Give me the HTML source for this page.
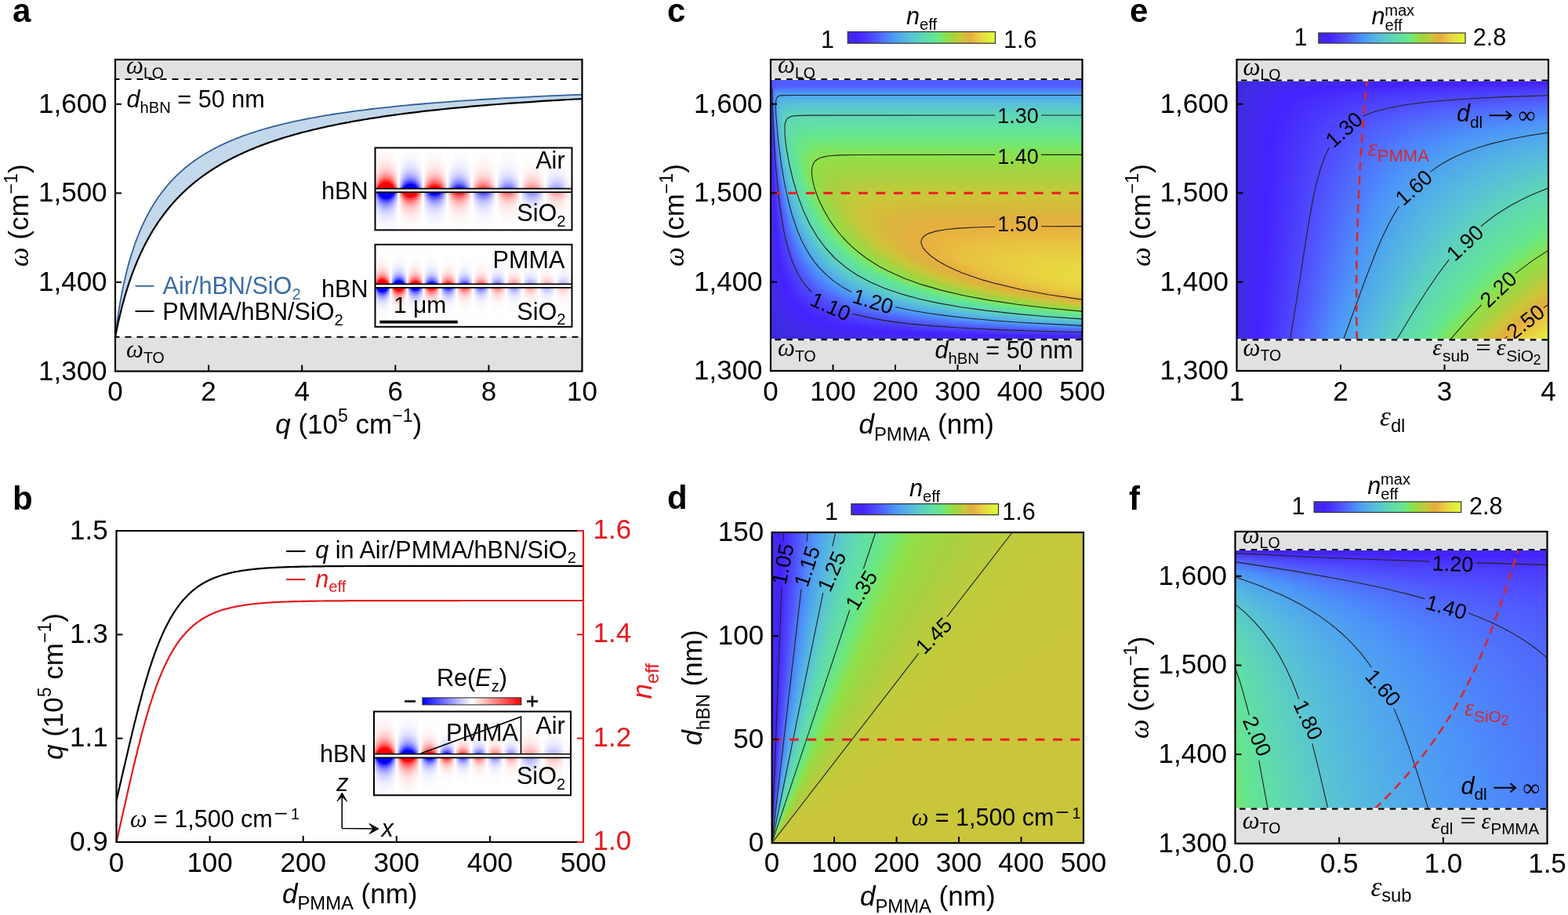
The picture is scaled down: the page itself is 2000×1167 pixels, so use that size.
<!DOCTYPE html>
<html><head><meta charset="utf-8"><title>Figure</title>
<style>
html,body{margin:0;padding:0;background:#fff}
body{width:2000px;height:1167px;position:relative;overflow:hidden}
canvas{position:absolute}
svg{position:absolute;left:0;top:0}
text{font-family:"Liberation Sans", Arial, sans-serif;}
</style></head><body>
<svg class="fb" width="2000" height="1167"><defs><linearGradient id="fbc0"><stop offset="0.000" stop-color="#3c28dc"/><stop offset="0.059" stop-color="#505cfe"/><stop offset="0.118" stop-color="#505cfe"/><stop offset="0.176" stop-color="#505cfe"/><stop offset="0.235" stop-color="#505cfe"/><stop offset="0.294" stop-color="#505cfe"/><stop offset="0.353" stop-color="#505cfe"/><stop offset="0.412" stop-color="#505cfe"/><stop offset="0.471" stop-color="#505cfe"/><stop offset="0.529" stop-color="#505cfe"/><stop offset="0.588" stop-color="#505cfe"/><stop offset="0.647" stop-color="#505cfe"/><stop offset="0.706" stop-color="#505cfe"/><stop offset="0.765" stop-color="#505cfe"/><stop offset="0.824" stop-color="#505cfe"/><stop offset="0.882" stop-color="#505cfe"/><stop offset="0.941" stop-color="#505cfe"/><stop offset="1.000" stop-color="#505cfe"/></linearGradient><linearGradient id="fbc1"><stop offset="0.000" stop-color="#3c28dc"/><stop offset="0.059" stop-color="#4d97f6"/><stop offset="0.118" stop-color="#4d97f6"/><stop offset="0.176" stop-color="#4d97f6"/><stop offset="0.235" stop-color="#4d97f6"/><stop offset="0.294" stop-color="#4d97f6"/><stop offset="0.353" stop-color="#4d97f6"/><stop offset="0.412" stop-color="#4d97f6"/><stop offset="0.471" stop-color="#4d97f6"/><stop offset="0.529" stop-color="#4d97f6"/><stop offset="0.588" stop-color="#4d97f6"/><stop offset="0.647" stop-color="#4d97f6"/><stop offset="0.706" stop-color="#4d97f6"/><stop offset="0.765" stop-color="#4d97f6"/><stop offset="0.824" stop-color="#4d97f6"/><stop offset="0.882" stop-color="#4d97f6"/><stop offset="0.941" stop-color="#4d97f6"/><stop offset="1.000" stop-color="#4d97f6"/></linearGradient><linearGradient id="fbc2"><stop offset="0.000" stop-color="#3c28dc"/><stop offset="0.059" stop-color="#56badd"/><stop offset="0.118" stop-color="#56badd"/><stop offset="0.176" stop-color="#56badd"/><stop offset="0.235" stop-color="#56badd"/><stop offset="0.294" stop-color="#56badd"/><stop offset="0.353" stop-color="#56badd"/><stop offset="0.412" stop-color="#56badd"/><stop offset="0.471" stop-color="#56badd"/><stop offset="0.529" stop-color="#56badd"/><stop offset="0.588" stop-color="#56badd"/><stop offset="0.647" stop-color="#56badd"/><stop offset="0.706" stop-color="#56badd"/><stop offset="0.765" stop-color="#56badd"/><stop offset="0.824" stop-color="#56badd"/><stop offset="0.882" stop-color="#56badd"/><stop offset="0.941" stop-color="#56badd"/><stop offset="1.000" stop-color="#56badd"/></linearGradient><linearGradient id="fbc3"><stop offset="0.000" stop-color="#3c28dc"/><stop offset="0.059" stop-color="#5bcec3"/><stop offset="0.118" stop-color="#5cd0c1"/><stop offset="0.176" stop-color="#5cd0c1"/><stop offset="0.235" stop-color="#5cd0c1"/><stop offset="0.294" stop-color="#5cd0c1"/><stop offset="0.353" stop-color="#5cd0c1"/><stop offset="0.412" stop-color="#5cd0c1"/><stop offset="0.471" stop-color="#5cd0c1"/><stop offset="0.529" stop-color="#5cd0c1"/><stop offset="0.588" stop-color="#5cd0c1"/><stop offset="0.647" stop-color="#5cd0c1"/><stop offset="0.706" stop-color="#5cd0c1"/><stop offset="0.765" stop-color="#5cd0c1"/><stop offset="0.824" stop-color="#5cd0c1"/><stop offset="0.882" stop-color="#5cd0c1"/><stop offset="0.941" stop-color="#5cd0c1"/><stop offset="1.000" stop-color="#5cd0c1"/></linearGradient><linearGradient id="fbc4"><stop offset="0.000" stop-color="#3c28dc"/><stop offset="0.059" stop-color="#5fd8b2"/><stop offset="0.118" stop-color="#60dbab"/><stop offset="0.176" stop-color="#60dcab"/><stop offset="0.235" stop-color="#60dcab"/><stop offset="0.294" stop-color="#60dcab"/><stop offset="0.353" stop-color="#60dcab"/><stop offset="0.412" stop-color="#60dcab"/><stop offset="0.471" stop-color="#60dcab"/><stop offset="0.529" stop-color="#60dcab"/><stop offset="0.588" stop-color="#60dcab"/><stop offset="0.647" stop-color="#60dcab"/><stop offset="0.706" stop-color="#60dcab"/><stop offset="0.765" stop-color="#60dcab"/><stop offset="0.824" stop-color="#60dcab"/><stop offset="0.882" stop-color="#60dcab"/><stop offset="0.941" stop-color="#60dcab"/><stop offset="1.000" stop-color="#60dcab"/></linearGradient><linearGradient id="fbc5"><stop offset="0.000" stop-color="#3c28dc"/><stop offset="0.059" stop-color="#60dca9"/><stop offset="0.118" stop-color="#63e29a"/><stop offset="0.176" stop-color="#63e299"/><stop offset="0.235" stop-color="#63e299"/><stop offset="0.294" stop-color="#63e299"/><stop offset="0.353" stop-color="#63e299"/><stop offset="0.412" stop-color="#63e299"/><stop offset="0.471" stop-color="#63e299"/><stop offset="0.529" stop-color="#63e299"/><stop offset="0.588" stop-color="#63e299"/><stop offset="0.647" stop-color="#63e299"/><stop offset="0.706" stop-color="#63e299"/><stop offset="0.765" stop-color="#63e299"/><stop offset="0.824" stop-color="#63e299"/><stop offset="0.882" stop-color="#63e299"/><stop offset="0.941" stop-color="#63e299"/><stop offset="1.000" stop-color="#63e299"/></linearGradient><linearGradient id="fbc6"><stop offset="0.000" stop-color="#3c28dc"/><stop offset="0.059" stop-color="#61dda6"/><stop offset="0.118" stop-color="#6ae687"/><stop offset="0.176" stop-color="#6ce782"/><stop offset="0.235" stop-color="#6ce781"/><stop offset="0.294" stop-color="#6ce781"/><stop offset="0.353" stop-color="#6ce781"/><stop offset="0.412" stop-color="#6ce781"/><stop offset="0.471" stop-color="#6ce781"/><stop offset="0.529" stop-color="#6ce781"/><stop offset="0.588" stop-color="#6ce781"/><stop offset="0.647" stop-color="#6ce781"/><stop offset="0.706" stop-color="#6ce781"/><stop offset="0.765" stop-color="#6ce781"/><stop offset="0.824" stop-color="#6ce781"/><stop offset="0.882" stop-color="#6ce781"/><stop offset="0.941" stop-color="#6ce781"/><stop offset="1.000" stop-color="#6ce781"/></linearGradient><linearGradient id="fbc7"><stop offset="0.000" stop-color="#3c28dc"/><stop offset="0.059" stop-color="#60dcaa"/><stop offset="0.118" stop-color="#73e773"/><stop offset="0.176" stop-color="#7de565"/><stop offset="0.235" stop-color="#7ee563"/><stop offset="0.294" stop-color="#7ee463"/><stop offset="0.353" stop-color="#7ee463"/><stop offset="0.412" stop-color="#7ee463"/><stop offset="0.471" stop-color="#7ee463"/><stop offset="0.529" stop-color="#7ee463"/><stop offset="0.588" stop-color="#7ee463"/><stop offset="0.647" stop-color="#7ee463"/><stop offset="0.706" stop-color="#7ee463"/><stop offset="0.765" stop-color="#7ee463"/><stop offset="0.824" stop-color="#7ee463"/><stop offset="0.882" stop-color="#7ee463"/><stop offset="0.941" stop-color="#7ee463"/><stop offset="1.000" stop-color="#7ee463"/></linearGradient><linearGradient id="fbc8"><stop offset="0.000" stop-color="#3c28dc"/><stop offset="0.059" stop-color="#5fd8b2"/><stop offset="0.118" stop-color="#7de565"/><stop offset="0.176" stop-color="#8ee14b"/><stop offset="0.235" stop-color="#91df48"/><stop offset="0.294" stop-color="#91df48"/><stop offset="0.353" stop-color="#91df48"/><stop offset="0.412" stop-color="#91df48"/><stop offset="0.471" stop-color="#91df48"/><stop offset="0.529" stop-color="#91df48"/><stop offset="0.588" stop-color="#91df48"/><stop offset="0.647" stop-color="#91df48"/><stop offset="0.706" stop-color="#91df48"/><stop offset="0.765" stop-color="#91df48"/><stop offset="0.824" stop-color="#91df48"/><stop offset="0.882" stop-color="#91df48"/><stop offset="0.941" stop-color="#91df48"/><stop offset="1.000" stop-color="#91df48"/></linearGradient><linearGradient id="fbc9"><stop offset="0.000" stop-color="#3c28dc"/><stop offset="0.059" stop-color="#5cd1be"/><stop offset="0.118" stop-color="#80e461"/><stop offset="0.176" stop-color="#98db45"/><stop offset="0.235" stop-color="#9cd844"/><stop offset="0.294" stop-color="#9dd744"/><stop offset="0.353" stop-color="#9ed743"/><stop offset="0.412" stop-color="#9ed743"/><stop offset="0.471" stop-color="#9ed743"/><stop offset="0.529" stop-color="#9ed743"/><stop offset="0.588" stop-color="#9ed743"/><stop offset="0.647" stop-color="#9ed743"/><stop offset="0.706" stop-color="#9ed743"/><stop offset="0.765" stop-color="#9ed743"/><stop offset="0.824" stop-color="#9ed743"/><stop offset="0.882" stop-color="#9ed743"/><stop offset="0.941" stop-color="#9ed743"/><stop offset="1.000" stop-color="#9ed743"/></linearGradient><linearGradient id="fbc10"><stop offset="0.000" stop-color="#3c28dc"/><stop offset="0.059" stop-color="#5ac7cd"/><stop offset="0.118" stop-color="#7be567"/><stop offset="0.176" stop-color="#9ed743"/><stop offset="0.235" stop-color="#a6d241"/><stop offset="0.294" stop-color="#a8d040"/><stop offset="0.353" stop-color="#a9d040"/><stop offset="0.412" stop-color="#aad040"/><stop offset="0.471" stop-color="#aad040"/><stop offset="0.529" stop-color="#aad040"/><stop offset="0.588" stop-color="#aad040"/><stop offset="0.647" stop-color="#aad040"/><stop offset="0.706" stop-color="#aad040"/><stop offset="0.765" stop-color="#aad040"/><stop offset="0.824" stop-color="#aad040"/><stop offset="0.882" stop-color="#aad040"/><stop offset="0.941" stop-color="#aad040"/><stop offset="1.000" stop-color="#aad040"/></linearGradient><linearGradient id="fbc11"><stop offset="0.000" stop-color="#3c28dc"/><stop offset="0.059" stop-color="#56bbdc"/><stop offset="0.118" stop-color="#70e878"/><stop offset="0.176" stop-color="#a0d643"/><stop offset="0.235" stop-color="#b0ce3f"/><stop offset="0.294" stop-color="#b7cd3e"/><stop offset="0.353" stop-color="#b9cc3d"/><stop offset="0.412" stop-color="#bacc3d"/><stop offset="0.471" stop-color="#bacc3d"/><stop offset="0.529" stop-color="#bbcc3d"/><stop offset="0.588" stop-color="#bbcc3d"/><stop offset="0.647" stop-color="#bbcc3d"/><stop offset="0.706" stop-color="#bbcc3d"/><stop offset="0.765" stop-color="#bbcc3d"/><stop offset="0.824" stop-color="#bbcc3d"/><stop offset="0.882" stop-color="#bbcc3d"/><stop offset="0.941" stop-color="#bbcc3d"/><stop offset="1.000" stop-color="#bbcc3d"/></linearGradient><linearGradient id="fbc12"><stop offset="0.000" stop-color="#3c28dc"/><stop offset="0.059" stop-color="#52afe6"/><stop offset="0.118" stop-color="#67e58c"/><stop offset="0.176" stop-color="#9ed743"/><stop offset="0.235" stop-color="#b6cd3e"/><stop offset="0.294" stop-color="#c2ca3c"/><stop offset="0.353" stop-color="#c7c83b"/><stop offset="0.412" stop-color="#c9c73b"/><stop offset="0.471" stop-color="#cac63b"/><stop offset="0.529" stop-color="#cac63b"/><stop offset="0.588" stop-color="#cac63b"/><stop offset="0.647" stop-color="#cac63b"/><stop offset="0.706" stop-color="#cac63b"/><stop offset="0.765" stop-color="#cac63b"/><stop offset="0.824" stop-color="#cac63b"/><stop offset="0.882" stop-color="#cac63b"/><stop offset="0.941" stop-color="#cac63b"/><stop offset="1.000" stop-color="#cac63b"/></linearGradient><linearGradient id="fbc13"><stop offset="0.000" stop-color="#3c28dc"/><stop offset="0.059" stop-color="#4fa1f0"/><stop offset="0.118" stop-color="#62e19d"/><stop offset="0.176" stop-color="#97db46"/><stop offset="0.235" stop-color="#b8cd3d"/><stop offset="0.294" stop-color="#cac63b"/><stop offset="0.353" stop-color="#d1c23a"/><stop offset="0.412" stop-color="#d2bf3b"/><stop offset="0.471" stop-color="#d3be3b"/><stop offset="0.529" stop-color="#d4be3b"/><stop offset="0.588" stop-color="#d4be3b"/><stop offset="0.647" stop-color="#d4be3b"/><stop offset="0.706" stop-color="#d4bd3b"/><stop offset="0.765" stop-color="#d4bd3b"/><stop offset="0.824" stop-color="#d4bd3b"/><stop offset="0.882" stop-color="#d4bd3b"/><stop offset="0.941" stop-color="#d4bd3b"/><stop offset="1.000" stop-color="#d4bd3b"/></linearGradient><linearGradient id="fbc14"><stop offset="0.000" stop-color="#3c28dc"/><stop offset="0.059" stop-color="#4c91f9"/><stop offset="0.118" stop-color="#5fdaae"/><stop offset="0.176" stop-color="#8ae251"/><stop offset="0.235" stop-color="#b2ce3e"/><stop offset="0.294" stop-color="#cdc53a"/><stop offset="0.353" stop-color="#d5bd3b"/><stop offset="0.412" stop-color="#d8b83c"/><stop offset="0.471" stop-color="#dab63d"/><stop offset="0.529" stop-color="#dbb53d"/><stop offset="0.588" stop-color="#dbb53e"/><stop offset="0.647" stop-color="#dcb43e"/><stop offset="0.706" stop-color="#dcb43e"/><stop offset="0.765" stop-color="#dcb43e"/><stop offset="0.824" stop-color="#dcb43e"/><stop offset="0.882" stop-color="#dcb43e"/><stop offset="0.941" stop-color="#dcb43e"/><stop offset="1.000" stop-color="#dcb43e"/></linearGradient><linearGradient id="fbc15"><stop offset="0.000" stop-color="#3c28dc"/><stop offset="0.059" stop-color="#4e7dfb"/><stop offset="0.118" stop-color="#5cd0c0"/><stop offset="0.176" stop-color="#72e775"/><stop offset="0.235" stop-color="#a6d141"/><stop offset="0.294" stop-color="#cac63b"/><stop offset="0.353" stop-color="#d6ba3c"/><stop offset="0.412" stop-color="#ddb33e"/><stop offset="0.471" stop-color="#e0b040"/><stop offset="0.529" stop-color="#e2b040"/><stop offset="0.588" stop-color="#e3b040"/><stop offset="0.647" stop-color="#e4b040"/><stop offset="0.706" stop-color="#e4b040"/><stop offset="0.765" stop-color="#e4b040"/><stop offset="0.824" stop-color="#e4b040"/><stop offset="0.882" stop-color="#e5b040"/><stop offset="0.941" stop-color="#e5b040"/><stop offset="1.000" stop-color="#e5b040"/></linearGradient><linearGradient id="fbc16"><stop offset="0.000" stop-color="#3c28dc"/><stop offset="0.059" stop-color="#506afd"/><stop offset="0.118" stop-color="#59c2d5"/><stop offset="0.176" stop-color="#64e495"/><stop offset="0.235" stop-color="#98da45"/><stop offset="0.294" stop-color="#c0cb3c"/><stop offset="0.353" stop-color="#d5bc3b"/><stop offset="0.412" stop-color="#dfb13f"/><stop offset="0.471" stop-color="#e5b040"/><stop offset="0.529" stop-color="#e8b040"/><stop offset="0.588" stop-color="#e8b340"/><stop offset="0.647" stop-color="#e8b440"/><stop offset="0.706" stop-color="#e8b540"/><stop offset="0.765" stop-color="#e8b640"/><stop offset="0.824" stop-color="#e8b640"/><stop offset="0.882" stop-color="#e8b640"/><stop offset="0.941" stop-color="#e8b640"/><stop offset="1.000" stop-color="#e8b740"/></linearGradient><linearGradient id="fbc17"><stop offset="0.000" stop-color="#3c28dc"/><stop offset="0.059" stop-color="#5059fe"/><stop offset="0.118" stop-color="#54b3e3"/><stop offset="0.176" stop-color="#60dca9"/><stop offset="0.235" stop-color="#80e460"/><stop offset="0.294" stop-color="#abcf3f"/><stop offset="0.353" stop-color="#d0c33a"/><stop offset="0.412" stop-color="#ddb33e"/><stop offset="0.471" stop-color="#e6b040"/><stop offset="0.529" stop-color="#e8b540"/><stop offset="0.588" stop-color="#e8b940"/><stop offset="0.647" stop-color="#e8bc40"/><stop offset="0.706" stop-color="#e8be40"/><stop offset="0.765" stop-color="#e8c040"/><stop offset="0.824" stop-color="#e8c040"/><stop offset="0.882" stop-color="#e8c140"/><stop offset="0.941" stop-color="#e8c140"/><stop offset="1.000" stop-color="#e8c140"/></linearGradient><linearGradient id="fbc18"><stop offset="0.000" stop-color="#3c28dc"/><stop offset="0.059" stop-color="#4f4bfe"/><stop offset="0.118" stop-color="#4fa2ef"/><stop offset="0.176" stop-color="#5cd1bf"/><stop offset="0.235" stop-color="#67e58d"/><stop offset="0.294" stop-color="#97db46"/><stop offset="0.353" stop-color="#bdcc3d"/><stop offset="0.412" stop-color="#d6bb3b"/><stop offset="0.471" stop-color="#e3b040"/><stop offset="0.529" stop-color="#e8b540"/><stop offset="0.588" stop-color="#e8bc40"/><stop offset="0.647" stop-color="#e8c240"/><stop offset="0.706" stop-color="#e8c540"/><stop offset="0.765" stop-color="#e8c840"/><stop offset="0.824" stop-color="#e8ca40"/><stop offset="0.882" stop-color="#e8cb40"/><stop offset="0.941" stop-color="#e8cc40"/><stop offset="1.000" stop-color="#e8cc40"/></linearGradient><linearGradient id="fbc19"><stop offset="0.000" stop-color="#3c28dc"/><stop offset="0.059" stop-color="#4c41fd"/><stop offset="0.118" stop-color="#4c8efa"/><stop offset="0.176" stop-color="#58bfd8"/><stop offset="0.235" stop-color="#60dda8"/><stop offset="0.294" stop-color="#74e771"/><stop offset="0.353" stop-color="#a0d543"/><stop offset="0.412" stop-color="#c5c83b"/><stop offset="0.471" stop-color="#d9b73d"/><stop offset="0.529" stop-color="#e6b040"/><stop offset="0.588" stop-color="#e8ba40"/><stop offset="0.647" stop-color="#e8c340"/><stop offset="0.706" stop-color="#e8c940"/><stop offset="0.765" stop-color="#e8cd40"/><stop offset="0.824" stop-color="#e8d040"/><stop offset="0.882" stop-color="#e8d240"/><stop offset="0.941" stop-color="#e8d440"/><stop offset="1.000" stop-color="#e8d540"/></linearGradient><linearGradient id="fbc20"><stop offset="0.000" stop-color="#3c28dc"/><stop offset="0.059" stop-color="#4a37fc"/><stop offset="0.118" stop-color="#4f75fc"/><stop offset="0.176" stop-color="#52ade8"/><stop offset="0.235" stop-color="#5bcec3"/><stop offset="0.294" stop-color="#62e19d"/><stop offset="0.353" stop-color="#7ee564"/><stop offset="0.412" stop-color="#a2d442"/><stop offset="0.471" stop-color="#c6c83b"/><stop offset="0.529" stop-color="#d9b73c"/><stop offset="0.588" stop-color="#e7b040"/><stop offset="0.647" stop-color="#e8bb40"/><stop offset="0.706" stop-color="#e8c540"/><stop offset="0.765" stop-color="#e8cd40"/><stop offset="0.824" stop-color="#e8d240"/><stop offset="0.882" stop-color="#e8d640"/><stop offset="0.941" stop-color="#e8d840"/><stop offset="1.000" stop-color="#e8da40"/></linearGradient><linearGradient id="fbc21"><stop offset="0.000" stop-color="#3c28dc"/><stop offset="0.059" stop-color="#472ffd"/><stop offset="0.118" stop-color="#505dfe"/><stop offset="0.176" stop-color="#4d96f7"/><stop offset="0.235" stop-color="#56b9de"/><stop offset="0.294" stop-color="#5dd3bb"/><stop offset="0.353" stop-color="#63e19c"/><stop offset="0.412" stop-color="#7ae66a"/><stop offset="0.471" stop-color="#9dd744"/><stop offset="0.529" stop-color="#bccc3d"/><stop offset="0.588" stop-color="#d4bd3b"/><stop offset="0.647" stop-color="#e2b040"/><stop offset="0.706" stop-color="#e8b740"/><stop offset="0.765" stop-color="#e8c340"/><stop offset="0.824" stop-color="#e8cd40"/><stop offset="0.882" stop-color="#e8d340"/><stop offset="0.941" stop-color="#e8d840"/><stop offset="1.000" stop-color="#e8dc40"/></linearGradient><linearGradient id="fbc22"><stop offset="0.000" stop-color="#3c28dc"/><stop offset="0.059" stop-color="#4527fe"/><stop offset="0.118" stop-color="#4e49fe"/><stop offset="0.176" stop-color="#4f77fc"/><stop offset="0.235" stop-color="#4fa0f0"/><stop offset="0.294" stop-color="#56bbdc"/><stop offset="0.353" stop-color="#5cd1be"/><stop offset="0.412" stop-color="#61dfa3"/><stop offset="0.471" stop-color="#6ce782"/><stop offset="0.529" stop-color="#8de14c"/><stop offset="0.588" stop-color="#a5d241"/><stop offset="0.647" stop-color="#c3ca3c"/><stop offset="0.706" stop-color="#d6bb3c"/><stop offset="0.765" stop-color="#e3b040"/><stop offset="0.824" stop-color="#e8b840"/><stop offset="0.882" stop-color="#e8c440"/><stop offset="0.941" stop-color="#e8ce40"/><stop offset="1.000" stop-color="#e8d540"/></linearGradient><linearGradient id="fbc23"><stop offset="0.000" stop-color="#3c28dc"/><stop offset="0.059" stop-color="#4423fd"/><stop offset="0.118" stop-color="#4b3afc"/><stop offset="0.176" stop-color="#5058fe"/><stop offset="0.235" stop-color="#4e7efb"/><stop offset="0.294" stop-color="#4e9ff1"/><stop offset="0.353" stop-color="#54b5e1"/><stop offset="0.412" stop-color="#5ac8cc"/><stop offset="0.471" stop-color="#5ed6b4"/><stop offset="0.529" stop-color="#62e09f"/><stop offset="0.588" stop-color="#6ce782"/><stop offset="0.647" stop-color="#87e256"/><stop offset="0.706" stop-color="#9dd744"/><stop offset="0.765" stop-color="#b4ce3e"/><stop offset="0.824" stop-color="#cdc53a"/><stop offset="0.882" stop-color="#d9b73c"/><stop offset="0.941" stop-color="#e5b040"/><stop offset="1.000" stop-color="#e8b940"/></linearGradient><linearGradient id="fbc24"><stop offset="0.000" stop-color="#3c28dc"/><stop offset="0.059" stop-color="#4326f5"/><stop offset="0.118" stop-color="#472dfe"/><stop offset="0.176" stop-color="#4c41fd"/><stop offset="0.235" stop-color="#5058fe"/><stop offset="0.294" stop-color="#4f75fc"/><stop offset="0.353" stop-color="#4c91f9"/><stop offset="0.412" stop-color="#50a6ed"/><stop offset="0.471" stop-color="#55b6e1"/><stop offset="0.529" stop-color="#59c4d2"/><stop offset="0.588" stop-color="#5cd1be"/><stop offset="0.647" stop-color="#5fdaad"/><stop offset="0.706" stop-color="#62e19d"/><stop offset="0.765" stop-color="#6ae687"/><stop offset="0.824" stop-color="#7ce566"/><stop offset="0.882" stop-color="#93de47"/><stop offset="0.941" stop-color="#a2d442"/><stop offset="1.000" stop-color="#b6cd3e"/></linearGradient><linearGradient id="fbc25"><stop offset="0.000" stop-color="#3c28dc"/><stop offset="0.059" stop-color="#4128ee"/><stop offset="0.118" stop-color="#4423fe"/><stop offset="0.176" stop-color="#472efd"/><stop offset="0.235" stop-color="#4b3cfc"/><stop offset="0.294" stop-color="#4f4afe"/><stop offset="0.353" stop-color="#505cfe"/><stop offset="0.412" stop-color="#5070fc"/><stop offset="0.471" stop-color="#4d84fb"/><stop offset="0.529" stop-color="#4d96f7"/><stop offset="0.588" stop-color="#4fa4ee"/><stop offset="0.647" stop-color="#53b0e5"/><stop offset="0.706" stop-color="#56badd"/><stop offset="0.765" stop-color="#59c4d2"/><stop offset="0.824" stop-color="#5bcec3"/><stop offset="0.882" stop-color="#5ed5b7"/><stop offset="0.941" stop-color="#60dcab"/><stop offset="1.000" stop-color="#62e09f"/></linearGradient><linearGradient id="fbc26"><stop offset="0.000" stop-color="#3c28dc"/><stop offset="0.059" stop-color="#402be7"/><stop offset="0.118" stop-color="#4227f0"/><stop offset="0.176" stop-color="#4324f9"/><stop offset="0.235" stop-color="#4525ff"/><stop offset="0.294" stop-color="#472dfe"/><stop offset="0.353" stop-color="#4935fc"/><stop offset="0.412" stop-color="#4b3dfd"/><stop offset="0.471" stop-color="#4d45fe"/><stop offset="0.529" stop-color="#4f4eff"/><stop offset="0.588" stop-color="#5058fe"/><stop offset="0.647" stop-color="#5064fd"/><stop offset="0.706" stop-color="#506ffc"/><stop offset="0.765" stop-color="#4f7bfb"/><stop offset="0.824" stop-color="#4d87fb"/><stop offset="0.882" stop-color="#4c92f9"/><stop offset="0.941" stop-color="#4e9af4"/><stop offset="1.000" stop-color="#4fa3ef"/></linearGradient><linearGradient id="fbc27"><stop offset="0.000" stop-color="#3c28dc"/><stop offset="0.059" stop-color="#3e2ae0"/><stop offset="0.118" stop-color="#402ce4"/><stop offset="0.176" stop-color="#402be7"/><stop offset="0.235" stop-color="#412aea"/><stop offset="0.294" stop-color="#4129ed"/><stop offset="0.353" stop-color="#4228f0"/><stop offset="0.412" stop-color="#4227f3"/><stop offset="0.471" stop-color="#4326f6"/><stop offset="0.529" stop-color="#4324f9"/><stop offset="0.588" stop-color="#4323fb"/><stop offset="0.647" stop-color="#4422fe"/><stop offset="0.706" stop-color="#4524ff"/><stop offset="0.765" stop-color="#4527fe"/><stop offset="0.824" stop-color="#4629fe"/><stop offset="0.882" stop-color="#472cfe"/><stop offset="0.941" stop-color="#472efd"/><stop offset="1.000" stop-color="#4831fd"/></linearGradient><linearGradient id="fbd0"><stop offset="0.000" stop-color="#3c28dc"/><stop offset="0.059" stop-color="#4b3cfc"/><stop offset="0.118" stop-color="#4e7ffb"/><stop offset="0.176" stop-color="#53b1e5"/><stop offset="0.235" stop-color="#5ccec3"/><stop offset="0.294" stop-color="#61dea5"/><stop offset="0.353" stop-color="#69e688"/><stop offset="0.412" stop-color="#80e460"/><stop offset="0.471" stop-color="#94dd47"/><stop offset="0.529" stop-color="#9fd643"/><stop offset="0.588" stop-color="#a7d040"/><stop offset="0.647" stop-color="#b1ce3f"/><stop offset="0.706" stop-color="#b8cd3d"/><stop offset="0.765" stop-color="#bdcc3d"/><stop offset="0.824" stop-color="#c0cb3c"/><stop offset="0.882" stop-color="#c3ca3c"/><stop offset="0.941" stop-color="#c5c93b"/><stop offset="1.000" stop-color="#c6c83b"/></linearGradient><linearGradient id="fbd1"><stop offset="0.000" stop-color="#3c28dc"/><stop offset="0.059" stop-color="#4b3efd"/><stop offset="0.118" stop-color="#4e84fb"/><stop offset="0.176" stop-color="#54b5e2"/><stop offset="0.235" stop-color="#5cd1be"/><stop offset="0.294" stop-color="#62e0a0"/><stop offset="0.353" stop-color="#6de77f"/><stop offset="0.412" stop-color="#86e256"/><stop offset="0.471" stop-color="#98db45"/><stop offset="0.529" stop-color="#a2d442"/><stop offset="0.588" stop-color="#abcf3f"/><stop offset="0.647" stop-color="#b4ce3e"/><stop offset="0.706" stop-color="#bacc3d"/><stop offset="0.765" stop-color="#bfcb3c"/><stop offset="0.824" stop-color="#c2ca3c"/><stop offset="0.882" stop-color="#c4c93b"/><stop offset="0.941" stop-color="#c6c83b"/><stop offset="1.000" stop-color="#c7c83b"/></linearGradient><linearGradient id="fbd2"><stop offset="0.000" stop-color="#3c28dc"/><stop offset="0.059" stop-color="#4c40fd"/><stop offset="0.118" stop-color="#4d8afa"/><stop offset="0.176" stop-color="#55b8de"/><stop offset="0.235" stop-color="#5dd4b8"/><stop offset="0.294" stop-color="#63e29b"/><stop offset="0.353" stop-color="#71e876"/><stop offset="0.412" stop-color="#8de14d"/><stop offset="0.471" stop-color="#9cd844"/><stop offset="0.529" stop-color="#a5d241"/><stop offset="0.588" stop-color="#afcf3f"/><stop offset="0.647" stop-color="#b7cd3e"/><stop offset="0.706" stop-color="#bccc3d"/><stop offset="0.765" stop-color="#c0cb3c"/><stop offset="0.824" stop-color="#c3ca3c"/><stop offset="0.882" stop-color="#c5c93b"/><stop offset="0.941" stop-color="#c7c83b"/><stop offset="1.000" stop-color="#c8c73b"/></linearGradient><linearGradient id="fbd3"><stop offset="0.000" stop-color="#3c28dc"/><stop offset="0.059" stop-color="#4d43fd"/><stop offset="0.118" stop-color="#4c90fa"/><stop offset="0.176" stop-color="#57bddb"/><stop offset="0.235" stop-color="#5ed7b3"/><stop offset="0.294" stop-color="#64e396"/><stop offset="0.353" stop-color="#79e66b"/><stop offset="0.412" stop-color="#92de47"/><stop offset="0.471" stop-color="#9fd643"/><stop offset="0.529" stop-color="#a8d040"/><stop offset="0.588" stop-color="#b2ce3e"/><stop offset="0.647" stop-color="#bacc3d"/><stop offset="0.706" stop-color="#bfcb3c"/><stop offset="0.765" stop-color="#c2ca3c"/><stop offset="0.824" stop-color="#c4c93b"/><stop offset="0.882" stop-color="#c6c83b"/><stop offset="0.941" stop-color="#c7c83b"/><stop offset="1.000" stop-color="#c8c73b"/></linearGradient><linearGradient id="fbd4"><stop offset="0.000" stop-color="#3c28dc"/><stop offset="0.059" stop-color="#4d45fe"/><stop offset="0.118" stop-color="#4d95f7"/><stop offset="0.176" stop-color="#58c1d7"/><stop offset="0.235" stop-color="#5fdaad"/><stop offset="0.294" stop-color="#67e58d"/><stop offset="0.353" stop-color="#80e45f"/><stop offset="0.412" stop-color="#97dc46"/><stop offset="0.471" stop-color="#a3d442"/><stop offset="0.529" stop-color="#adcf3f"/><stop offset="0.588" stop-color="#b6cd3e"/><stop offset="0.647" stop-color="#bccc3d"/><stop offset="0.706" stop-color="#c0cb3c"/><stop offset="0.765" stop-color="#c3c93c"/><stop offset="0.824" stop-color="#c5c83b"/><stop offset="0.882" stop-color="#c7c83b"/><stop offset="0.941" stop-color="#c8c73b"/><stop offset="1.000" stop-color="#c9c73b"/></linearGradient><linearGradient id="fbd5"><stop offset="0.000" stop-color="#3c28dc"/><stop offset="0.059" stop-color="#4e48fe"/><stop offset="0.118" stop-color="#4e9af4"/><stop offset="0.176" stop-color="#59c5d0"/><stop offset="0.235" stop-color="#60dda8"/><stop offset="0.294" stop-color="#6be683"/><stop offset="0.353" stop-color="#88e254"/><stop offset="0.412" stop-color="#9bd944"/><stop offset="0.471" stop-color="#a6d141"/><stop offset="0.529" stop-color="#b1ce3f"/><stop offset="0.588" stop-color="#b9cc3d"/><stop offset="0.647" stop-color="#becb3c"/><stop offset="0.706" stop-color="#c2ca3c"/><stop offset="0.765" stop-color="#c5c93b"/><stop offset="0.824" stop-color="#c6c83b"/><stop offset="0.882" stop-color="#c8c73b"/><stop offset="0.941" stop-color="#c8c73b"/><stop offset="1.000" stop-color="#c9c73b"/></linearGradient><linearGradient id="fbd6"><stop offset="0.000" stop-color="#3c28dc"/><stop offset="0.059" stop-color="#4f4bfe"/><stop offset="0.118" stop-color="#4f9ff1"/><stop offset="0.176" stop-color="#5acac9"/><stop offset="0.235" stop-color="#62dfa2"/><stop offset="0.294" stop-color="#6fe879"/><stop offset="0.353" stop-color="#90e049"/><stop offset="0.412" stop-color="#9fd643"/><stop offset="0.471" stop-color="#aad040"/><stop offset="0.529" stop-color="#b4cd3e"/><stop offset="0.588" stop-color="#bccc3d"/><stop offset="0.647" stop-color="#c1cb3c"/><stop offset="0.706" stop-color="#c4c93c"/><stop offset="0.765" stop-color="#c6c83b"/><stop offset="0.824" stop-color="#c7c83b"/><stop offset="0.882" stop-color="#c8c73b"/><stop offset="0.941" stop-color="#c9c73b"/><stop offset="1.000" stop-color="#c9c73b"/></linearGradient><linearGradient id="fbd7"><stop offset="0.000" stop-color="#3c28dc"/><stop offset="0.059" stop-color="#504fff"/><stop offset="0.118" stop-color="#50a5ee"/><stop offset="0.176" stop-color="#5ccfc2"/><stop offset="0.235" stop-color="#63e19b"/><stop offset="0.294" stop-color="#78e66c"/><stop offset="0.353" stop-color="#95dd46"/><stop offset="0.412" stop-color="#a3d342"/><stop offset="0.471" stop-color="#aecf3f"/><stop offset="0.529" stop-color="#b8cd3d"/><stop offset="0.588" stop-color="#becb3c"/><stop offset="0.647" stop-color="#c2ca3c"/><stop offset="0.706" stop-color="#c5c93b"/><stop offset="0.765" stop-color="#c7c83b"/><stop offset="0.824" stop-color="#c8c73b"/><stop offset="0.882" stop-color="#c9c73b"/><stop offset="0.941" stop-color="#c9c73b"/><stop offset="1.000" stop-color="#cac73b"/></linearGradient><linearGradient id="fbd8"><stop offset="0.000" stop-color="#3c28dc"/><stop offset="0.059" stop-color="#5054ff"/><stop offset="0.118" stop-color="#51abea"/><stop offset="0.176" stop-color="#5dd3bb"/><stop offset="0.235" stop-color="#64e495"/><stop offset="0.294" stop-color="#81e45e"/><stop offset="0.353" stop-color="#9ad945"/><stop offset="0.412" stop-color="#a7d140"/><stop offset="0.471" stop-color="#b3ce3e"/><stop offset="0.529" stop-color="#bbcc3d"/><stop offset="0.588" stop-color="#c1cb3c"/><stop offset="0.647" stop-color="#c4c93b"/><stop offset="0.706" stop-color="#c6c83b"/><stop offset="0.765" stop-color="#c8c73b"/><stop offset="0.824" stop-color="#c8c73b"/><stop offset="0.882" stop-color="#c9c73b"/><stop offset="0.941" stop-color="#c9c73b"/><stop offset="1.000" stop-color="#cac63b"/></linearGradient><linearGradient id="fbd9"><stop offset="0.000" stop-color="#3c28dc"/><stop offset="0.059" stop-color="#5059fe"/><stop offset="0.118" stop-color="#53b0e5"/><stop offset="0.176" stop-color="#5ed7b4"/><stop offset="0.235" stop-color="#68e58a"/><stop offset="0.294" stop-color="#8ae150"/><stop offset="0.353" stop-color="#9fd643"/><stop offset="0.412" stop-color="#abcf3f"/><stop offset="0.471" stop-color="#b7cd3e"/><stop offset="0.529" stop-color="#becb3c"/><stop offset="0.588" stop-color="#c3ca3c"/><stop offset="0.647" stop-color="#c5c83b"/><stop offset="0.706" stop-color="#c7c83b"/><stop offset="0.765" stop-color="#c8c73b"/><stop offset="0.824" stop-color="#c9c73b"/><stop offset="0.882" stop-color="#c9c73b"/><stop offset="0.941" stop-color="#cac63b"/><stop offset="1.000" stop-color="#cac63b"/></linearGradient><linearGradient id="fbd10"><stop offset="0.000" stop-color="#3c28dc"/><stop offset="0.059" stop-color="#5060fe"/><stop offset="0.118" stop-color="#55b6e1"/><stop offset="0.176" stop-color="#60dbac"/><stop offset="0.235" stop-color="#6ee77d"/><stop offset="0.294" stop-color="#92de47"/><stop offset="0.353" stop-color="#a3d342"/><stop offset="0.412" stop-color="#b1ce3f"/><stop offset="0.471" stop-color="#bbcc3d"/><stop offset="0.529" stop-color="#c1cb3c"/><stop offset="0.588" stop-color="#c4c93b"/><stop offset="0.647" stop-color="#c7c83b"/><stop offset="0.706" stop-color="#c8c73b"/><stop offset="0.765" stop-color="#c9c73b"/><stop offset="0.824" stop-color="#c9c73b"/><stop offset="0.882" stop-color="#cac63b"/><stop offset="0.941" stop-color="#cac63b"/><stop offset="1.000" stop-color="#cac63b"/></linearGradient><linearGradient id="fbd11"><stop offset="0.000" stop-color="#3c28dc"/><stop offset="0.059" stop-color="#5066fd"/><stop offset="0.118" stop-color="#57bcdc"/><stop offset="0.176" stop-color="#61dea5"/><stop offset="0.235" stop-color="#77e66e"/><stop offset="0.294" stop-color="#98da45"/><stop offset="0.353" stop-color="#a7d040"/><stop offset="0.412" stop-color="#b6cd3e"/><stop offset="0.471" stop-color="#becb3c"/><stop offset="0.529" stop-color="#c3ca3c"/><stop offset="0.588" stop-color="#c6c83b"/><stop offset="0.647" stop-color="#c8c73b"/><stop offset="0.706" stop-color="#c9c73b"/><stop offset="0.765" stop-color="#c9c73b"/><stop offset="0.824" stop-color="#cac73b"/><stop offset="0.882" stop-color="#cac63b"/><stop offset="0.941" stop-color="#cac63b"/><stop offset="1.000" stop-color="#cac63b"/></linearGradient><linearGradient id="fbd12"><stop offset="0.000" stop-color="#3c28dc"/><stop offset="0.059" stop-color="#506efc"/><stop offset="0.118" stop-color="#59c2d5"/><stop offset="0.176" stop-color="#62e19c"/><stop offset="0.235" stop-color="#82e35c"/><stop offset="0.294" stop-color="#9ed743"/><stop offset="0.353" stop-color="#aecf3f"/><stop offset="0.412" stop-color="#bacc3d"/><stop offset="0.471" stop-color="#c1cb3c"/><stop offset="0.529" stop-color="#c5c93b"/><stop offset="0.588" stop-color="#c7c83b"/><stop offset="0.647" stop-color="#c8c73b"/><stop offset="0.706" stop-color="#c9c73b"/><stop offset="0.765" stop-color="#cac73b"/><stop offset="0.824" stop-color="#cac63b"/><stop offset="0.882" stop-color="#cac63b"/><stop offset="0.941" stop-color="#cac63b"/><stop offset="1.000" stop-color="#cac63b"/></linearGradient><linearGradient id="fbd13"><stop offset="0.000" stop-color="#3c28dc"/><stop offset="0.059" stop-color="#4f77fc"/><stop offset="0.118" stop-color="#5ac9cb"/><stop offset="0.176" stop-color="#64e494"/><stop offset="0.235" stop-color="#8ee14b"/><stop offset="0.294" stop-color="#a4d341"/><stop offset="0.353" stop-color="#b4ce3e"/><stop offset="0.412" stop-color="#becb3c"/><stop offset="0.471" stop-color="#c3c93c"/><stop offset="0.529" stop-color="#c6c83b"/><stop offset="0.588" stop-color="#c8c73b"/><stop offset="0.647" stop-color="#c9c73b"/><stop offset="0.706" stop-color="#c9c73b"/><stop offset="0.765" stop-color="#cac63b"/><stop offset="0.824" stop-color="#cac63b"/><stop offset="0.882" stop-color="#cac63b"/><stop offset="0.941" stop-color="#cac63b"/><stop offset="1.000" stop-color="#cac63b"/></linearGradient><linearGradient id="fbd14"><stop offset="0.000" stop-color="#3c28dc"/><stop offset="0.059" stop-color="#4e81fb"/><stop offset="0.118" stop-color="#5cd0c0"/><stop offset="0.176" stop-color="#6be683"/><stop offset="0.235" stop-color="#96dc46"/><stop offset="0.294" stop-color="#a9d040"/><stop offset="0.353" stop-color="#b9cc3d"/><stop offset="0.412" stop-color="#c1ca3c"/><stop offset="0.471" stop-color="#c5c93b"/><stop offset="0.529" stop-color="#c8c73b"/><stop offset="0.588" stop-color="#c9c73b"/><stop offset="0.647" stop-color="#c9c73b"/><stop offset="0.706" stop-color="#cac63b"/><stop offset="0.765" stop-color="#cac63b"/><stop offset="0.824" stop-color="#cac63b"/><stop offset="0.882" stop-color="#cac63b"/><stop offset="0.941" stop-color="#cac63b"/><stop offset="1.000" stop-color="#cac63b"/></linearGradient><linearGradient id="fbd15"><stop offset="0.000" stop-color="#3c28dc"/><stop offset="0.059" stop-color="#4c8dfa"/><stop offset="0.118" stop-color="#5ed6b6"/><stop offset="0.176" stop-color="#75e771"/><stop offset="0.235" stop-color="#9dd744"/><stop offset="0.294" stop-color="#b1ce3f"/><stop offset="0.353" stop-color="#bdcc3c"/><stop offset="0.412" stop-color="#c4c93b"/><stop offset="0.471" stop-color="#c7c83b"/><stop offset="0.529" stop-color="#c9c73b"/><stop offset="0.588" stop-color="#c9c73b"/><stop offset="0.647" stop-color="#cac63b"/><stop offset="0.706" stop-color="#cac63b"/><stop offset="0.765" stop-color="#cac63b"/><stop offset="0.824" stop-color="#cac63b"/><stop offset="0.882" stop-color="#cac63b"/><stop offset="0.941" stop-color="#cac63b"/><stop offset="1.000" stop-color="#cac63b"/></linearGradient><linearGradient id="fbd16"><stop offset="0.000" stop-color="#3c28dc"/><stop offset="0.059" stop-color="#4d97f6"/><stop offset="0.118" stop-color="#60dcaa"/><stop offset="0.176" stop-color="#84e35a"/><stop offset="0.235" stop-color="#a4d341"/><stop offset="0.294" stop-color="#b7cd3d"/><stop offset="0.353" stop-color="#c1ca3c"/><stop offset="0.412" stop-color="#c6c83b"/><stop offset="0.471" stop-color="#c8c73b"/><stop offset="0.529" stop-color="#c9c73b"/><stop offset="0.588" stop-color="#cac63b"/><stop offset="0.647" stop-color="#cac63b"/><stop offset="0.706" stop-color="#cac63b"/><stop offset="0.765" stop-color="#cac63b"/><stop offset="0.824" stop-color="#cac63b"/><stop offset="0.882" stop-color="#cac63b"/><stop offset="0.941" stop-color="#cac63b"/><stop offset="1.000" stop-color="#cac63b"/></linearGradient><linearGradient id="fbd17"><stop offset="0.000" stop-color="#3c28dc"/><stop offset="0.059" stop-color="#4fa2ef"/><stop offset="0.118" stop-color="#62e09e"/><stop offset="0.176" stop-color="#92de47"/><stop offset="0.235" stop-color="#accf3f"/><stop offset="0.294" stop-color="#bdcc3c"/><stop offset="0.353" stop-color="#c4c93b"/><stop offset="0.412" stop-color="#c8c73b"/><stop offset="0.471" stop-color="#c9c73b"/><stop offset="0.529" stop-color="#cac63b"/><stop offset="0.588" stop-color="#cac63b"/><stop offset="0.647" stop-color="#cac63b"/><stop offset="0.706" stop-color="#cac63b"/><stop offset="0.765" stop-color="#cac63b"/><stop offset="0.824" stop-color="#cac63b"/><stop offset="0.882" stop-color="#cac63b"/><stop offset="0.941" stop-color="#cac63b"/><stop offset="1.000" stop-color="#cac63b"/></linearGradient><linearGradient id="fbd18"><stop offset="0.000" stop-color="#3c28dc"/><stop offset="0.059" stop-color="#52ade8"/><stop offset="0.118" stop-color="#66e590"/><stop offset="0.176" stop-color="#9cd844"/><stop offset="0.235" stop-color="#b5cd3e"/><stop offset="0.294" stop-color="#c2ca3c"/><stop offset="0.353" stop-color="#c7c83b"/><stop offset="0.412" stop-color="#c9c73b"/><stop offset="0.471" stop-color="#cac73b"/><stop offset="0.529" stop-color="#cac63b"/><stop offset="0.588" stop-color="#cac63b"/><stop offset="0.647" stop-color="#cac63b"/><stop offset="0.706" stop-color="#cac63b"/><stop offset="0.765" stop-color="#cac63b"/><stop offset="0.824" stop-color="#cac63b"/><stop offset="0.882" stop-color="#cac63b"/><stop offset="0.941" stop-color="#cac63b"/><stop offset="1.000" stop-color="#cac63b"/></linearGradient><linearGradient id="fbd19"><stop offset="0.000" stop-color="#3c28dc"/><stop offset="0.059" stop-color="#55b8de"/><stop offset="0.118" stop-color="#71e876"/><stop offset="0.176" stop-color="#a5d241"/><stop offset="0.235" stop-color="#bccc3d"/><stop offset="0.294" stop-color="#c5c93b"/><stop offset="0.353" stop-color="#c8c73b"/><stop offset="0.412" stop-color="#c9c73b"/><stop offset="0.471" stop-color="#cac63b"/><stop offset="0.529" stop-color="#cac63b"/><stop offset="0.588" stop-color="#cac63b"/><stop offset="0.647" stop-color="#cac63b"/><stop offset="0.706" stop-color="#cac63b"/><stop offset="0.765" stop-color="#cac63b"/><stop offset="0.824" stop-color="#cac63b"/><stop offset="0.882" stop-color="#cac63b"/><stop offset="0.941" stop-color="#cac63b"/><stop offset="1.000" stop-color="#cac63b"/></linearGradient><linearGradient id="fbd20"><stop offset="0.000" stop-color="#3c28dc"/><stop offset="0.059" stop-color="#59c5d0"/><stop offset="0.118" stop-color="#88e254"/><stop offset="0.176" stop-color="#b1ce3f"/><stop offset="0.235" stop-color="#c2ca3c"/><stop offset="0.294" stop-color="#c8c73b"/><stop offset="0.353" stop-color="#c9c73b"/><stop offset="0.412" stop-color="#cac63b"/><stop offset="0.471" stop-color="#cac63b"/><stop offset="0.529" stop-color="#cac63b"/><stop offset="0.588" stop-color="#cac63b"/><stop offset="0.647" stop-color="#cac63b"/><stop offset="0.706" stop-color="#cac63b"/><stop offset="0.765" stop-color="#cac63b"/><stop offset="0.824" stop-color="#cac63b"/><stop offset="0.882" stop-color="#cac63b"/><stop offset="0.941" stop-color="#cac63b"/><stop offset="1.000" stop-color="#cac63b"/></linearGradient><linearGradient id="fbd21"><stop offset="0.000" stop-color="#3c28dc"/><stop offset="0.059" stop-color="#5dd3bb"/><stop offset="0.118" stop-color="#9ad945"/><stop offset="0.176" stop-color="#bbcc3d"/><stop offset="0.235" stop-color="#c6c83b"/><stop offset="0.294" stop-color="#c9c73b"/><stop offset="0.353" stop-color="#cac63b"/><stop offset="0.412" stop-color="#cac63b"/><stop offset="0.471" stop-color="#cac63b"/><stop offset="0.529" stop-color="#cac63b"/><stop offset="0.588" stop-color="#cac63b"/><stop offset="0.647" stop-color="#cac63b"/><stop offset="0.706" stop-color="#cac63b"/><stop offset="0.765" stop-color="#cac63b"/><stop offset="0.824" stop-color="#cac63b"/><stop offset="0.882" stop-color="#cac63b"/><stop offset="0.941" stop-color="#cac63b"/><stop offset="1.000" stop-color="#cac63b"/></linearGradient><linearGradient id="fbd22"><stop offset="0.000" stop-color="#3c28dc"/><stop offset="0.059" stop-color="#61dea5"/><stop offset="0.118" stop-color="#a7d040"/><stop offset="0.176" stop-color="#c3ca3c"/><stop offset="0.235" stop-color="#c9c73b"/><stop offset="0.294" stop-color="#cac63b"/><stop offset="0.353" stop-color="#cac63b"/><stop offset="0.412" stop-color="#cac63b"/><stop offset="0.471" stop-color="#cac63b"/><stop offset="0.529" stop-color="#cac63b"/><stop offset="0.588" stop-color="#cac63b"/><stop offset="0.647" stop-color="#cac63b"/><stop offset="0.706" stop-color="#cac63b"/><stop offset="0.765" stop-color="#cac63b"/><stop offset="0.824" stop-color="#cac63b"/><stop offset="0.882" stop-color="#cac63b"/><stop offset="0.941" stop-color="#cac63b"/><stop offset="1.000" stop-color="#cac63b"/></linearGradient><linearGradient id="fbd23"><stop offset="0.000" stop-color="#3c28dc"/><stop offset="0.059" stop-color="#6be683"/><stop offset="0.118" stop-color="#b9cc3d"/><stop offset="0.176" stop-color="#c8c73b"/><stop offset="0.235" stop-color="#cac63b"/><stop offset="0.294" stop-color="#cac63b"/><stop offset="0.353" stop-color="#cac63b"/><stop offset="0.412" stop-color="#cac63b"/><stop offset="0.471" stop-color="#cac63b"/><stop offset="0.529" stop-color="#cac63b"/><stop offset="0.588" stop-color="#cac63b"/><stop offset="0.647" stop-color="#cac63b"/><stop offset="0.706" stop-color="#cac63b"/><stop offset="0.765" stop-color="#cac63b"/><stop offset="0.824" stop-color="#cac63b"/><stop offset="0.882" stop-color="#cac63b"/><stop offset="0.941" stop-color="#cac63b"/><stop offset="1.000" stop-color="#cac63b"/></linearGradient><linearGradient id="fbd24"><stop offset="0.000" stop-color="#3c28dc"/><stop offset="0.059" stop-color="#92de47"/><stop offset="0.118" stop-color="#c4c93b"/><stop offset="0.176" stop-color="#cac63b"/><stop offset="0.235" stop-color="#cac63b"/><stop offset="0.294" stop-color="#cac63b"/><stop offset="0.353" stop-color="#cac63b"/><stop offset="0.412" stop-color="#cac63b"/><stop offset="0.471" stop-color="#cac63b"/><stop offset="0.529" stop-color="#cac63b"/><stop offset="0.588" stop-color="#cac63b"/><stop offset="0.647" stop-color="#cac63b"/><stop offset="0.706" stop-color="#cac63b"/><stop offset="0.765" stop-color="#cac63b"/><stop offset="0.824" stop-color="#cac63b"/><stop offset="0.882" stop-color="#cac63b"/><stop offset="0.941" stop-color="#cac63b"/><stop offset="1.000" stop-color="#cac63b"/></linearGradient><linearGradient id="fbd25"><stop offset="0.000" stop-color="#3c28dc"/><stop offset="0.059" stop-color="#b1ce3f"/><stop offset="0.118" stop-color="#c9c73b"/><stop offset="0.176" stop-color="#cac63b"/><stop offset="0.235" stop-color="#cac63b"/><stop offset="0.294" stop-color="#cac63b"/><stop offset="0.353" stop-color="#cac63b"/><stop offset="0.412" stop-color="#cac63b"/><stop offset="0.471" stop-color="#cac63b"/><stop offset="0.529" stop-color="#cac63b"/><stop offset="0.588" stop-color="#cac63b"/><stop offset="0.647" stop-color="#cac63b"/><stop offset="0.706" stop-color="#cac63b"/><stop offset="0.765" stop-color="#cac63b"/><stop offset="0.824" stop-color="#cac63b"/><stop offset="0.882" stop-color="#cac63b"/><stop offset="0.941" stop-color="#cac63b"/><stop offset="1.000" stop-color="#cac63b"/></linearGradient><linearGradient id="fbd26"><stop offset="0.000" stop-color="#3c28dc"/><stop offset="0.059" stop-color="#c8c73b"/><stop offset="0.118" stop-color="#cac63b"/><stop offset="0.176" stop-color="#cac63b"/><stop offset="0.235" stop-color="#cac63b"/><stop offset="0.294" stop-color="#cac63b"/><stop offset="0.353" stop-color="#cac63b"/><stop offset="0.412" stop-color="#cac63b"/><stop offset="0.471" stop-color="#cac63b"/><stop offset="0.529" stop-color="#cac63b"/><stop offset="0.588" stop-color="#cac63b"/><stop offset="0.647" stop-color="#cac63b"/><stop offset="0.706" stop-color="#cac63b"/><stop offset="0.765" stop-color="#cac63b"/><stop offset="0.824" stop-color="#cac63b"/><stop offset="0.882" stop-color="#cac63b"/><stop offset="0.941" stop-color="#cac63b"/><stop offset="1.000" stop-color="#cac63b"/></linearGradient><linearGradient id="fbd27"><stop offset="0.000" stop-color="#3c28dc"/><stop offset="0.059" stop-color="#cac63b"/><stop offset="0.118" stop-color="#cac63b"/><stop offset="0.176" stop-color="#cac63b"/><stop offset="0.235" stop-color="#cac63b"/><stop offset="0.294" stop-color="#cac63b"/><stop offset="0.353" stop-color="#cac63b"/><stop offset="0.412" stop-color="#cac63b"/><stop offset="0.471" stop-color="#cac63b"/><stop offset="0.529" stop-color="#cac63b"/><stop offset="0.588" stop-color="#cac63b"/><stop offset="0.647" stop-color="#cac63b"/><stop offset="0.706" stop-color="#cac63b"/><stop offset="0.765" stop-color="#cac63b"/><stop offset="0.824" stop-color="#cac63b"/><stop offset="0.882" stop-color="#cac63b"/><stop offset="0.941" stop-color="#cac63b"/><stop offset="1.000" stop-color="#cac63b"/></linearGradient><linearGradient id="fbe0"><stop offset="0.000" stop-color="#3c28dc"/><stop offset="0.059" stop-color="#402be6"/><stop offset="0.118" stop-color="#4129eb"/><stop offset="0.176" stop-color="#4228f0"/><stop offset="0.235" stop-color="#4226f4"/><stop offset="0.294" stop-color="#4325f7"/><stop offset="0.353" stop-color="#4324f9"/><stop offset="0.412" stop-color="#4323fb"/><stop offset="0.471" stop-color="#4423fd"/><stop offset="0.529" stop-color="#4422ff"/><stop offset="0.588" stop-color="#4423ff"/><stop offset="0.647" stop-color="#4524ff"/><stop offset="0.706" stop-color="#4525ff"/><stop offset="0.765" stop-color="#4526fe"/><stop offset="0.824" stop-color="#4527fe"/><stop offset="0.882" stop-color="#4527fe"/><stop offset="0.941" stop-color="#4628fe"/><stop offset="1.000" stop-color="#4629fe"/></linearGradient><linearGradient id="fbe1"><stop offset="0.000" stop-color="#3c28dc"/><stop offset="0.059" stop-color="#412aea"/><stop offset="0.118" stop-color="#4226f4"/><stop offset="0.176" stop-color="#4423fc"/><stop offset="0.235" stop-color="#4525ff"/><stop offset="0.294" stop-color="#462afe"/><stop offset="0.353" stop-color="#472ffd"/><stop offset="0.412" stop-color="#4832fd"/><stop offset="0.471" stop-color="#4935fc"/><stop offset="0.529" stop-color="#4a38fc"/><stop offset="0.588" stop-color="#4b3bfc"/><stop offset="0.647" stop-color="#4b3dfd"/><stop offset="0.706" stop-color="#4c3ffd"/><stop offset="0.765" stop-color="#4c41fd"/><stop offset="0.824" stop-color="#4d43fd"/><stop offset="0.882" stop-color="#4d45fe"/><stop offset="0.941" stop-color="#4e46fe"/><stop offset="1.000" stop-color="#4e47fe"/></linearGradient><linearGradient id="fbe2"><stop offset="0.000" stop-color="#3c28dc"/><stop offset="0.059" stop-color="#4129ec"/><stop offset="0.118" stop-color="#4324f8"/><stop offset="0.176" stop-color="#4525ff"/><stop offset="0.235" stop-color="#472dfe"/><stop offset="0.294" stop-color="#4934fd"/><stop offset="0.353" stop-color="#4a39fc"/><stop offset="0.412" stop-color="#4c3ffd"/><stop offset="0.471" stop-color="#4d44fd"/><stop offset="0.529" stop-color="#4e48fe"/><stop offset="0.588" stop-color="#4f4cfe"/><stop offset="0.647" stop-color="#504fff"/><stop offset="0.706" stop-color="#5053ff"/><stop offset="0.765" stop-color="#5057fe"/><stop offset="0.824" stop-color="#505afe"/><stop offset="0.882" stop-color="#505efe"/><stop offset="0.941" stop-color="#5060fd"/><stop offset="1.000" stop-color="#5063fd"/></linearGradient><linearGradient id="fbe3"><stop offset="0.000" stop-color="#3c28dc"/><stop offset="0.059" stop-color="#4128ee"/><stop offset="0.118" stop-color="#4323fb"/><stop offset="0.176" stop-color="#4629fe"/><stop offset="0.235" stop-color="#4832fd"/><stop offset="0.294" stop-color="#4b3afc"/><stop offset="0.353" stop-color="#4c42fd"/><stop offset="0.412" stop-color="#4e49fe"/><stop offset="0.471" stop-color="#504fff"/><stop offset="0.529" stop-color="#5055fe"/><stop offset="0.588" stop-color="#505cfe"/><stop offset="0.647" stop-color="#5062fd"/><stop offset="0.706" stop-color="#5067fd"/><stop offset="0.765" stop-color="#506cfc"/><stop offset="0.824" stop-color="#5071fc"/><stop offset="0.882" stop-color="#4f75fc"/><stop offset="0.941" stop-color="#4f79fb"/><stop offset="1.000" stop-color="#4e7cfb"/></linearGradient><linearGradient id="fbe4"><stop offset="0.000" stop-color="#3c28dc"/><stop offset="0.059" stop-color="#4228ef"/><stop offset="0.118" stop-color="#4423fe"/><stop offset="0.176" stop-color="#472cfe"/><stop offset="0.235" stop-color="#4936fc"/><stop offset="0.294" stop-color="#4c40fd"/><stop offset="0.353" stop-color="#4e48fe"/><stop offset="0.412" stop-color="#5051ff"/><stop offset="0.471" stop-color="#505afe"/><stop offset="0.529" stop-color="#5063fd"/><stop offset="0.588" stop-color="#506bfd"/><stop offset="0.647" stop-color="#5072fc"/><stop offset="0.706" stop-color="#4f79fb"/><stop offset="0.765" stop-color="#4e7ffb"/><stop offset="0.824" stop-color="#4d84fb"/><stop offset="0.882" stop-color="#4d89fa"/><stop offset="0.941" stop-color="#4c8efa"/><stop offset="1.000" stop-color="#4c92f9"/></linearGradient><linearGradient id="fbe5"><stop offset="0.000" stop-color="#3c28dc"/><stop offset="0.059" stop-color="#4228ef"/><stop offset="0.118" stop-color="#4422ff"/><stop offset="0.176" stop-color="#472efd"/><stop offset="0.235" stop-color="#4a39fc"/><stop offset="0.294" stop-color="#4d44fe"/><stop offset="0.353" stop-color="#4f4eff"/><stop offset="0.412" stop-color="#5059fe"/><stop offset="0.471" stop-color="#5064fd"/><stop offset="0.529" stop-color="#506efc"/><stop offset="0.588" stop-color="#4f77fc"/><stop offset="0.647" stop-color="#4e80fb"/><stop offset="0.706" stop-color="#4d88fb"/><stop offset="0.765" stop-color="#4c8ffa"/><stop offset="0.824" stop-color="#4d94f8"/><stop offset="0.882" stop-color="#4d98f5"/><stop offset="0.941" stop-color="#4e9df3"/><stop offset="1.000" stop-color="#4fa0f0"/></linearGradient><linearGradient id="fbe6"><stop offset="0.000" stop-color="#3c28dc"/><stop offset="0.059" stop-color="#4228f0"/><stop offset="0.118" stop-color="#4423ff"/><stop offset="0.176" stop-color="#4830fd"/><stop offset="0.235" stop-color="#4b3cfd"/><stop offset="0.294" stop-color="#4e48fe"/><stop offset="0.353" stop-color="#5053ff"/><stop offset="0.412" stop-color="#5061fd"/><stop offset="0.471" stop-color="#506dfc"/><stop offset="0.529" stop-color="#4f78fb"/><stop offset="0.588" stop-color="#4e83fb"/><stop offset="0.647" stop-color="#4c8cfa"/><stop offset="0.706" stop-color="#4d94f8"/><stop offset="0.765" stop-color="#4e9af4"/><stop offset="0.824" stop-color="#4f9ff1"/><stop offset="0.882" stop-color="#4fa5ee"/><stop offset="0.941" stop-color="#50a9eb"/><stop offset="1.000" stop-color="#51ace8"/></linearGradient><linearGradient id="fbe7"><stop offset="0.000" stop-color="#3c28dc"/><stop offset="0.059" stop-color="#4227f1"/><stop offset="0.118" stop-color="#4524ff"/><stop offset="0.176" stop-color="#4832fd"/><stop offset="0.235" stop-color="#4c3ffd"/><stop offset="0.294" stop-color="#4f4bfe"/><stop offset="0.353" stop-color="#5059fe"/><stop offset="0.412" stop-color="#5067fd"/><stop offset="0.471" stop-color="#4f75fc"/><stop offset="0.529" stop-color="#4e81fb"/><stop offset="0.588" stop-color="#4c8dfa"/><stop offset="0.647" stop-color="#4d95f7"/><stop offset="0.706" stop-color="#4e9df3"/><stop offset="0.765" stop-color="#4fa4ef"/><stop offset="0.824" stop-color="#50a9eb"/><stop offset="0.882" stop-color="#52aee7"/><stop offset="0.941" stop-color="#53b2e4"/><stop offset="1.000" stop-color="#55b6e1"/></linearGradient><linearGradient id="fbe8"><stop offset="0.000" stop-color="#3c28dc"/><stop offset="0.059" stop-color="#4227f1"/><stop offset="0.118" stop-color="#4525ff"/><stop offset="0.176" stop-color="#4933fd"/><stop offset="0.235" stop-color="#4c41fd"/><stop offset="0.294" stop-color="#4f4eff"/><stop offset="0.353" stop-color="#505efe"/><stop offset="0.412" stop-color="#506dfc"/><stop offset="0.471" stop-color="#4f7cfb"/><stop offset="0.529" stop-color="#4d89fa"/><stop offset="0.588" stop-color="#4d94f7"/><stop offset="0.647" stop-color="#4e9df2"/><stop offset="0.706" stop-color="#50a5ee"/><stop offset="0.765" stop-color="#51abe9"/><stop offset="0.824" stop-color="#53b1e5"/><stop offset="0.882" stop-color="#54b5e1"/><stop offset="0.941" stop-color="#56badd"/><stop offset="1.000" stop-color="#57bed9"/></linearGradient><linearGradient id="fbe9"><stop offset="0.000" stop-color="#3c28dc"/><stop offset="0.059" stop-color="#4227f1"/><stop offset="0.118" stop-color="#4526fe"/><stop offset="0.176" stop-color="#4934fd"/><stop offset="0.235" stop-color="#4d43fd"/><stop offset="0.294" stop-color="#5051ff"/><stop offset="0.353" stop-color="#5062fd"/><stop offset="0.412" stop-color="#5073fc"/><stop offset="0.471" stop-color="#4e82fb"/><stop offset="0.529" stop-color="#4c91fa"/><stop offset="0.588" stop-color="#4e9bf4"/><stop offset="0.647" stop-color="#4fa4ee"/><stop offset="0.706" stop-color="#51ace9"/><stop offset="0.765" stop-color="#53b2e4"/><stop offset="0.824" stop-color="#55b7df"/><stop offset="0.882" stop-color="#57bddb"/><stop offset="0.941" stop-color="#58c2d5"/><stop offset="1.000" stop-color="#5ac6cf"/></linearGradient><linearGradient id="fbe10"><stop offset="0.000" stop-color="#3c28dc"/><stop offset="0.059" stop-color="#4227f2"/><stop offset="0.118" stop-color="#4527fe"/><stop offset="0.176" stop-color="#4935fc"/><stop offset="0.235" stop-color="#4d44fe"/><stop offset="0.294" stop-color="#5054ff"/><stop offset="0.353" stop-color="#5066fd"/><stop offset="0.412" stop-color="#4f78fc"/><stop offset="0.471" stop-color="#4d88fa"/><stop offset="0.529" stop-color="#4d96f7"/><stop offset="0.588" stop-color="#4fa1f0"/><stop offset="0.647" stop-color="#51aaea"/><stop offset="0.706" stop-color="#53b1e4"/><stop offset="0.765" stop-color="#55b8df"/><stop offset="0.824" stop-color="#57beda"/><stop offset="0.882" stop-color="#59c4d2"/><stop offset="0.941" stop-color="#5ac9cb"/><stop offset="1.000" stop-color="#5bcec3"/></linearGradient><linearGradient id="fbe11"><stop offset="0.000" stop-color="#3c28dc"/><stop offset="0.059" stop-color="#4227f2"/><stop offset="0.118" stop-color="#4527fe"/><stop offset="0.176" stop-color="#4a37fc"/><stop offset="0.235" stop-color="#4e46fe"/><stop offset="0.294" stop-color="#5057fe"/><stop offset="0.353" stop-color="#506afd"/><stop offset="0.412" stop-color="#4e7cfb"/><stop offset="0.471" stop-color="#4c8efa"/><stop offset="0.529" stop-color="#4e9bf4"/><stop offset="0.588" stop-color="#50a6ed"/><stop offset="0.647" stop-color="#52afe6"/><stop offset="0.706" stop-color="#55b6e0"/><stop offset="0.765" stop-color="#57beda"/><stop offset="0.824" stop-color="#59c4d2"/><stop offset="0.882" stop-color="#5bcac9"/><stop offset="0.941" stop-color="#5cd0c0"/><stop offset="1.000" stop-color="#5dd4b9"/></linearGradient><linearGradient id="fbe12"><stop offset="0.000" stop-color="#3c28dc"/><stop offset="0.059" stop-color="#4227f2"/><stop offset="0.118" stop-color="#4628fe"/><stop offset="0.176" stop-color="#4a38fc"/><stop offset="0.235" stop-color="#4e48fe"/><stop offset="0.294" stop-color="#505afe"/><stop offset="0.353" stop-color="#506efc"/><stop offset="0.412" stop-color="#4e81fb"/><stop offset="0.471" stop-color="#4c93f9"/><stop offset="0.529" stop-color="#4f9ff1"/><stop offset="0.588" stop-color="#51abea"/><stop offset="0.647" stop-color="#54b3e3"/><stop offset="0.706" stop-color="#56bbdc"/><stop offset="0.765" stop-color="#59c3d4"/><stop offset="0.824" stop-color="#5acac9"/><stop offset="0.882" stop-color="#5cd0c0"/><stop offset="0.941" stop-color="#5ed5b7"/><stop offset="1.000" stop-color="#5fd9af"/></linearGradient><linearGradient id="fbe13"><stop offset="0.000" stop-color="#3c28dc"/><stop offset="0.059" stop-color="#4227f3"/><stop offset="0.118" stop-color="#4628fe"/><stop offset="0.176" stop-color="#4a39fc"/><stop offset="0.235" stop-color="#4e49fe"/><stop offset="0.294" stop-color="#505dfe"/><stop offset="0.353" stop-color="#5071fc"/><stop offset="0.412" stop-color="#4d85fb"/><stop offset="0.471" stop-color="#4d96f6"/><stop offset="0.529" stop-color="#4fa4ee"/><stop offset="0.588" stop-color="#52aee7"/><stop offset="0.647" stop-color="#55b8df"/><stop offset="0.706" stop-color="#58c0d8"/><stop offset="0.765" stop-color="#5ac8cc"/><stop offset="0.824" stop-color="#5ccfc1"/><stop offset="0.882" stop-color="#5ed5b7"/><stop offset="0.941" stop-color="#5fdaae"/><stop offset="1.000" stop-color="#61dea5"/></linearGradient><linearGradient id="fbe14"><stop offset="0.000" stop-color="#3c28dc"/><stop offset="0.059" stop-color="#4226f3"/><stop offset="0.118" stop-color="#4629fe"/><stop offset="0.176" stop-color="#4a3afc"/><stop offset="0.235" stop-color="#4f4bfe"/><stop offset="0.294" stop-color="#505ffe"/><stop offset="0.353" stop-color="#4f75fc"/><stop offset="0.412" stop-color="#4d8afa"/><stop offset="0.471" stop-color="#4e9af4"/><stop offset="0.529" stop-color="#50a8ec"/><stop offset="0.588" stop-color="#53b2e3"/><stop offset="0.647" stop-color="#57bcdb"/><stop offset="0.706" stop-color="#59c5d1"/><stop offset="0.765" stop-color="#5bcdc4"/><stop offset="0.824" stop-color="#5dd4b9"/><stop offset="0.882" stop-color="#5fd9af"/><stop offset="0.941" stop-color="#61dea5"/><stop offset="1.000" stop-color="#63e19c"/></linearGradient><linearGradient id="fbe15"><stop offset="0.000" stop-color="#3c28dc"/><stop offset="0.059" stop-color="#4226f3"/><stop offset="0.118" stop-color="#462afe"/><stop offset="0.176" stop-color="#4b3bfc"/><stop offset="0.235" stop-color="#4f4cff"/><stop offset="0.294" stop-color="#5062fd"/><stop offset="0.353" stop-color="#4f78fb"/><stop offset="0.412" stop-color="#4c8efa"/><stop offset="0.471" stop-color="#4e9ef2"/><stop offset="0.529" stop-color="#51abe9"/><stop offset="0.588" stop-color="#55b6e0"/><stop offset="0.647" stop-color="#58c0d8"/><stop offset="0.706" stop-color="#5ac9ca"/><stop offset="0.765" stop-color="#5dd2bd"/><stop offset="0.824" stop-color="#5fd8b2"/><stop offset="0.882" stop-color="#61dda7"/><stop offset="0.941" stop-color="#62e19c"/><stop offset="1.000" stop-color="#65e491"/></linearGradient><linearGradient id="fbe16"><stop offset="0.000" stop-color="#3c28dc"/><stop offset="0.059" stop-color="#4226f4"/><stop offset="0.118" stop-color="#462afe"/><stop offset="0.176" stop-color="#4b3cfc"/><stop offset="0.235" stop-color="#4f4eff"/><stop offset="0.294" stop-color="#5065fd"/><stop offset="0.353" stop-color="#4f7cfb"/><stop offset="0.412" stop-color="#4c92f9"/><stop offset="0.471" stop-color="#4fa2f0"/><stop offset="0.529" stop-color="#52afe6"/><stop offset="0.588" stop-color="#56badd"/><stop offset="0.647" stop-color="#59c4d2"/><stop offset="0.706" stop-color="#5bcec3"/><stop offset="0.765" stop-color="#5ed5b6"/><stop offset="0.824" stop-color="#60dcaa"/><stop offset="0.882" stop-color="#62e09f"/><stop offset="0.941" stop-color="#65e493"/><stop offset="1.000" stop-color="#6ee77e"/></linearGradient><linearGradient id="fbe17"><stop offset="0.000" stop-color="#3c28dc"/><stop offset="0.059" stop-color="#4226f4"/><stop offset="0.118" stop-color="#462bfe"/><stop offset="0.176" stop-color="#4b3dfd"/><stop offset="0.235" stop-color="#504fff"/><stop offset="0.294" stop-color="#5067fd"/><stop offset="0.353" stop-color="#4e7ffb"/><stop offset="0.412" stop-color="#4d95f7"/><stop offset="0.471" stop-color="#50a5ee"/><stop offset="0.529" stop-color="#53b2e4"/><stop offset="0.588" stop-color="#57bdda"/><stop offset="0.647" stop-color="#5ac8cc"/><stop offset="0.706" stop-color="#5dd2bd"/><stop offset="0.765" stop-color="#5fd9b0"/><stop offset="0.824" stop-color="#61dfa3"/><stop offset="0.882" stop-color="#64e396"/><stop offset="0.941" stop-color="#6ce781"/><stop offset="1.000" stop-color="#7ce566"/></linearGradient><linearGradient id="fbe18"><stop offset="0.000" stop-color="#3c28dc"/><stop offset="0.059" stop-color="#4226f5"/><stop offset="0.118" stop-color="#472cfe"/><stop offset="0.176" stop-color="#4c3efd"/><stop offset="0.235" stop-color="#5051ff"/><stop offset="0.294" stop-color="#506afd"/><stop offset="0.353" stop-color="#4e83fb"/><stop offset="0.412" stop-color="#4d98f5"/><stop offset="0.471" stop-color="#50a9eb"/><stop offset="0.529" stop-color="#54b5e1"/><stop offset="0.588" stop-color="#58c1d6"/><stop offset="0.647" stop-color="#5bccc6"/><stop offset="0.706" stop-color="#5ed5b7"/><stop offset="0.765" stop-color="#60dca9"/><stop offset="0.824" stop-color="#63e19b"/><stop offset="0.882" stop-color="#69e688"/><stop offset="0.941" stop-color="#78e66c"/><stop offset="1.000" stop-color="#8ee14b"/></linearGradient><linearGradient id="fbe19"><stop offset="0.000" stop-color="#3c28dc"/><stop offset="0.059" stop-color="#4326f5"/><stop offset="0.118" stop-color="#472cfe"/><stop offset="0.176" stop-color="#4c3ffd"/><stop offset="0.235" stop-color="#5054ff"/><stop offset="0.294" stop-color="#506dfc"/><stop offset="0.353" stop-color="#4d86fb"/><stop offset="0.412" stop-color="#4e9bf3"/><stop offset="0.471" stop-color="#51ace9"/><stop offset="0.529" stop-color="#56b9de"/><stop offset="0.588" stop-color="#59c5d1"/><stop offset="0.647" stop-color="#5cd0c0"/><stop offset="0.706" stop-color="#5fd8b0"/><stop offset="0.765" stop-color="#62dfa2"/><stop offset="0.824" stop-color="#65e493"/><stop offset="0.882" stop-color="#70e877"/><stop offset="0.941" stop-color="#89e253"/><stop offset="1.000" stop-color="#9bd944"/></linearGradient><linearGradient id="fbe20"><stop offset="0.000" stop-color="#3c28dc"/><stop offset="0.059" stop-color="#4326f5"/><stop offset="0.118" stop-color="#472dfd"/><stop offset="0.176" stop-color="#4c40fd"/><stop offset="0.235" stop-color="#5056fe"/><stop offset="0.294" stop-color="#5070fc"/><stop offset="0.353" stop-color="#4d8afa"/><stop offset="0.412" stop-color="#4e9ff1"/><stop offset="0.471" stop-color="#52afe6"/><stop offset="0.529" stop-color="#57bcdb"/><stop offset="0.588" stop-color="#5ac9cb"/><stop offset="0.647" stop-color="#5dd3ba"/><stop offset="0.706" stop-color="#60dcaa"/><stop offset="0.765" stop-color="#63e29a"/><stop offset="0.824" stop-color="#6be683"/><stop offset="0.882" stop-color="#80e460"/><stop offset="0.941" stop-color="#97dc46"/><stop offset="1.000" stop-color="#a8d040"/></linearGradient><linearGradient id="fbe21"><stop offset="0.000" stop-color="#3c28dc"/><stop offset="0.059" stop-color="#4325f6"/><stop offset="0.118" stop-color="#472efd"/><stop offset="0.176" stop-color="#4c42fd"/><stop offset="0.235" stop-color="#5058fe"/><stop offset="0.294" stop-color="#5073fc"/><stop offset="0.353" stop-color="#4c8efa"/><stop offset="0.412" stop-color="#4fa2ef"/><stop offset="0.471" stop-color="#53b2e4"/><stop offset="0.529" stop-color="#58c0d8"/><stop offset="0.588" stop-color="#5bccc5"/><stop offset="0.647" stop-color="#5ed7b4"/><stop offset="0.706" stop-color="#61dea3"/><stop offset="0.765" stop-color="#65e492"/><stop offset="0.824" stop-color="#75e771"/><stop offset="0.882" stop-color="#90e048"/><stop offset="0.941" stop-color="#a3d342"/><stop offset="1.000" stop-color="#becb3c"/></linearGradient><linearGradient id="fbe22"><stop offset="0.000" stop-color="#3c28dc"/><stop offset="0.059" stop-color="#4325f6"/><stop offset="0.118" stop-color="#472ffd"/><stop offset="0.176" stop-color="#4d43fd"/><stop offset="0.235" stop-color="#505bfe"/><stop offset="0.294" stop-color="#4f77fc"/><stop offset="0.353" stop-color="#4c92f9"/><stop offset="0.412" stop-color="#50a6ed"/><stop offset="0.471" stop-color="#54b5e1"/><stop offset="0.529" stop-color="#59c3d3"/><stop offset="0.588" stop-color="#5cd0bf"/><stop offset="0.647" stop-color="#5fdaae"/><stop offset="0.706" stop-color="#62e19c"/><stop offset="0.765" stop-color="#6be683"/><stop offset="0.824" stop-color="#84e35a"/><stop offset="0.882" stop-color="#9cd844"/><stop offset="0.941" stop-color="#b5cd3e"/><stop offset="1.000" stop-color="#d1c13a"/></linearGradient><linearGradient id="fbe23"><stop offset="0.000" stop-color="#3c28dc"/><stop offset="0.059" stop-color="#4325f7"/><stop offset="0.118" stop-color="#4830fd"/><stop offset="0.176" stop-color="#4d45fe"/><stop offset="0.235" stop-color="#505efe"/><stop offset="0.294" stop-color="#4f7afb"/><stop offset="0.353" stop-color="#4d95f7"/><stop offset="0.412" stop-color="#50a9eb"/><stop offset="0.471" stop-color="#55b8de"/><stop offset="0.529" stop-color="#5ac7ce"/><stop offset="0.588" stop-color="#5dd3ba"/><stop offset="0.647" stop-color="#61dda7"/><stop offset="0.706" stop-color="#64e495"/><stop offset="0.765" stop-color="#74e771"/><stop offset="0.824" stop-color="#93de47"/><stop offset="0.882" stop-color="#a8d040"/><stop offset="0.941" stop-color="#cac63b"/><stop offset="1.000" stop-color="#deb23f"/></linearGradient><linearGradient id="fbe24"><stop offset="0.000" stop-color="#3c28dc"/><stop offset="0.059" stop-color="#4325f7"/><stop offset="0.118" stop-color="#4831fd"/><stop offset="0.176" stop-color="#4e46fe"/><stop offset="0.235" stop-color="#5060fd"/><stop offset="0.294" stop-color="#4e7efb"/><stop offset="0.353" stop-color="#4d98f5"/><stop offset="0.412" stop-color="#51ace8"/><stop offset="0.471" stop-color="#57bcdb"/><stop offset="0.529" stop-color="#5bcbc8"/><stop offset="0.588" stop-color="#5ed7b4"/><stop offset="0.647" stop-color="#62dfa0"/><stop offset="0.706" stop-color="#6ae687"/><stop offset="0.765" stop-color="#84e35a"/><stop offset="0.824" stop-color="#9ed643"/><stop offset="0.882" stop-color="#bdcc3c"/><stop offset="0.941" stop-color="#d7b93c"/><stop offset="1.000" stop-color="#e8b540"/></linearGradient><linearGradient id="fbe25"><stop offset="0.000" stop-color="#3c28dc"/><stop offset="0.059" stop-color="#4325f8"/><stop offset="0.118" stop-color="#4832fd"/><stop offset="0.176" stop-color="#4e48fe"/><stop offset="0.235" stop-color="#5064fd"/><stop offset="0.294" stop-color="#4e82fb"/><stop offset="0.353" stop-color="#4e9cf3"/><stop offset="0.412" stop-color="#53b0e6"/><stop offset="0.471" stop-color="#58c0d8"/><stop offset="0.529" stop-color="#5ccfc2"/><stop offset="0.588" stop-color="#5fdaad"/><stop offset="0.647" stop-color="#63e299"/><stop offset="0.706" stop-color="#71e877"/><stop offset="0.765" stop-color="#93de47"/><stop offset="0.824" stop-color="#accf3f"/><stop offset="0.882" stop-color="#d1c23a"/><stop offset="0.941" stop-color="#e5b040"/><stop offset="1.000" stop-color="#e8c940"/></linearGradient><linearGradient id="fbe26"><stop offset="0.000" stop-color="#3c28dc"/><stop offset="0.059" stop-color="#4324f9"/><stop offset="0.118" stop-color="#4933fd"/><stop offset="0.176" stop-color="#4e4afe"/><stop offset="0.235" stop-color="#5067fd"/><stop offset="0.294" stop-color="#4d87fb"/><stop offset="0.353" stop-color="#4fa0f1"/><stop offset="0.412" stop-color="#54b3e3"/><stop offset="0.471" stop-color="#59c4d3"/><stop offset="0.529" stop-color="#5dd2bb"/><stop offset="0.588" stop-color="#61dda6"/><stop offset="0.647" stop-color="#66e58f"/><stop offset="0.706" stop-color="#80e460"/><stop offset="0.765" stop-color="#9fd643"/><stop offset="0.824" stop-color="#c2ca3c"/><stop offset="0.882" stop-color="#ddb33e"/><stop offset="0.941" stop-color="#e8c040"/><stop offset="1.000" stop-color="#e8da40"/></linearGradient><linearGradient id="fbe27"><stop offset="0.000" stop-color="#3c28dc"/><stop offset="0.059" stop-color="#4324f9"/><stop offset="0.118" stop-color="#4934fd"/><stop offset="0.176" stop-color="#4f4cfe"/><stop offset="0.235" stop-color="#506bfc"/><stop offset="0.294" stop-color="#4d8bfa"/><stop offset="0.353" stop-color="#4fa4ee"/><stop offset="0.412" stop-color="#55b7e0"/><stop offset="0.471" stop-color="#5ac8cc"/><stop offset="0.529" stop-color="#5ed6b5"/><stop offset="0.588" stop-color="#62e09f"/><stop offset="0.647" stop-color="#6de77f"/><stop offset="0.706" stop-color="#91e048"/><stop offset="0.765" stop-color="#adcf3f"/><stop offset="0.824" stop-color="#d3be3b"/><stop offset="0.882" stop-color="#e8b440"/><stop offset="0.941" stop-color="#e8d340"/><stop offset="1.000" stop-color="#e2eb3a"/></linearGradient><linearGradient id="fbf0"><stop offset="0.000" stop-color="#4b3bfc"/><stop offset="0.059" stop-color="#4933fd"/><stop offset="0.118" stop-color="#472efd"/><stop offset="0.176" stop-color="#462bfe"/><stop offset="0.235" stop-color="#4628fe"/><stop offset="0.294" stop-color="#4526fe"/><stop offset="0.353" stop-color="#4525ff"/><stop offset="0.412" stop-color="#4423ff"/><stop offset="0.471" stop-color="#4423ff"/><stop offset="0.529" stop-color="#4422ff"/><stop offset="0.588" stop-color="#4422fe"/><stop offset="0.647" stop-color="#4423fd"/><stop offset="0.706" stop-color="#4423fd"/><stop offset="0.765" stop-color="#4423fd"/><stop offset="0.824" stop-color="#4423fc"/><stop offset="0.882" stop-color="#4423fc"/><stop offset="0.941" stop-color="#4323fc"/><stop offset="1.000" stop-color="#4323fb"/></linearGradient><linearGradient id="fbf1"><stop offset="0.000" stop-color="#5072fc"/><stop offset="0.059" stop-color="#5064fd"/><stop offset="0.118" stop-color="#5058fe"/><stop offset="0.176" stop-color="#504fff"/><stop offset="0.235" stop-color="#4e4afe"/><stop offset="0.294" stop-color="#4d45fe"/><stop offset="0.353" stop-color="#4c42fd"/><stop offset="0.412" stop-color="#4c3ffd"/><stop offset="0.471" stop-color="#4b3cfd"/><stop offset="0.529" stop-color="#4b3afc"/><stop offset="0.588" stop-color="#4a38fc"/><stop offset="0.647" stop-color="#4a37fc"/><stop offset="0.706" stop-color="#4936fc"/><stop offset="0.765" stop-color="#4935fc"/><stop offset="0.824" stop-color="#4934fd"/><stop offset="0.882" stop-color="#4933fd"/><stop offset="0.941" stop-color="#4832fd"/><stop offset="1.000" stop-color="#4831fd"/></linearGradient><linearGradient id="fbf2"><stop offset="0.000" stop-color="#4d98f5"/><stop offset="0.059" stop-color="#4d8afa"/><stop offset="0.118" stop-color="#4f7cfb"/><stop offset="0.176" stop-color="#5070fc"/><stop offset="0.235" stop-color="#5067fd"/><stop offset="0.294" stop-color="#505ffe"/><stop offset="0.353" stop-color="#5058fe"/><stop offset="0.412" stop-color="#5053ff"/><stop offset="0.471" stop-color="#504eff"/><stop offset="0.529" stop-color="#4f4bfe"/><stop offset="0.588" stop-color="#4e48fe"/><stop offset="0.647" stop-color="#4e46fe"/><stop offset="0.706" stop-color="#4d44fe"/><stop offset="0.765" stop-color="#4d42fd"/><stop offset="0.824" stop-color="#4c41fd"/><stop offset="0.882" stop-color="#4c3ffd"/><stop offset="0.941" stop-color="#4c3efd"/><stop offset="1.000" stop-color="#4b3dfd"/></linearGradient><linearGradient id="fbf3"><stop offset="0.000" stop-color="#51ace8"/><stop offset="0.059" stop-color="#4fa0f1"/><stop offset="0.118" stop-color="#4d94f7"/><stop offset="0.176" stop-color="#4d89fa"/><stop offset="0.235" stop-color="#4e7efb"/><stop offset="0.294" stop-color="#4f74fc"/><stop offset="0.353" stop-color="#506cfc"/><stop offset="0.412" stop-color="#5065fd"/><stop offset="0.471" stop-color="#5060fe"/><stop offset="0.529" stop-color="#505afe"/><stop offset="0.588" stop-color="#5056fe"/><stop offset="0.647" stop-color="#5052ff"/><stop offset="0.706" stop-color="#504fff"/><stop offset="0.765" stop-color="#4f4dff"/><stop offset="0.824" stop-color="#4f4bfe"/><stop offset="0.882" stop-color="#4e49fe"/><stop offset="0.941" stop-color="#4e47fe"/><stop offset="1.000" stop-color="#4d46fe"/></linearGradient><linearGradient id="fbf4"><stop offset="0.000" stop-color="#56b9de"/><stop offset="0.059" stop-color="#52aee7"/><stop offset="0.118" stop-color="#4fa3ef"/><stop offset="0.176" stop-color="#4d99f5"/><stop offset="0.235" stop-color="#4c90fa"/><stop offset="0.294" stop-color="#4d85fb"/><stop offset="0.353" stop-color="#4e7cfb"/><stop offset="0.412" stop-color="#4f74fc"/><stop offset="0.471" stop-color="#506dfc"/><stop offset="0.529" stop-color="#5068fd"/><stop offset="0.588" stop-color="#5062fd"/><stop offset="0.647" stop-color="#505efe"/><stop offset="0.706" stop-color="#505afe"/><stop offset="0.765" stop-color="#5056fe"/><stop offset="0.824" stop-color="#5053ff"/><stop offset="0.882" stop-color="#5050ff"/><stop offset="0.941" stop-color="#4f4eff"/><stop offset="1.000" stop-color="#4f4cff"/></linearGradient><linearGradient id="fbf5"><stop offset="0.000" stop-color="#59c3d4"/><stop offset="0.059" stop-color="#55b7df"/><stop offset="0.118" stop-color="#52ade8"/><stop offset="0.176" stop-color="#4fa4ee"/><stop offset="0.235" stop-color="#4e9af4"/><stop offset="0.294" stop-color="#4c92f9"/><stop offset="0.353" stop-color="#4d89fa"/><stop offset="0.412" stop-color="#4e80fb"/><stop offset="0.471" stop-color="#4f79fb"/><stop offset="0.529" stop-color="#5072fc"/><stop offset="0.588" stop-color="#506cfc"/><stop offset="0.647" stop-color="#5067fd"/><stop offset="0.706" stop-color="#5063fd"/><stop offset="0.765" stop-color="#505efe"/><stop offset="0.824" stop-color="#505bfe"/><stop offset="0.882" stop-color="#5057fe"/><stop offset="0.941" stop-color="#5054ff"/><stop offset="1.000" stop-color="#5052ff"/></linearGradient><linearGradient id="fbf6"><stop offset="0.000" stop-color="#5bcac8"/><stop offset="0.059" stop-color="#58bfd9"/><stop offset="0.118" stop-color="#54b4e2"/><stop offset="0.176" stop-color="#51ace9"/><stop offset="0.235" stop-color="#4fa3ef"/><stop offset="0.294" stop-color="#4e9af4"/><stop offset="0.353" stop-color="#4c92f9"/><stop offset="0.412" stop-color="#4d8afa"/><stop offset="0.471" stop-color="#4e82fb"/><stop offset="0.529" stop-color="#4f7bfb"/><stop offset="0.588" stop-color="#4f75fc"/><stop offset="0.647" stop-color="#506ffc"/><stop offset="0.706" stop-color="#506afd"/><stop offset="0.765" stop-color="#5065fd"/><stop offset="0.824" stop-color="#5061fd"/><stop offset="0.882" stop-color="#505efe"/><stop offset="0.941" stop-color="#505afe"/><stop offset="1.000" stop-color="#5057fe"/></linearGradient><linearGradient id="fbf7"><stop offset="0.000" stop-color="#5cd1bf"/><stop offset="0.059" stop-color="#59c5d1"/><stop offset="0.118" stop-color="#56badd"/><stop offset="0.176" stop-color="#53b1e4"/><stop offset="0.235" stop-color="#50a9eb"/><stop offset="0.294" stop-color="#4fa1f0"/><stop offset="0.353" stop-color="#4d99f5"/><stop offset="0.412" stop-color="#4c92f9"/><stop offset="0.471" stop-color="#4d8afa"/><stop offset="0.529" stop-color="#4e82fb"/><stop offset="0.588" stop-color="#4f7bfb"/><stop offset="0.647" stop-color="#4f75fc"/><stop offset="0.706" stop-color="#5070fc"/><stop offset="0.765" stop-color="#506bfc"/><stop offset="0.824" stop-color="#5067fd"/><stop offset="0.882" stop-color="#5063fd"/><stop offset="0.941" stop-color="#505ffe"/><stop offset="1.000" stop-color="#505cfe"/></linearGradient><linearGradient id="fbf8"><stop offset="0.000" stop-color="#5ed5b8"/><stop offset="0.059" stop-color="#5acac9"/><stop offset="0.118" stop-color="#58c0d8"/><stop offset="0.176" stop-color="#55b6e0"/><stop offset="0.235" stop-color="#52aee7"/><stop offset="0.294" stop-color="#50a6ed"/><stop offset="0.353" stop-color="#4e9ef2"/><stop offset="0.412" stop-color="#4d97f6"/><stop offset="0.471" stop-color="#4c90fa"/><stop offset="0.529" stop-color="#4d88fa"/><stop offset="0.588" stop-color="#4e81fb"/><stop offset="0.647" stop-color="#4f7bfb"/><stop offset="0.706" stop-color="#4f75fc"/><stop offset="0.765" stop-color="#5070fc"/><stop offset="0.824" stop-color="#506bfc"/><stop offset="0.882" stop-color="#5067fd"/><stop offset="0.941" stop-color="#5063fd"/><stop offset="1.000" stop-color="#5060fe"/></linearGradient><linearGradient id="fbf9"><stop offset="0.000" stop-color="#5fd8b1"/><stop offset="0.059" stop-color="#5ccec3"/><stop offset="0.118" stop-color="#59c4d3"/><stop offset="0.176" stop-color="#56badd"/><stop offset="0.235" stop-color="#53b2e4"/><stop offset="0.294" stop-color="#51aaea"/><stop offset="0.353" stop-color="#4fa3ef"/><stop offset="0.412" stop-color="#4e9bf4"/><stop offset="0.471" stop-color="#4d94f7"/><stop offset="0.529" stop-color="#4c8efa"/><stop offset="0.588" stop-color="#4d86fb"/><stop offset="0.647" stop-color="#4e80fb"/><stop offset="0.706" stop-color="#4f7afb"/><stop offset="0.765" stop-color="#4f74fc"/><stop offset="0.824" stop-color="#506ffc"/><stop offset="0.882" stop-color="#506bfc"/><stop offset="0.941" stop-color="#5067fd"/><stop offset="1.000" stop-color="#5063fd"/></linearGradient><linearGradient id="fbf10"><stop offset="0.000" stop-color="#60dbac"/><stop offset="0.059" stop-color="#5cd1bd"/><stop offset="0.118" stop-color="#5ac7cd"/><stop offset="0.176" stop-color="#57beda"/><stop offset="0.235" stop-color="#54b5e1"/><stop offset="0.294" stop-color="#52aee7"/><stop offset="0.353" stop-color="#50a7ed"/><stop offset="0.412" stop-color="#4e9ff1"/><stop offset="0.471" stop-color="#4d98f5"/><stop offset="0.529" stop-color="#4c92f9"/><stop offset="0.588" stop-color="#4d8bfa"/><stop offset="0.647" stop-color="#4e84fb"/><stop offset="0.706" stop-color="#4e7dfb"/><stop offset="0.765" stop-color="#4f78fc"/><stop offset="0.824" stop-color="#5073fc"/><stop offset="0.882" stop-color="#506efc"/><stop offset="0.941" stop-color="#506afd"/><stop offset="1.000" stop-color="#5066fd"/></linearGradient><linearGradient id="fbf11"><stop offset="0.000" stop-color="#61dda7"/><stop offset="0.059" stop-color="#5dd4b9"/><stop offset="0.118" stop-color="#5bcac9"/><stop offset="0.176" stop-color="#58c1d7"/><stop offset="0.235" stop-color="#55b8df"/><stop offset="0.294" stop-color="#53b0e5"/><stop offset="0.353" stop-color="#51aaeb"/><stop offset="0.412" stop-color="#4fa2ef"/><stop offset="0.471" stop-color="#4e9bf4"/><stop offset="0.529" stop-color="#4d95f7"/><stop offset="0.588" stop-color="#4c8efa"/><stop offset="0.647" stop-color="#4d87fb"/><stop offset="0.706" stop-color="#4e81fb"/><stop offset="0.765" stop-color="#4f7bfb"/><stop offset="0.824" stop-color="#4f76fc"/><stop offset="0.882" stop-color="#5071fc"/><stop offset="0.941" stop-color="#506cfc"/><stop offset="1.000" stop-color="#5068fd"/></linearGradient><linearGradient id="fbf12"><stop offset="0.000" stop-color="#61dfa3"/><stop offset="0.059" stop-color="#5ed6b5"/><stop offset="0.118" stop-color="#5bcdc5"/><stop offset="0.176" stop-color="#59c3d3"/><stop offset="0.235" stop-color="#56badd"/><stop offset="0.294" stop-color="#54b3e3"/><stop offset="0.353" stop-color="#51ace9"/><stop offset="0.412" stop-color="#4fa5ee"/><stop offset="0.471" stop-color="#4e9ef2"/><stop offset="0.529" stop-color="#4d97f6"/><stop offset="0.588" stop-color="#4c91f9"/><stop offset="0.647" stop-color="#4d8afa"/><stop offset="0.706" stop-color="#4e84fb"/><stop offset="0.765" stop-color="#4e7efb"/><stop offset="0.824" stop-color="#4f78fb"/><stop offset="0.882" stop-color="#5073fc"/><stop offset="0.941" stop-color="#506ffc"/><stop offset="1.000" stop-color="#506afd"/></linearGradient><linearGradient id="fbf13"><stop offset="0.000" stop-color="#62e09f"/><stop offset="0.059" stop-color="#5fd8b2"/><stop offset="0.118" stop-color="#5ccfc1"/><stop offset="0.176" stop-color="#59c5d0"/><stop offset="0.235" stop-color="#57bddb"/><stop offset="0.294" stop-color="#54b5e1"/><stop offset="0.353" stop-color="#52aee7"/><stop offset="0.412" stop-color="#50a7ec"/><stop offset="0.471" stop-color="#4fa0f1"/><stop offset="0.529" stop-color="#4e99f5"/><stop offset="0.588" stop-color="#4d93f8"/><stop offset="0.647" stop-color="#4c8dfa"/><stop offset="0.706" stop-color="#4d86fb"/><stop offset="0.765" stop-color="#4e80fb"/><stop offset="0.824" stop-color="#4f7bfb"/><stop offset="0.882" stop-color="#4f75fc"/><stop offset="0.941" stop-color="#5071fc"/><stop offset="1.000" stop-color="#506cfc"/></linearGradient><linearGradient id="fbf14"><stop offset="0.000" stop-color="#63e19c"/><stop offset="0.059" stop-color="#5fdaaf"/><stop offset="0.118" stop-color="#5cd1be"/><stop offset="0.176" stop-color="#5ac7cd"/><stop offset="0.235" stop-color="#58bfd9"/><stop offset="0.294" stop-color="#55b7e0"/><stop offset="0.353" stop-color="#53b0e6"/><stop offset="0.412" stop-color="#50a9eb"/><stop offset="0.471" stop-color="#4fa2ef"/><stop offset="0.529" stop-color="#4e9bf3"/><stop offset="0.588" stop-color="#4d95f7"/><stop offset="0.647" stop-color="#4c90fa"/><stop offset="0.706" stop-color="#4d89fa"/><stop offset="0.765" stop-color="#4e82fb"/><stop offset="0.824" stop-color="#4e7dfb"/><stop offset="0.882" stop-color="#4f77fc"/><stop offset="0.941" stop-color="#5072fc"/><stop offset="1.000" stop-color="#506efc"/></linearGradient><linearGradient id="fbf15"><stop offset="0.000" stop-color="#63e299"/><stop offset="0.059" stop-color="#60dbac"/><stop offset="0.118" stop-color="#5dd2bc"/><stop offset="0.176" stop-color="#5ac9ca"/><stop offset="0.235" stop-color="#58c0d7"/><stop offset="0.294" stop-color="#55b8de"/><stop offset="0.353" stop-color="#53b1e4"/><stop offset="0.412" stop-color="#51abea"/><stop offset="0.471" stop-color="#4fa4ee"/><stop offset="0.529" stop-color="#4e9df2"/><stop offset="0.588" stop-color="#4d97f6"/><stop offset="0.647" stop-color="#4c91f9"/><stop offset="0.706" stop-color="#4d8bfa"/><stop offset="0.765" stop-color="#4d84fb"/><stop offset="0.824" stop-color="#4e7efb"/><stop offset="0.882" stop-color="#4f79fb"/><stop offset="0.941" stop-color="#4f74fc"/><stop offset="1.000" stop-color="#506ffc"/></linearGradient><linearGradient id="fbf16"><stop offset="0.000" stop-color="#64e396"/><stop offset="0.059" stop-color="#60dca9"/><stop offset="0.118" stop-color="#5dd4b9"/><stop offset="0.176" stop-color="#5bcbc8"/><stop offset="0.235" stop-color="#58c2d5"/><stop offset="0.294" stop-color="#56badd"/><stop offset="0.353" stop-color="#54b3e3"/><stop offset="0.412" stop-color="#51ace9"/><stop offset="0.471" stop-color="#50a6ed"/><stop offset="0.529" stop-color="#4e9ff1"/><stop offset="0.588" stop-color="#4d99f5"/><stop offset="0.647" stop-color="#4c93f8"/><stop offset="0.706" stop-color="#4c8dfa"/><stop offset="0.765" stop-color="#4d86fb"/><stop offset="0.824" stop-color="#4e80fb"/><stop offset="0.882" stop-color="#4f7bfb"/><stop offset="0.941" stop-color="#4f76fc"/><stop offset="1.000" stop-color="#5071fc"/></linearGradient><linearGradient id="fbf17"><stop offset="0.000" stop-color="#64e494"/><stop offset="0.059" stop-color="#61dda7"/><stop offset="0.118" stop-color="#5ed5b7"/><stop offset="0.176" stop-color="#5bccc6"/><stop offset="0.235" stop-color="#59c3d3"/><stop offset="0.294" stop-color="#56bbdc"/><stop offset="0.353" stop-color="#54b4e2"/><stop offset="0.412" stop-color="#52ade7"/><stop offset="0.471" stop-color="#50a7ec"/><stop offset="0.529" stop-color="#4fa0f0"/><stop offset="0.588" stop-color="#4e9af4"/><stop offset="0.647" stop-color="#4d94f8"/><stop offset="0.706" stop-color="#4c8ffa"/><stop offset="0.765" stop-color="#4d88fb"/><stop offset="0.824" stop-color="#4e82fb"/><stop offset="0.882" stop-color="#4e7cfb"/><stop offset="0.941" stop-color="#4f77fc"/><stop offset="1.000" stop-color="#5072fc"/></linearGradient><linearGradient id="fbf18"><stop offset="0.000" stop-color="#66e58f"/><stop offset="0.059" stop-color="#61dea5"/><stop offset="0.118" stop-color="#5ed6b5"/><stop offset="0.176" stop-color="#5bcec3"/><stop offset="0.235" stop-color="#59c5d1"/><stop offset="0.294" stop-color="#57bddb"/><stop offset="0.353" stop-color="#54b5e1"/><stop offset="0.412" stop-color="#52afe6"/><stop offset="0.471" stop-color="#50a9eb"/><stop offset="0.529" stop-color="#4fa2f0"/><stop offset="0.588" stop-color="#4e9bf3"/><stop offset="0.647" stop-color="#4d95f7"/><stop offset="0.706" stop-color="#4c90fa"/><stop offset="0.765" stop-color="#4d89fa"/><stop offset="0.824" stop-color="#4e83fb"/><stop offset="0.882" stop-color="#4e7efb"/><stop offset="0.941" stop-color="#4f78fb"/><stop offset="1.000" stop-color="#5073fc"/></linearGradient><linearGradient id="fbf19"><stop offset="0.000" stop-color="#68e58b"/><stop offset="0.059" stop-color="#61dfa3"/><stop offset="0.118" stop-color="#5ed7b3"/><stop offset="0.176" stop-color="#5ccfc1"/><stop offset="0.235" stop-color="#59c6cf"/><stop offset="0.294" stop-color="#57beda"/><stop offset="0.353" stop-color="#55b6e0"/><stop offset="0.412" stop-color="#53b0e6"/><stop offset="0.471" stop-color="#51aaeb"/><stop offset="0.529" stop-color="#4fa3ef"/><stop offset="0.588" stop-color="#4e9df3"/><stop offset="0.647" stop-color="#4d97f6"/><stop offset="0.706" stop-color="#4c91f9"/><stop offset="0.765" stop-color="#4d8bfa"/><stop offset="0.824" stop-color="#4d85fb"/><stop offset="0.882" stop-color="#4e7ffb"/><stop offset="0.941" stop-color="#4f79fb"/><stop offset="1.000" stop-color="#4f75fc"/></linearGradient><linearGradient id="fbf20"><stop offset="0.000" stop-color="#6ae687"/><stop offset="0.059" stop-color="#62dfa1"/><stop offset="0.118" stop-color="#5fd8b1"/><stop offset="0.176" stop-color="#5cd0c0"/><stop offset="0.235" stop-color="#5ac7cd"/><stop offset="0.294" stop-color="#58bfd9"/><stop offset="0.353" stop-color="#55b8df"/><stop offset="0.412" stop-color="#53b1e5"/><stop offset="0.471" stop-color="#51abea"/><stop offset="0.529" stop-color="#4fa4ee"/><stop offset="0.588" stop-color="#4e9ef2"/><stop offset="0.647" stop-color="#4d98f5"/><stop offset="0.706" stop-color="#4c92f9"/><stop offset="0.765" stop-color="#4c8cfa"/><stop offset="0.824" stop-color="#4d86fb"/><stop offset="0.882" stop-color="#4e80fb"/><stop offset="0.941" stop-color="#4f7bfb"/><stop offset="1.000" stop-color="#4f76fc"/></linearGradient><linearGradient id="fbf21"><stop offset="0.000" stop-color="#6be683"/><stop offset="0.059" stop-color="#62e09f"/><stop offset="0.118" stop-color="#5fd9b0"/><stop offset="0.176" stop-color="#5cd1be"/><stop offset="0.235" stop-color="#5ac8cc"/><stop offset="0.294" stop-color="#58c0d8"/><stop offset="0.353" stop-color="#56b9de"/><stop offset="0.412" stop-color="#53b2e4"/><stop offset="0.471" stop-color="#51ace9"/><stop offset="0.529" stop-color="#50a6ed"/><stop offset="0.588" stop-color="#4e9ff1"/><stop offset="0.647" stop-color="#4d99f5"/><stop offset="0.706" stop-color="#4d93f8"/><stop offset="0.765" stop-color="#4c8efa"/><stop offset="0.824" stop-color="#4d87fb"/><stop offset="0.882" stop-color="#4e81fb"/><stop offset="0.941" stop-color="#4f7cfb"/><stop offset="1.000" stop-color="#4f77fc"/></linearGradient><linearGradient id="fbf22"><stop offset="0.000" stop-color="#6de780"/><stop offset="0.059" stop-color="#62e19d"/><stop offset="0.118" stop-color="#5fdaae"/><stop offset="0.176" stop-color="#5dd2bc"/><stop offset="0.235" stop-color="#5ac9ca"/><stop offset="0.294" stop-color="#58c1d6"/><stop offset="0.353" stop-color="#56badd"/><stop offset="0.412" stop-color="#54b3e3"/><stop offset="0.471" stop-color="#52ade8"/><stop offset="0.529" stop-color="#50a7ed"/><stop offset="0.588" stop-color="#4fa0f1"/><stop offset="0.647" stop-color="#4e9af4"/><stop offset="0.706" stop-color="#4d94f8"/><stop offset="0.765" stop-color="#4c8ffa"/><stop offset="0.824" stop-color="#4d88fa"/><stop offset="0.882" stop-color="#4e82fb"/><stop offset="0.941" stop-color="#4e7dfb"/><stop offset="1.000" stop-color="#4f78fc"/></linearGradient><linearGradient id="fbf23"><stop offset="0.000" stop-color="#6ee77c"/><stop offset="0.059" stop-color="#63e19c"/><stop offset="0.118" stop-color="#60dbac"/><stop offset="0.176" stop-color="#5dd3bb"/><stop offset="0.235" stop-color="#5bcac8"/><stop offset="0.294" stop-color="#59c2d5"/><stop offset="0.353" stop-color="#56bbdd"/><stop offset="0.412" stop-color="#54b4e2"/><stop offset="0.471" stop-color="#52ade7"/><stop offset="0.529" stop-color="#50a8ec"/><stop offset="0.588" stop-color="#4fa1f0"/><stop offset="0.647" stop-color="#4e9bf4"/><stop offset="0.706" stop-color="#4d95f7"/><stop offset="0.765" stop-color="#4c90fa"/><stop offset="0.824" stop-color="#4d89fa"/><stop offset="0.882" stop-color="#4e83fb"/><stop offset="0.941" stop-color="#4e7efb"/><stop offset="1.000" stop-color="#4f79fb"/></linearGradient><linearGradient id="fbf24"><stop offset="0.000" stop-color="#70e879"/><stop offset="0.059" stop-color="#63e29a"/><stop offset="0.118" stop-color="#60dcab"/><stop offset="0.176" stop-color="#5dd4ba"/><stop offset="0.235" stop-color="#5bcbc7"/><stop offset="0.294" stop-color="#59c3d3"/><stop offset="0.353" stop-color="#57bcdc"/><stop offset="0.412" stop-color="#54b5e2"/><stop offset="0.471" stop-color="#52aee7"/><stop offset="0.529" stop-color="#50a9eb"/><stop offset="0.588" stop-color="#4fa2ef"/><stop offset="0.647" stop-color="#4e9cf3"/><stop offset="0.706" stop-color="#4d96f6"/><stop offset="0.765" stop-color="#4c91f9"/><stop offset="0.824" stop-color="#4d8bfa"/><stop offset="0.882" stop-color="#4d84fb"/><stop offset="0.941" stop-color="#4e7ffb"/><stop offset="1.000" stop-color="#4f7afb"/></linearGradient><linearGradient id="fbf25"><stop offset="0.000" stop-color="#72e774"/><stop offset="0.059" stop-color="#63e298"/><stop offset="0.118" stop-color="#60dca9"/><stop offset="0.176" stop-color="#5dd4b8"/><stop offset="0.235" stop-color="#5bccc5"/><stop offset="0.294" stop-color="#59c4d2"/><stop offset="0.353" stop-color="#57bcdb"/><stop offset="0.412" stop-color="#54b5e1"/><stop offset="0.471" stop-color="#52afe6"/><stop offset="0.529" stop-color="#51aaeb"/><stop offset="0.588" stop-color="#4fa3ef"/><stop offset="0.647" stop-color="#4e9df3"/><stop offset="0.706" stop-color="#4d97f6"/><stop offset="0.765" stop-color="#4c92f9"/><stop offset="0.824" stop-color="#4d8cfa"/><stop offset="0.882" stop-color="#4d86fb"/><stop offset="0.941" stop-color="#4e80fb"/><stop offset="1.000" stop-color="#4f7afb"/></linearGradient><linearGradient id="fbf26"><stop offset="0.000" stop-color="#76e770"/><stop offset="0.059" stop-color="#64e397"/><stop offset="0.118" stop-color="#60dda8"/><stop offset="0.176" stop-color="#5ed5b7"/><stop offset="0.235" stop-color="#5bcdc4"/><stop offset="0.294" stop-color="#59c5d0"/><stop offset="0.353" stop-color="#57bdda"/><stop offset="0.412" stop-color="#55b6e0"/><stop offset="0.471" stop-color="#53b0e5"/><stop offset="0.529" stop-color="#51aaea"/><stop offset="0.588" stop-color="#4fa4ee"/><stop offset="0.647" stop-color="#4e9ef2"/><stop offset="0.706" stop-color="#4d98f5"/><stop offset="0.765" stop-color="#4c93f8"/><stop offset="0.824" stop-color="#4c8dfa"/><stop offset="0.882" stop-color="#4d87fb"/><stop offset="0.941" stop-color="#4e81fb"/><stop offset="1.000" stop-color="#4f7bfb"/></linearGradient><linearGradient id="fbf27"><stop offset="0.000" stop-color="#79e66b"/><stop offset="0.059" stop-color="#64e495"/><stop offset="0.118" stop-color="#61dda6"/><stop offset="0.176" stop-color="#5ed6b5"/><stop offset="0.235" stop-color="#5ccec2"/><stop offset="0.294" stop-color="#59c6cf"/><stop offset="0.353" stop-color="#57bed9"/><stop offset="0.412" stop-color="#55b7df"/><stop offset="0.471" stop-color="#53b1e5"/><stop offset="0.529" stop-color="#51abe9"/><stop offset="0.588" stop-color="#50a5ee"/><stop offset="0.647" stop-color="#4e9ff1"/><stop offset="0.706" stop-color="#4d99f5"/><stop offset="0.765" stop-color="#4d94f8"/><stop offset="0.824" stop-color="#4c8efa"/><stop offset="0.882" stop-color="#4d88fb"/><stop offset="0.941" stop-color="#4e82fb"/><stop offset="1.000" stop-color="#4e7cfb"/></linearGradient><radialGradient id="fgr"><stop offset="0" stop-color="#ff0000"/><stop offset="0.45" stop-color="#ff0000" stop-opacity="0.55"/><stop offset="1" stop-color="#ff0000" stop-opacity="0"/></radialGradient><radialGradient id="fgb"><stop offset="0" stop-color="#0000ff"/><stop offset="0.45" stop-color="#0000ff" stop-opacity="0.55"/><stop offset="1" stop-color="#0000ff" stop-opacity="0"/></radialGradient><clipPath id="fbc0a"><rect x="479" y="189.5" width="250" height="51.099999999999994"/></clipPath><clipPath id="fbc0b"><rect x="479" y="245.1" width="250" height="47.400000000000006"/></clipPath><clipPath id="fbc1a"><rect x="479" y="313" width="250" height="49.30000000000001"/></clipPath><clipPath id="fbc1b"><rect x="479" y="366.8" width="250" height="49.19999999999999"/></clipPath><clipPath id="fbc2a"><rect x="478" y="908.5" width="249" height="53.25"/></clipPath><clipPath id="fbc2b"><rect x="478" y="966" width="249" height="47.5"/></clipPath></defs><rect x="983.0" y="101.00" width="397.5" height="12.46" fill="url(#fbc0)"/><rect x="983.0" y="112.86" width="397.5" height="12.46" fill="url(#fbc1)"/><rect x="983.0" y="124.72" width="397.5" height="12.46" fill="url(#fbc2)"/><rect x="983.0" y="136.58" width="397.5" height="12.46" fill="url(#fbc3)"/><rect x="983.0" y="148.44" width="397.5" height="12.46" fill="url(#fbc4)"/><rect x="983.0" y="160.30" width="397.5" height="12.46" fill="url(#fbc5)"/><rect x="983.0" y="172.16" width="397.5" height="12.46" fill="url(#fbc6)"/><rect x="983.0" y="184.03" width="397.5" height="12.46" fill="url(#fbc7)"/><rect x="983.0" y="195.89" width="397.5" height="12.46" fill="url(#fbc8)"/><rect x="983.0" y="207.75" width="397.5" height="12.46" fill="url(#fbc9)"/><rect x="983.0" y="219.61" width="397.5" height="12.46" fill="url(#fbc10)"/><rect x="983.0" y="231.47" width="397.5" height="12.46" fill="url(#fbc11)"/><rect x="983.0" y="243.33" width="397.5" height="12.46" fill="url(#fbc12)"/><rect x="983.0" y="255.19" width="397.5" height="12.46" fill="url(#fbc13)"/><rect x="983.0" y="267.05" width="397.5" height="12.46" fill="url(#fbc14)"/><rect x="983.0" y="278.91" width="397.5" height="12.46" fill="url(#fbc15)"/><rect x="983.0" y="290.77" width="397.5" height="12.46" fill="url(#fbc16)"/><rect x="983.0" y="302.63" width="397.5" height="12.46" fill="url(#fbc17)"/><rect x="983.0" y="314.49" width="397.5" height="12.46" fill="url(#fbc18)"/><rect x="983.0" y="326.35" width="397.5" height="12.46" fill="url(#fbc19)"/><rect x="983.0" y="338.21" width="397.5" height="12.46" fill="url(#fbc20)"/><rect x="983.0" y="350.07" width="397.5" height="12.46" fill="url(#fbc21)"/><rect x="983.0" y="361.94" width="397.5" height="12.46" fill="url(#fbc22)"/><rect x="983.0" y="373.80" width="397.5" height="12.46" fill="url(#fbc23)"/><rect x="983.0" y="385.66" width="397.5" height="12.46" fill="url(#fbc24)"/><rect x="983.0" y="397.52" width="397.5" height="12.46" fill="url(#fbc25)"/><rect x="983.0" y="409.38" width="397.5" height="12.46" fill="url(#fbc26)"/><rect x="983.0" y="421.24" width="397.5" height="12.46" fill="url(#fbc27)"/><rect x="984.6" y="679.00" width="397.4" height="14.75" fill="url(#fbd0)"/><rect x="984.6" y="693.15" width="397.4" height="14.75" fill="url(#fbd1)"/><rect x="984.6" y="707.30" width="397.4" height="14.75" fill="url(#fbd2)"/><rect x="984.6" y="721.45" width="397.4" height="14.75" fill="url(#fbd3)"/><rect x="984.6" y="735.60" width="397.4" height="14.75" fill="url(#fbd4)"/><rect x="984.6" y="749.75" width="397.4" height="14.75" fill="url(#fbd5)"/><rect x="984.6" y="763.90" width="397.4" height="14.75" fill="url(#fbd6)"/><rect x="984.6" y="778.05" width="397.4" height="14.75" fill="url(#fbd7)"/><rect x="984.6" y="792.20" width="397.4" height="14.75" fill="url(#fbd8)"/><rect x="984.6" y="806.35" width="397.4" height="14.75" fill="url(#fbd9)"/><rect x="984.6" y="820.50" width="397.4" height="14.75" fill="url(#fbd10)"/><rect x="984.6" y="834.65" width="397.4" height="14.75" fill="url(#fbd11)"/><rect x="984.6" y="848.80" width="397.4" height="14.75" fill="url(#fbd12)"/><rect x="984.6" y="862.95" width="397.4" height="14.75" fill="url(#fbd13)"/><rect x="984.6" y="877.10" width="397.4" height="14.75" fill="url(#fbd14)"/><rect x="984.6" y="891.25" width="397.4" height="14.75" fill="url(#fbd15)"/><rect x="984.6" y="905.40" width="397.4" height="14.75" fill="url(#fbd16)"/><rect x="984.6" y="919.55" width="397.4" height="14.75" fill="url(#fbd17)"/><rect x="984.6" y="933.70" width="397.4" height="14.75" fill="url(#fbd18)"/><rect x="984.6" y="947.85" width="397.4" height="14.75" fill="url(#fbd19)"/><rect x="984.6" y="962.00" width="397.4" height="14.75" fill="url(#fbd20)"/><rect x="984.6" y="976.15" width="397.4" height="14.75" fill="url(#fbd21)"/><rect x="984.6" y="990.30" width="397.4" height="14.75" fill="url(#fbd22)"/><rect x="984.6" y="1004.45" width="397.4" height="14.75" fill="url(#fbd23)"/><rect x="984.6" y="1018.60" width="397.4" height="14.75" fill="url(#fbd24)"/><rect x="984.6" y="1032.75" width="397.4" height="14.75" fill="url(#fbd25)"/><rect x="984.6" y="1046.90" width="397.4" height="14.75" fill="url(#fbd26)"/><rect x="984.6" y="1061.05" width="397.4" height="14.75" fill="url(#fbd27)"/><rect x="1577.5" y="102.50" width="397.5" height="12.42" fill="url(#fbe0)"/><rect x="1577.5" y="114.32" width="397.5" height="12.42" fill="url(#fbe1)"/><rect x="1577.5" y="126.14" width="397.5" height="12.42" fill="url(#fbe2)"/><rect x="1577.5" y="137.95" width="397.5" height="12.42" fill="url(#fbe3)"/><rect x="1577.5" y="149.77" width="397.5" height="12.42" fill="url(#fbe4)"/><rect x="1577.5" y="161.59" width="397.5" height="12.42" fill="url(#fbe5)"/><rect x="1577.5" y="173.41" width="397.5" height="12.42" fill="url(#fbe6)"/><rect x="1577.5" y="185.22" width="397.5" height="12.42" fill="url(#fbe7)"/><rect x="1577.5" y="197.04" width="397.5" height="12.42" fill="url(#fbe8)"/><rect x="1577.5" y="208.86" width="397.5" height="12.42" fill="url(#fbe9)"/><rect x="1577.5" y="220.68" width="397.5" height="12.42" fill="url(#fbe10)"/><rect x="1577.5" y="232.50" width="397.5" height="12.42" fill="url(#fbe11)"/><rect x="1577.5" y="244.31" width="397.5" height="12.42" fill="url(#fbe12)"/><rect x="1577.5" y="256.13" width="397.5" height="12.42" fill="url(#fbe13)"/><rect x="1577.5" y="267.95" width="397.5" height="12.42" fill="url(#fbe14)"/><rect x="1577.5" y="279.77" width="397.5" height="12.42" fill="url(#fbe15)"/><rect x="1577.5" y="291.59" width="397.5" height="12.42" fill="url(#fbe16)"/><rect x="1577.5" y="303.40" width="397.5" height="12.42" fill="url(#fbe17)"/><rect x="1577.5" y="315.22" width="397.5" height="12.42" fill="url(#fbe18)"/><rect x="1577.5" y="327.04" width="397.5" height="12.42" fill="url(#fbe19)"/><rect x="1577.5" y="338.86" width="397.5" height="12.42" fill="url(#fbe20)"/><rect x="1577.5" y="350.67" width="397.5" height="12.42" fill="url(#fbe21)"/><rect x="1577.5" y="362.49" width="397.5" height="12.42" fill="url(#fbe22)"/><rect x="1577.5" y="374.31" width="397.5" height="12.42" fill="url(#fbe23)"/><rect x="1577.5" y="386.13" width="397.5" height="12.42" fill="url(#fbe24)"/><rect x="1577.5" y="397.95" width="397.5" height="12.42" fill="url(#fbe25)"/><rect x="1577.5" y="409.76" width="397.5" height="12.42" fill="url(#fbe26)"/><rect x="1577.5" y="421.58" width="397.5" height="12.42" fill="url(#fbe27)"/><rect x="1575.5" y="701.00" width="398.0" height="12.41" fill="url(#fbf0)"/><rect x="1575.5" y="712.81" width="398.0" height="12.41" fill="url(#fbf1)"/><rect x="1575.5" y="724.62" width="398.0" height="12.41" fill="url(#fbf2)"/><rect x="1575.5" y="736.43" width="398.0" height="12.41" fill="url(#fbf3)"/><rect x="1575.5" y="748.24" width="398.0" height="12.41" fill="url(#fbf4)"/><rect x="1575.5" y="760.05" width="398.0" height="12.41" fill="url(#fbf5)"/><rect x="1575.5" y="771.86" width="398.0" height="12.41" fill="url(#fbf6)"/><rect x="1575.5" y="783.67" width="398.0" height="12.41" fill="url(#fbf7)"/><rect x="1575.5" y="795.49" width="398.0" height="12.41" fill="url(#fbf8)"/><rect x="1575.5" y="807.30" width="398.0" height="12.41" fill="url(#fbf9)"/><rect x="1575.5" y="819.11" width="398.0" height="12.41" fill="url(#fbf10)"/><rect x="1575.5" y="830.92" width="398.0" height="12.41" fill="url(#fbf11)"/><rect x="1575.5" y="842.73" width="398.0" height="12.41" fill="url(#fbf12)"/><rect x="1575.5" y="854.54" width="398.0" height="12.41" fill="url(#fbf13)"/><rect x="1575.5" y="866.35" width="398.0" height="12.41" fill="url(#fbf14)"/><rect x="1575.5" y="878.16" width="398.0" height="12.41" fill="url(#fbf15)"/><rect x="1575.5" y="889.97" width="398.0" height="12.41" fill="url(#fbf16)"/><rect x="1575.5" y="901.78" width="398.0" height="12.41" fill="url(#fbf17)"/><rect x="1575.5" y="913.59" width="398.0" height="12.41" fill="url(#fbf18)"/><rect x="1575.5" y="925.40" width="398.0" height="12.41" fill="url(#fbf19)"/><rect x="1575.5" y="937.21" width="398.0" height="12.41" fill="url(#fbf20)"/><rect x="1575.5" y="949.03" width="398.0" height="12.41" fill="url(#fbf21)"/><rect x="1575.5" y="960.84" width="398.0" height="12.41" fill="url(#fbf22)"/><rect x="1575.5" y="972.65" width="398.0" height="12.41" fill="url(#fbf23)"/><rect x="1575.5" y="984.46" width="398.0" height="12.41" fill="url(#fbf24)"/><rect x="1575.5" y="996.27" width="398.0" height="12.41" fill="url(#fbf25)"/><rect x="1575.5" y="1008.08" width="398.0" height="12.41" fill="url(#fbf26)"/><rect x="1575.5" y="1019.89" width="398.0" height="12.41" fill="url(#fbf27)"/><g clip-path="url(#fbc0a)"><ellipse cx="493.0" cy="240.6" rx="16.2" ry="42.0" fill="url(#fgr)" opacity="1.00"/><ellipse cx="524.1" cy="240.6" rx="16.2" ry="42.0" fill="url(#fgb)" opacity="1.00"/><ellipse cx="555.2" cy="240.6" rx="16.2" ry="42.0" fill="url(#fgr)" opacity="0.99"/><ellipse cx="586.3" cy="240.6" rx="16.2" ry="42.0" fill="url(#fgb)" opacity="0.79"/><ellipse cx="617.4" cy="240.6" rx="16.2" ry="42.0" fill="url(#fgr)" opacity="0.63"/><ellipse cx="648.5" cy="240.6" rx="16.2" ry="42.0" fill="url(#fgb)" opacity="0.50"/><ellipse cx="679.6" cy="240.6" rx="16.2" ry="42.0" fill="url(#fgr)" opacity="0.40"/><ellipse cx="710.7" cy="240.6" rx="16.2" ry="42.0" fill="url(#fgb)" opacity="0.31"/><ellipse cx="741.8" cy="240.6" rx="16.2" ry="42.0" fill="url(#fgr)" opacity="0.25"/></g><g clip-path="url(#fbc0b)"><ellipse cx="493.0" cy="245.1" rx="16.2" ry="42.0" fill="url(#fgb)" opacity="1.00"/><ellipse cx="524.1" cy="245.1" rx="16.2" ry="42.0" fill="url(#fgr)" opacity="1.00"/><ellipse cx="555.2" cy="245.1" rx="16.2" ry="42.0" fill="url(#fgb)" opacity="0.99"/><ellipse cx="586.3" cy="245.1" rx="16.2" ry="42.0" fill="url(#fgr)" opacity="0.79"/><ellipse cx="617.4" cy="245.1" rx="16.2" ry="42.0" fill="url(#fgb)" opacity="0.63"/><ellipse cx="648.5" cy="245.1" rx="16.2" ry="42.0" fill="url(#fgr)" opacity="0.50"/><ellipse cx="679.6" cy="245.1" rx="16.2" ry="42.0" fill="url(#fgb)" opacity="0.40"/><ellipse cx="710.7" cy="245.1" rx="16.2" ry="42.0" fill="url(#fgr)" opacity="0.31"/><ellipse cx="741.8" cy="245.1" rx="16.2" ry="42.0" fill="url(#fgb)" opacity="0.25"/></g><g clip-path="url(#fbc1a)"><ellipse cx="488.0" cy="362.3" rx="10.9" ry="28.4" fill="url(#fgr)" opacity="1.00"/><ellipse cx="509.0" cy="362.3" rx="10.9" ry="28.4" fill="url(#fgb)" opacity="1.00"/><ellipse cx="530.0" cy="362.3" rx="10.9" ry="28.4" fill="url(#fgr)" opacity="1.00"/><ellipse cx="551.0" cy="362.3" rx="10.9" ry="28.4" fill="url(#fgb)" opacity="0.93"/><ellipse cx="572.0" cy="362.3" rx="10.9" ry="28.4" fill="url(#fgr)" opacity="0.78"/><ellipse cx="593.0" cy="362.3" rx="10.9" ry="28.4" fill="url(#fgb)" opacity="0.66"/><ellipse cx="614.0" cy="362.3" rx="10.9" ry="28.4" fill="url(#fgr)" opacity="0.55"/><ellipse cx="635.0" cy="362.3" rx="10.9" ry="28.4" fill="url(#fgb)" opacity="0.46"/><ellipse cx="656.0" cy="362.3" rx="10.9" ry="28.4" fill="url(#fgr)" opacity="0.39"/><ellipse cx="677.0" cy="362.3" rx="10.9" ry="28.4" fill="url(#fgb)" opacity="0.33"/><ellipse cx="698.0" cy="362.3" rx="10.9" ry="28.4" fill="url(#fgr)" opacity="0.27"/><ellipse cx="719.0" cy="362.3" rx="10.9" ry="28.4" fill="url(#fgb)" opacity="0.23"/></g><g clip-path="url(#fbc1b)"><ellipse cx="488.0" cy="366.8" rx="10.9" ry="28.4" fill="url(#fgb)" opacity="1.00"/><ellipse cx="509.0" cy="366.8" rx="10.9" ry="28.4" fill="url(#fgr)" opacity="1.00"/><ellipse cx="530.0" cy="366.8" rx="10.9" ry="28.4" fill="url(#fgb)" opacity="1.00"/><ellipse cx="551.0" cy="366.8" rx="10.9" ry="28.4" fill="url(#fgr)" opacity="0.93"/><ellipse cx="572.0" cy="366.8" rx="10.9" ry="28.4" fill="url(#fgb)" opacity="0.78"/><ellipse cx="593.0" cy="366.8" rx="10.9" ry="28.4" fill="url(#fgr)" opacity="0.66"/><ellipse cx="614.0" cy="366.8" rx="10.9" ry="28.4" fill="url(#fgb)" opacity="0.55"/><ellipse cx="635.0" cy="366.8" rx="10.9" ry="28.4" fill="url(#fgr)" opacity="0.46"/><ellipse cx="656.0" cy="366.8" rx="10.9" ry="28.4" fill="url(#fgb)" opacity="0.39"/><ellipse cx="677.0" cy="366.8" rx="10.9" ry="28.4" fill="url(#fgr)" opacity="0.33"/><ellipse cx="698.0" cy="366.8" rx="10.9" ry="28.4" fill="url(#fgb)" opacity="0.27"/><ellipse cx="719.0" cy="366.8" rx="10.9" ry="28.4" fill="url(#fgr)" opacity="0.23"/></g><g clip-path="url(#fbc2a)"><ellipse cx="491.0" cy="961.8" rx="15.6" ry="40.5" fill="url(#fgr)" opacity="1.00"/><ellipse cx="521.0" cy="961.8" rx="15.6" ry="40.5" fill="url(#fgb)" opacity="1.00"/><ellipse cx="549.0" cy="961.8" rx="11.8" ry="30.7" fill="url(#fgr)" opacity="0.95"/><ellipse cx="570.5" cy="961.8" rx="10.8" ry="27.9" fill="url(#fgb)" opacity="0.79"/><ellipse cx="591.0" cy="961.8" rx="10.7" ry="27.7" fill="url(#fgr)" opacity="0.66"/><ellipse cx="611.5" cy="961.8" rx="10.7" ry="27.7" fill="url(#fgb)" opacity="0.55"/><ellipse cx="632.0" cy="961.8" rx="10.7" ry="27.7" fill="url(#fgr)" opacity="0.46"/><ellipse cx="652.5" cy="961.8" rx="10.7" ry="27.7" fill="url(#fgb)" opacity="0.39"/><ellipse cx="677.0" cy="961.8" rx="15.6" ry="40.5" fill="url(#fgr)" opacity="0.31"/><ellipse cx="707.0" cy="961.8" rx="15.6" ry="40.5" fill="url(#fgb)" opacity="0.24"/><ellipse cx="737.0" cy="961.8" rx="15.6" ry="40.5" fill="url(#fgr)" opacity="0.19"/></g><g clip-path="url(#fbc2b)"><ellipse cx="491.0" cy="966.0" rx="15.6" ry="40.5" fill="url(#fgb)" opacity="1.00"/><ellipse cx="521.0" cy="966.0" rx="15.6" ry="40.5" fill="url(#fgr)" opacity="1.00"/><ellipse cx="549.0" cy="966.0" rx="11.8" ry="30.7" fill="url(#fgb)" opacity="0.95"/><ellipse cx="570.5" cy="966.0" rx="10.8" ry="27.9" fill="url(#fgr)" opacity="0.79"/><ellipse cx="591.0" cy="966.0" rx="10.7" ry="27.7" fill="url(#fgb)" opacity="0.66"/><ellipse cx="611.5" cy="966.0" rx="10.7" ry="27.7" fill="url(#fgr)" opacity="0.55"/><ellipse cx="632.0" cy="966.0" rx="10.7" ry="27.7" fill="url(#fgb)" opacity="0.46"/><ellipse cx="652.5" cy="966.0" rx="10.7" ry="27.7" fill="url(#fgr)" opacity="0.39"/><ellipse cx="677.0" cy="966.0" rx="15.6" ry="40.5" fill="url(#fgb)" opacity="0.31"/><ellipse cx="707.0" cy="966.0" rx="15.6" ry="40.5" fill="url(#fgr)" opacity="0.24"/><ellipse cx="737.0" cy="966.0" rx="15.6" ry="40.5" fill="url(#fgb)" opacity="0.19"/></g></svg>
<canvas id="cv0" width="250" height="104" style="left:479px;top:189px"></canvas><canvas id="cv1" width="250" height="103" style="left:479px;top:313px"></canvas><canvas id="cv2" width="249" height="106" style="left:478px;top:908px"></canvas><canvas id="cv3" width="398" height="397" style="left:983px;top:76px"></canvas><canvas id="cv4" width="398" height="397" style="left:984px;top:679px"></canvas><canvas id="cv5" width="398" height="397" style="left:1577px;top:76px"></canvas><canvas id="cv6" width="399" height="398" style="left:1575px;top:678px"></canvas>
<svg width="2000" height="1167" viewBox="0 0 2000 1167">
<defs><linearGradient id="cmap" x1="0" x2="1" y1="0" y2="0"><stop offset="0.0" stop-color="rgb(60,40,220)"/><stop offset="0.012" stop-color="rgb(64,44,228)"/><stop offset="0.068" stop-color="rgb(68,34,255)"/><stop offset="0.123" stop-color="rgb(74,56,252)"/><stop offset="0.179" stop-color="rgb(80,80,255)"/><stop offset="0.235" stop-color="rgb(80,112,252)"/><stop offset="0.29" stop-color="rgb(76,144,250)"/><stop offset="0.347" stop-color="rgb(80,168,236)"/><stop offset="0.424" stop-color="rgb(88,192,216)"/><stop offset="0.479" stop-color="rgb(92,208,192)"/><stop offset="0.535" stop-color="rgb(96,220,170)"/><stop offset="0.591" stop-color="rgb(100,228,148)"/><stop offset="0.628" stop-color="rgb(112,232,120)"/><stop offset="0.674" stop-color="rgb(144,224,72)"/><stop offset="0.724" stop-color="rgb(168,208,64)"/><stop offset="0.755" stop-color="rgb(192,203,60)"/><stop offset="0.775" stop-color="rgb(207,196,58)"/><stop offset="0.8" stop-color="rgb(216,184,60)"/><stop offset="0.817" stop-color="rgb(224,176,64)"/><stop offset="0.835" stop-color="rgb(232,176,64)"/><stop offset="0.863" stop-color="rgb(232,192,64)"/><stop offset="0.891" stop-color="rgb(232,208,64)"/><stop offset="0.928" stop-color="rgb(232,224,64)"/><stop offset="0.965" stop-color="rgb(224,240,56)"/><stop offset="1.0" stop-color="rgb(228,248,56)"/></linearGradient></defs>
<rect x="147.00" y="76.00" width="595.50" height="24.90" fill="#e0e1e1"/>
<rect x="147.00" y="429.70" width="595.50" height="43.80" fill="#e0e1e1"/>
<clipPath id="clipa"><rect x="147" y="76" width="595.5" height="397.5"/></clipPath>
<g clip-path="url(#clipa)">
<path d="M147.0,429.7 L147.0,429.6 L147.0,429.5 L147.0,429.5 L147.0,429.4 L147.1,429.3 L147.1,429.2 L147.1,429.1 L147.1,429.0 L147.1,428.9 L147.1,428.9 L147.1,428.8 L147.1,428.7 L147.1,428.6 L147.1,428.5 L147.2,428.4 L147.2,428.3 L147.2,428.3 L147.2,428.2 L147.2,428.1 L147.2,428.0 L147.2,427.9 L147.2,427.8 L147.2,427.7 L147.2,427.7 L147.3,427.6 L147.3,427.5 L147.3,427.4 L147.3,427.3 L147.3,427.2 L147.3,427.1 L147.3,427.1 L147.3,427.0 L147.3,426.9 L147.3,426.8 L147.3,426.7 L147.4,426.6 L147.4,426.5 L147.4,426.5 L147.4,426.4 L147.4,426.4 L147.5,425.8 L147.5,425.3 L147.6,424.7 L147.6,424.2 L147.7,423.7 L147.8,423.1 L147.8,422.6 L147.9,422.0 L148.0,421.5 L148.0,420.9 L148.1,420.4 L148.2,419.9 L148.2,419.3 L148.3,418.8 L148.4,418.2 L148.4,417.7 L148.5,417.1 L148.6,416.6 L148.7,416.1 L148.7,415.5 L148.8,415.0 L148.9,414.4 L148.9,413.9 L149.0,413.4 L149.1,412.8 L149.2,412.3 L149.2,411.7 L149.3,411.2 L149.4,410.6 L149.5,410.1 L149.5,409.6 L149.6,409.0 L149.7,408.5 L149.8,407.9 L149.8,407.4 L149.9,406.8 L150.0,406.3 L150.1,405.8 L150.1,405.2 L150.2,404.7 L150.3,404.1 L150.4,403.6 L150.5,403.1 L150.5,402.5 L150.6,402.0 L150.7,401.4 L150.8,400.9 L150.9,400.3 L150.9,399.8 L151.0,399.3 L151.1,398.7 L151.2,398.2 L151.3,397.6 L151.4,397.1 L151.4,396.5 L151.5,396.0 L151.6,395.5 L151.7,394.9 L151.8,394.4 L151.9,393.8 L152.0,393.3 L152.1,392.7 L152.1,392.2 L152.2,391.7 L152.3,391.1 L152.4,390.6 L152.5,390.0 L152.6,389.5 L152.7,389.0 L152.8,388.4 L152.9,387.9 L153.0,387.3 L153.1,386.8 L153.1,386.2 L153.2,385.7 L153.3,385.2 L153.4,384.6 L153.5,384.1 L153.6,383.5 L153.7,383.0 L153.8,382.4 L153.9,381.9 L154.0,381.4 L154.1,380.8 L154.2,380.3 L154.3,379.7 L154.4,379.2 L154.5,378.6 L154.6,378.1 L154.7,377.6 L154.8,377.0 L154.9,376.5 L155.0,375.9 L155.1,375.4 L155.2,374.9 L155.3,374.3 L155.4,373.8 L155.5,373.2 L155.7,372.7 L155.8,372.1 L155.9,371.6 L156.0,371.1 L156.1,370.5 L156.2,370.0 L156.3,369.4 L156.4,368.9 L156.5,368.3 L156.6,367.8 L156.8,367.3 L156.9,366.7 L157.0,366.2 L157.1,365.6 L157.2,365.1 L157.3,364.6 L157.4,364.0 L157.6,363.5 L157.7,362.9 L157.8,362.4 L157.9,361.8 L158.0,361.3 L158.1,360.8 L158.3,360.2 L158.4,359.7 L158.5,359.1 L158.6,358.6 L158.7,358.0 L158.9,357.5 L159.0,357.0 L159.1,356.4 L159.2,355.9 L159.4,355.3 L159.5,354.8 L159.6,354.2 L159.7,353.7 L159.9,353.2 L160.0,352.6 L160.1,352.1 L160.3,351.5 L160.4,351.0 L160.5,350.5 L160.7,349.9 L160.8,349.4 L160.9,348.8 L161.1,348.3 L161.2,347.7 L161.3,347.2 L161.5,346.7 L161.6,346.1 L161.7,345.6 L161.9,345.0 L162.0,344.5 L162.2,343.9 L162.3,343.4 L162.4,342.9 L162.6,342.3 L162.7,341.8 L162.9,341.2 L163.0,340.7 L163.2,340.1 L163.3,339.6 L163.4,339.1 L163.6,338.5 L163.7,338.0 L163.9,337.4 L164.0,336.9 L164.2,336.4 L164.3,335.8 L164.5,335.3 L164.6,334.7 L164.8,334.2 L165.0,333.6 L165.1,333.1 L165.3,332.6 L165.4,332.0 L165.6,331.5 L165.7,330.9 L165.9,330.4 L166.1,329.8 L166.2,329.3 L166.4,328.8 L166.5,328.2 L166.7,327.7 L166.9,327.1 L167.0,326.6 L167.2,326.0 L167.4,325.5 L167.5,325.0 L167.7,324.4 L167.9,323.9 L168.0,323.3 L168.2,322.8 L168.4,322.3 L168.6,321.7 L168.7,321.2 L168.9,320.6 L169.1,320.1 L169.3,319.5 L169.4,319.0 L169.6,318.5 L169.8,317.9 L170.0,317.4 L170.2,316.8 L170.3,316.3 L170.5,315.7 L170.7,315.2 L170.9,314.7 L171.1,314.1 L171.3,313.6 L171.5,313.0 L171.6,312.5 L171.8,312.0 L172.0,311.4 L172.2,310.9 L172.4,310.3 L172.6,309.8 L172.8,309.2 L173.0,308.7 L173.2,308.2 L173.4,307.6 L173.6,307.1 L173.8,306.5 L174.0,306.0 L174.2,305.4 L174.4,304.9 L174.6,304.4 L174.8,303.8 L175.0,303.3 L175.2,302.7 L175.5,302.2 L175.7,301.6 L175.9,301.1 L176.1,300.6 L176.3,300.0 L176.5,299.5 L176.7,298.9 L177.0,298.4 L177.2,297.9 L177.4,297.3 L177.6,296.8 L177.9,296.2 L178.1,295.7 L178.3,295.1 L178.5,294.6 L178.8,294.1 L179.0,293.5 L179.2,293.0 L179.5,292.4 L179.7,291.9 L179.9,291.3 L180.2,290.8 L180.4,290.3 L180.6,289.7 L180.9,289.2 L181.1,288.6 L181.4,288.1 L181.6,287.5 L181.9,287.0 L182.1,286.5 L182.4,285.9 L182.6,285.4 L182.9,284.8 L183.1,284.3 L183.4,283.8 L183.6,283.2 L183.9,282.7 L184.2,282.1 L184.4,281.6 L184.7,281.0 L185.0,280.5 L185.2,280.0 L185.5,279.4 L185.8,278.9 L186.0,278.3 L186.3,277.8 L186.6,277.2 L186.9,276.7 L187.1,276.2 L187.4,275.6 L187.7,275.1 L188.0,274.5 L188.3,274.0 L188.6,273.5 L188.9,272.9 L189.2,272.4 L189.4,271.8 L189.7,271.3 L190.0,270.7 L190.3,270.2 L190.6,269.7 L190.9,269.1 L191.3,268.6 L191.6,268.0 L191.9,267.5 L192.2,266.9 L192.5,266.4 L192.8,265.9 L193.1,265.3 L193.4,264.8 L193.8,264.2 L194.1,263.7 L194.4,263.1 L194.7,262.6 L195.1,262.1 L195.4,261.5 L195.7,261.0 L196.1,260.4 L196.4,259.9 L196.8,259.4 L197.1,258.8 L197.4,258.3 L197.8,257.7 L198.1,257.2 L198.5,256.6 L198.9,256.1 L199.2,255.6 L199.6,255.0 L199.9,254.5 L200.3,253.9 L200.7,253.4 L201.0,252.8 L201.4,252.3 L201.8,251.8 L202.2,251.2 L202.5,250.7 L202.9,250.1 L203.3,249.6 L203.7,249.0 L204.1,248.5 L204.5,248.0 L204.9,247.4 L205.3,246.9 L205.7,246.3 L206.1,245.8 L206.5,245.3 L206.9,244.7 L207.3,244.2 L207.8,243.6 L208.2,243.1 L208.6,242.5 L209.0,242.0 L209.5,241.5 L209.9,240.9 L210.3,240.4 L210.8,239.8 L211.2,239.3 L211.7,238.7 L212.1,238.2 L212.6,237.7 L213.0,237.1 L213.5,236.6 L213.9,236.0 L214.4,235.5 L214.9,234.9 L215.4,234.4 L215.8,233.9 L216.3,233.3 L216.8,232.8 L217.3,232.2 L217.8,231.7 L218.3,231.2 L218.8,230.6 L219.3,230.1 L219.8,229.5 L220.3,229.0 L220.8,228.4 L221.4,227.9 L221.9,227.4 L222.4,226.8 L223.0,226.3 L223.5,225.7 L224.0,225.2 L224.6,224.6 L225.1,224.1 L225.7,223.6 L226.3,223.0 L226.8,222.5 L227.4,221.9 L228.0,221.4 L228.6,220.9 L229.2,220.3 L229.7,219.8 L230.3,219.2 L230.9,218.7 L231.6,218.1 L232.2,217.6 L232.8,217.1 L233.4,216.5 L234.0,216.0 L234.7,215.4 L235.3,214.9 L236.0,214.3 L236.6,213.8 L237.3,213.3 L237.9,212.7 L238.6,212.2 L239.3,211.6 L240.0,211.1 L240.7,210.5 L241.3,210.0 L242.0,209.5 L242.8,208.9 L243.5,208.4 L244.2,207.8 L244.9,207.3 L245.7,206.8 L246.4,206.2 L247.2,205.7 L247.9,205.1 L248.7,204.6 L249.4,204.0 L250.2,203.5 L251.0,203.0 L251.8,202.4 L252.6,201.9 L253.4,201.3 L254.2,200.8 L255.1,200.2 L255.9,199.7 L256.8,199.2 L257.6,198.6 L258.5,198.1 L259.3,197.5 L260.2,197.0 L261.1,196.4 L262.0,195.9 L262.9,195.4 L263.8,194.8 L264.8,194.3 L265.7,193.7 L266.6,193.2 L267.6,192.7 L268.6,192.1 L269.6,191.6 L270.5,191.0 L271.5,190.5 L272.6,189.9 L273.6,189.4 L274.6,188.9 L275.7,188.3 L276.7,187.8 L277.8,187.2 L278.9,186.7 L280.0,186.1 L281.1,185.6 L282.2,185.1 L283.3,184.5 L284.5,184.0 L285.6,183.4 L286.8,182.9 L288.0,182.4 L289.2,181.8 L290.4,181.3 L291.7,180.7 L292.9,180.2 L294.2,179.6 L295.5,179.1 L296.8,178.6 L298.1,178.0 L299.4,177.5 L300.8,176.9 L302.1,176.4 L303.5,175.8 L304.9,175.3 L306.3,174.8 L307.8,174.2 L309.2,173.7 L310.7,173.1 L312.2,172.6 L313.7,172.0 L315.3,171.5 L316.8,171.0 L318.4,170.4 L320.0,169.9 L321.7,169.3 L323.3,168.8 L325.0,168.3 L326.7,167.7 L328.4,167.2 L330.2,166.6 L331.9,166.1 L333.8,165.5 L335.6,165.0 L337.4,164.5 L339.3,163.9 L341.2,163.4 L343.2,162.8 L345.2,162.3 L347.2,161.7 L349.2,161.2 L351.3,160.7 L353.4,160.1 L355.5,159.6 L357.7,159.0 L359.9,158.5 L362.2,157.9 L364.5,157.4 L366.8,156.9 L369.2,156.3 L371.6,155.8 L374.0,155.2 L376.5,154.7 L379.0,154.2 L381.6,153.6 L384.3,153.1 L386.9,152.5 L389.7,152.0 L392.5,151.4 L395.3,150.9 L398.2,150.4 L401.1,149.8 L404.1,149.3 L407.2,148.7 L410.3,148.2 L413.5,147.6 L416.7,147.1 L420.0,146.6 L423.4,146.0 L426.9,145.5 L430.4,144.9 L434.0,144.4 L437.7,143.8 L441.5,143.3 L445.3,142.8 L449.2,142.2 L453.3,141.7 L457.4,141.1 L461.6,140.6 L465.9,140.1 L470.3,139.5 L474.9,139.0 L479.5,138.4 L484.3,137.9 L489.1,137.3 L494.1,136.8 L499.3,136.3 L504.5,135.7 L509.9,135.2 L515.5,134.6 L521.2,134.1 L527.0,133.5 L533.1,133.0 L539.3,132.5 L545.7,131.9 L552.3,131.4 L559.0,130.8 L566.0,130.3 L573.2,129.8 L580.7,129.2 L588.3,128.7 L596.3,128.1 L604.5,127.6 L613.0,127.0 L621.7,126.5 L630.8,126.0 L640.3,125.4 L650.0,124.9 L660.2,124.3 L670.7,123.8 L681.7,123.2 L693.1,122.7 L705.0,122.2 L717.4,121.6 L730.3,121.1 L743.8,120.5 L758.0,120.0 L754.4,125.4 L744.0,126.0 L733.9,126.5 L724.1,127.0 L714.7,127.6 L705.5,128.1 L696.7,128.7 L688.0,129.2 L679.7,129.8 L671.6,130.3 L663.7,130.8 L656.1,131.4 L648.6,131.9 L641.4,132.5 L634.4,133.0 L627.5,133.5 L620.8,134.1 L614.3,134.6 L608.0,135.2 L601.8,135.7 L595.7,136.3 L589.8,136.8 L584.1,137.3 L578.5,137.9 L573.0,138.4 L567.6,139.0 L562.4,139.5 L557.3,140.1 L552.2,140.6 L547.3,141.1 L542.5,141.7 L537.8,142.2 L533.2,142.8 L528.7,143.3 L524.3,143.8 L520.0,144.4 L515.7,144.9 L511.6,145.5 L507.5,146.0 L503.5,146.6 L499.6,147.1 L495.7,147.6 L491.9,148.2 L488.2,148.7 L484.6,149.3 L481.0,149.8 L477.5,150.4 L474.0,150.9 L470.6,151.4 L467.3,152.0 L464.0,152.5 L460.8,153.1 L457.6,153.6 L454.5,154.2 L451.5,154.7 L448.4,155.2 L445.5,155.8 L442.6,156.3 L439.7,156.9 L436.9,157.4 L434.1,157.9 L431.3,158.5 L428.6,159.0 L426.0,159.6 L423.4,160.1 L420.8,160.7 L418.2,161.2 L415.7,161.7 L413.3,162.3 L410.8,162.8 L408.4,163.4 L406.1,163.9 L403.8,164.5 L401.5,165.0 L399.2,165.5 L397.0,166.1 L394.8,166.6 L392.6,167.2 L390.4,167.7 L388.3,168.3 L386.2,168.8 L384.2,169.3 L382.2,169.9 L380.1,170.4 L378.2,171.0 L376.2,171.5 L374.3,172.0 L372.4,172.6 L370.5,173.1 L368.6,173.7 L366.8,174.2 L365.0,174.8 L363.2,175.3 L361.4,175.8 L359.7,176.4 L357.9,176.9 L356.2,177.5 L354.6,178.0 L352.9,178.6 L351.2,179.1 L349.6,179.6 L348.0,180.2 L346.4,180.7 L344.8,181.3 L343.3,181.8 L341.7,182.4 L340.2,182.9 L338.7,183.4 L337.2,184.0 L335.8,184.5 L334.3,185.1 L332.9,185.6 L331.4,186.1 L330.0,186.7 L328.6,187.2 L327.3,187.8 L325.9,188.3 L324.5,188.9 L323.2,189.4 L321.9,189.9 L320.6,190.5 L319.3,191.0 L318.0,191.6 L316.7,192.1 L315.5,192.7 L314.2,193.2 L313.0,193.7 L311.8,194.3 L310.6,194.8 L309.4,195.4 L308.2,195.9 L307.0,196.4 L305.9,197.0 L304.7,197.5 L303.6,198.1 L302.4,198.6 L301.3,199.2 L300.2,199.7 L299.1,200.2 L298.0,200.8 L297.0,201.3 L295.9,201.9 L294.8,202.4 L293.8,203.0 L292.8,203.5 L291.7,204.0 L290.7,204.6 L289.7,205.1 L288.7,205.7 L287.7,206.2 L286.7,206.8 L285.7,207.3 L284.8,207.8 L283.8,208.4 L282.9,208.9 L281.9,209.5 L281.0,210.0 L280.1,210.5 L279.2,211.1 L278.3,211.6 L277.4,212.2 L276.5,212.7 L275.6,213.3 L274.7,213.8 L273.8,214.3 L273.0,214.9 L272.1,215.4 L271.3,216.0 L270.4,216.5 L269.6,217.1 L268.7,217.6 L267.9,218.1 L267.1,218.7 L266.3,219.2 L265.5,219.8 L264.7,220.3 L263.9,220.9 L263.1,221.4 L262.4,221.9 L261.6,222.5 L260.8,223.0 L260.1,223.6 L259.3,224.1 L258.6,224.6 L257.8,225.2 L257.1,225.7 L256.3,226.3 L255.6,226.8 L254.9,227.4 L254.2,227.9 L253.5,228.4 L252.8,229.0 L252.1,229.5 L251.4,230.1 L250.7,230.6 L250.0,231.2 L249.3,231.7 L248.7,232.2 L248.0,232.8 L247.3,233.3 L246.7,233.9 L246.0,234.4 L245.4,234.9 L244.7,235.5 L244.1,236.0 L243.5,236.6 L242.8,237.1 L242.2,237.7 L241.6,238.2 L241.0,238.7 L240.3,239.3 L239.7,239.8 L239.1,240.4 L238.5,240.9 L237.9,241.5 L237.3,242.0 L236.8,242.5 L236.2,243.1 L235.6,243.6 L235.0,244.2 L234.4,244.7 L233.9,245.3 L233.3,245.8 L232.8,246.3 L232.2,246.9 L231.6,247.4 L231.1,248.0 L230.6,248.5 L230.0,249.0 L229.5,249.6 L228.9,250.1 L228.4,250.7 L227.9,251.2 L227.4,251.8 L226.8,252.3 L226.3,252.8 L225.8,253.4 L225.3,253.9 L224.8,254.5 L224.3,255.0 L223.8,255.6 L223.3,256.1 L222.8,256.6 L222.3,257.2 L221.8,257.7 L221.3,258.3 L220.8,258.8 L220.4,259.4 L219.9,259.9 L219.4,260.4 L218.9,261.0 L218.5,261.5 L218.0,262.1 L217.5,262.6 L217.1,263.1 L216.6,263.7 L216.2,264.2 L215.7,264.8 L215.3,265.3 L214.8,265.9 L214.4,266.4 L213.9,266.9 L213.5,267.5 L213.1,268.0 L212.6,268.6 L212.2,269.1 L211.8,269.7 L211.4,270.2 L210.9,270.7 L210.5,271.3 L210.1,271.8 L209.7,272.4 L209.3,272.9 L208.9,273.5 L208.5,274.0 L208.1,274.5 L207.7,275.1 L207.3,275.6 L206.9,276.2 L206.5,276.7 L206.1,277.2 L205.7,277.8 L205.3,278.3 L204.9,278.9 L204.5,279.4 L204.1,280.0 L203.8,280.5 L203.4,281.0 L203.0,281.6 L202.6,282.1 L202.3,282.7 L201.9,283.2 L201.5,283.8 L201.2,284.3 L200.8,284.8 L200.4,285.4 L200.1,285.9 L199.7,286.5 L199.4,287.0 L199.0,287.5 L198.6,288.1 L198.3,288.6 L198.0,289.2 L197.6,289.7 L197.3,290.3 L196.9,290.8 L196.6,291.3 L196.2,291.9 L195.9,292.4 L195.6,293.0 L195.2,293.5 L194.9,294.1 L194.6,294.6 L194.3,295.1 L193.9,295.7 L193.6,296.2 L193.3,296.8 L193.0,297.3 L192.6,297.9 L192.3,298.4 L192.0,298.9 L191.7,299.5 L191.4,300.0 L191.1,300.6 L190.8,301.1 L190.5,301.6 L190.1,302.2 L189.8,302.7 L189.5,303.3 L189.2,303.8 L188.9,304.4 L188.6,304.9 L188.3,305.4 L188.1,306.0 L187.8,306.5 L187.5,307.1 L187.2,307.6 L186.9,308.2 L186.6,308.7 L186.3,309.2 L186.0,309.8 L185.7,310.3 L185.5,310.9 L185.2,311.4 L184.9,312.0 L184.6,312.5 L184.4,313.0 L184.1,313.6 L183.8,314.1 L183.5,314.7 L183.3,315.2 L183.0,315.7 L182.7,316.3 L182.5,316.8 L182.2,317.4 L181.9,317.9 L181.7,318.5 L181.4,319.0 L181.1,319.5 L180.9,320.1 L180.6,320.6 L180.4,321.2 L180.1,321.7 L179.9,322.3 L179.6,322.8 L179.4,323.3 L179.1,323.9 L178.9,324.4 L178.6,325.0 L178.4,325.5 L178.1,326.0 L177.9,326.6 L177.6,327.1 L177.4,327.7 L177.2,328.2 L176.9,328.8 L176.7,329.3 L176.4,329.8 L176.2,330.4 L176.0,330.9 L175.7,331.5 L175.5,332.0 L175.3,332.6 L175.0,333.1 L174.8,333.6 L174.6,334.2 L174.4,334.7 L174.1,335.3 L173.9,335.8 L173.7,336.4 L173.5,336.9 L173.2,337.4 L173.0,338.0 L172.8,338.5 L172.6,339.1 L172.4,339.6 L172.1,340.1 L171.9,340.7 L171.7,341.2 L171.5,341.8 L171.3,342.3 L171.1,342.9 L170.9,343.4 L170.7,343.9 L170.5,344.5 L170.2,345.0 L170.0,345.6 L169.8,346.1 L169.6,346.7 L169.4,347.2 L169.2,347.7 L169.0,348.3 L168.8,348.8 L168.6,349.4 L168.4,349.9 L168.2,350.5 L168.0,351.0 L167.8,351.5 L167.6,352.1 L167.4,352.6 L167.2,353.2 L167.0,353.7 L166.9,354.2 L166.7,354.8 L166.5,355.3 L166.3,355.9 L166.1,356.4 L165.9,357.0 L165.7,357.5 L165.5,358.0 L165.4,358.6 L165.2,359.1 L165.0,359.7 L164.8,360.2 L164.6,360.8 L164.4,361.3 L164.3,361.8 L164.1,362.4 L163.9,362.9 L163.7,363.5 L163.5,364.0 L163.4,364.6 L163.2,365.1 L163.0,365.6 L162.8,366.2 L162.7,366.7 L162.5,367.3 L162.3,367.8 L162.2,368.3 L162.0,368.9 L161.8,369.4 L161.7,370.0 L161.5,370.5 L161.3,371.1 L161.2,371.6 L161.0,372.1 L160.8,372.7 L160.7,373.2 L160.5,373.8 L160.3,374.3 L160.2,374.9 L160.0,375.4 L159.8,375.9 L159.7,376.5 L159.5,377.0 L159.4,377.6 L159.2,378.1 L159.1,378.6 L158.9,379.2 L158.7,379.7 L158.6,380.3 L158.4,380.8 L158.3,381.4 L158.1,381.9 L158.0,382.4 L157.8,383.0 L157.7,383.5 L157.5,384.1 L157.4,384.6 L157.2,385.2 L157.1,385.7 L156.9,386.2 L156.8,386.8 L156.6,387.3 L156.5,387.9 L156.4,388.4 L156.2,389.0 L156.1,389.5 L155.9,390.0 L155.8,390.6 L155.6,391.1 L155.5,391.7 L155.4,392.2 L155.2,392.7 L155.1,393.3 L154.9,393.8 L154.8,394.4 L154.7,394.9 L154.5,395.5 L154.4,396.0 L154.3,396.5 L154.1,397.1 L154.0,397.6 L153.9,398.2 L153.7,398.7 L153.6,399.3 L153.5,399.8 L153.3,400.3 L153.2,400.9 L153.1,401.4 L152.9,402.0 L152.8,402.5 L152.7,403.1 L152.5,403.6 L152.4,404.1 L152.3,404.7 L152.2,405.2 L152.0,405.8 L151.9,406.3 L151.8,406.8 L151.7,407.4 L151.5,407.9 L151.4,408.5 L151.3,409.0 L151.2,409.6 L151.1,410.1 L150.9,410.6 L150.8,411.2 L150.7,411.7 L150.6,412.3 L150.5,412.8 L150.3,413.4 L150.2,413.9 L150.1,414.4 L150.0,415.0 L149.9,415.5 L149.8,416.1 L149.6,416.6 L149.5,417.1 L149.4,417.7 L149.3,418.2 L149.2,418.8 L149.1,419.3 L149.0,419.9 L148.8,420.4 L148.7,420.9 L148.6,421.5 L148.5,422.0 L148.4,422.6 L148.3,423.1 L148.2,423.7 L148.1,424.2 L148.0,424.7 L147.9,425.3 L147.8,425.8 L147.7,426.4 L147.7,426.4 L147.6,426.5 L147.6,426.5 L147.6,426.6 L147.6,426.7 L147.6,426.8 L147.6,426.9 L147.5,427.0 L147.5,427.1 L147.5,427.1 L147.5,427.2 L147.5,427.3 L147.5,427.4 L147.4,427.5 L147.4,427.6 L147.4,427.7 L147.4,427.7 L147.4,427.8 L147.4,427.9 L147.3,428.0 L147.3,428.1 L147.3,428.2 L147.3,428.3 L147.3,428.3 L147.3,428.4 L147.2,428.5 L147.2,428.6 L147.2,428.7 L147.2,428.8 L147.2,428.9 L147.2,428.9 L147.1,429.0 L147.1,429.1 L147.1,429.2 L147.1,429.3 L147.1,429.4 L147.1,429.5 L147.0,429.5 L147.0,429.6 L147.0,429.7 Z" stroke="none" stroke-width="0" fill="#c4d8ec"/>
<path d="M147.0,429.7 L147.0,429.6 L147.0,429.5 L147.0,429.5 L147.0,429.4 L147.1,429.3 L147.1,429.2 L147.1,429.1 L147.1,429.0 L147.1,428.9 L147.1,428.9 L147.1,428.8 L147.1,428.7 L147.1,428.6 L147.1,428.5 L147.2,428.4 L147.2,428.3 L147.2,428.3 L147.2,428.2 L147.2,428.1 L147.2,428.0 L147.2,427.9 L147.2,427.8 L147.2,427.7 L147.2,427.7 L147.3,427.6 L147.3,427.5 L147.3,427.4 L147.3,427.3 L147.3,427.2 L147.3,427.1 L147.3,427.1 L147.3,427.0 L147.3,426.9 L147.3,426.8 L147.3,426.7 L147.4,426.6 L147.4,426.5 L147.4,426.5 L147.4,426.4 L147.4,426.4 L147.5,425.8 L147.5,425.3 L147.6,424.7 L147.6,424.2 L147.7,423.7 L147.8,423.1 L147.8,422.6 L147.9,422.0 L148.0,421.5 L148.0,420.9 L148.1,420.4 L148.2,419.9 L148.2,419.3 L148.3,418.8 L148.4,418.2 L148.4,417.7 L148.5,417.1 L148.6,416.6 L148.7,416.1 L148.7,415.5 L148.8,415.0 L148.9,414.4 L148.9,413.9 L149.0,413.4 L149.1,412.8 L149.2,412.3 L149.2,411.7 L149.3,411.2 L149.4,410.6 L149.5,410.1 L149.5,409.6 L149.6,409.0 L149.7,408.5 L149.8,407.9 L149.8,407.4 L149.9,406.8 L150.0,406.3 L150.1,405.8 L150.1,405.2 L150.2,404.7 L150.3,404.1 L150.4,403.6 L150.5,403.1 L150.5,402.5 L150.6,402.0 L150.7,401.4 L150.8,400.9 L150.9,400.3 L150.9,399.8 L151.0,399.3 L151.1,398.7 L151.2,398.2 L151.3,397.6 L151.4,397.1 L151.4,396.5 L151.5,396.0 L151.6,395.5 L151.7,394.9 L151.8,394.4 L151.9,393.8 L152.0,393.3 L152.1,392.7 L152.1,392.2 L152.2,391.7 L152.3,391.1 L152.4,390.6 L152.5,390.0 L152.6,389.5 L152.7,389.0 L152.8,388.4 L152.9,387.9 L153.0,387.3 L153.1,386.8 L153.1,386.2 L153.2,385.7 L153.3,385.2 L153.4,384.6 L153.5,384.1 L153.6,383.5 L153.7,383.0 L153.8,382.4 L153.9,381.9 L154.0,381.4 L154.1,380.8 L154.2,380.3 L154.3,379.7 L154.4,379.2 L154.5,378.6 L154.6,378.1 L154.7,377.6 L154.8,377.0 L154.9,376.5 L155.0,375.9 L155.1,375.4 L155.2,374.9 L155.3,374.3 L155.4,373.8 L155.5,373.2 L155.7,372.7 L155.8,372.1 L155.9,371.6 L156.0,371.1 L156.1,370.5 L156.2,370.0 L156.3,369.4 L156.4,368.9 L156.5,368.3 L156.6,367.8 L156.8,367.3 L156.9,366.7 L157.0,366.2 L157.1,365.6 L157.2,365.1 L157.3,364.6 L157.4,364.0 L157.6,363.5 L157.7,362.9 L157.8,362.4 L157.9,361.8 L158.0,361.3 L158.1,360.8 L158.3,360.2 L158.4,359.7 L158.5,359.1 L158.6,358.6 L158.7,358.0 L158.9,357.5 L159.0,357.0 L159.1,356.4 L159.2,355.9 L159.4,355.3 L159.5,354.8 L159.6,354.2 L159.7,353.7 L159.9,353.2 L160.0,352.6 L160.1,352.1 L160.3,351.5 L160.4,351.0 L160.5,350.5 L160.7,349.9 L160.8,349.4 L160.9,348.8 L161.1,348.3 L161.2,347.7 L161.3,347.2 L161.5,346.7 L161.6,346.1 L161.7,345.6 L161.9,345.0 L162.0,344.5 L162.2,343.9 L162.3,343.4 L162.4,342.9 L162.6,342.3 L162.7,341.8 L162.9,341.2 L163.0,340.7 L163.2,340.1 L163.3,339.6 L163.4,339.1 L163.6,338.5 L163.7,338.0 L163.9,337.4 L164.0,336.9 L164.2,336.4 L164.3,335.8 L164.5,335.3 L164.6,334.7 L164.8,334.2 L165.0,333.6 L165.1,333.1 L165.3,332.6 L165.4,332.0 L165.6,331.5 L165.7,330.9 L165.9,330.4 L166.1,329.8 L166.2,329.3 L166.4,328.8 L166.5,328.2 L166.7,327.7 L166.9,327.1 L167.0,326.6 L167.2,326.0 L167.4,325.5 L167.5,325.0 L167.7,324.4 L167.9,323.9 L168.0,323.3 L168.2,322.8 L168.4,322.3 L168.6,321.7 L168.7,321.2 L168.9,320.6 L169.1,320.1 L169.3,319.5 L169.4,319.0 L169.6,318.5 L169.8,317.9 L170.0,317.4 L170.2,316.8 L170.3,316.3 L170.5,315.7 L170.7,315.2 L170.9,314.7 L171.1,314.1 L171.3,313.6 L171.5,313.0 L171.6,312.5 L171.8,312.0 L172.0,311.4 L172.2,310.9 L172.4,310.3 L172.6,309.8 L172.8,309.2 L173.0,308.7 L173.2,308.2 L173.4,307.6 L173.6,307.1 L173.8,306.5 L174.0,306.0 L174.2,305.4 L174.4,304.9 L174.6,304.4 L174.8,303.8 L175.0,303.3 L175.2,302.7 L175.5,302.2 L175.7,301.6 L175.9,301.1 L176.1,300.6 L176.3,300.0 L176.5,299.5 L176.7,298.9 L177.0,298.4 L177.2,297.9 L177.4,297.3 L177.6,296.8 L177.9,296.2 L178.1,295.7 L178.3,295.1 L178.5,294.6 L178.8,294.1 L179.0,293.5 L179.2,293.0 L179.5,292.4 L179.7,291.9 L179.9,291.3 L180.2,290.8 L180.4,290.3 L180.6,289.7 L180.9,289.2 L181.1,288.6 L181.4,288.1 L181.6,287.5 L181.9,287.0 L182.1,286.5 L182.4,285.9 L182.6,285.4 L182.9,284.8 L183.1,284.3 L183.4,283.8 L183.6,283.2 L183.9,282.7 L184.2,282.1 L184.4,281.6 L184.7,281.0 L185.0,280.5 L185.2,280.0 L185.5,279.4 L185.8,278.9 L186.0,278.3 L186.3,277.8 L186.6,277.2 L186.9,276.7 L187.1,276.2 L187.4,275.6 L187.7,275.1 L188.0,274.5 L188.3,274.0 L188.6,273.5 L188.9,272.9 L189.2,272.4 L189.4,271.8 L189.7,271.3 L190.0,270.7 L190.3,270.2 L190.6,269.7 L190.9,269.1 L191.3,268.6 L191.6,268.0 L191.9,267.5 L192.2,266.9 L192.5,266.4 L192.8,265.9 L193.1,265.3 L193.4,264.8 L193.8,264.2 L194.1,263.7 L194.4,263.1 L194.7,262.6 L195.1,262.1 L195.4,261.5 L195.7,261.0 L196.1,260.4 L196.4,259.9 L196.8,259.4 L197.1,258.8 L197.4,258.3 L197.8,257.7 L198.1,257.2 L198.5,256.6 L198.9,256.1 L199.2,255.6 L199.6,255.0 L199.9,254.5 L200.3,253.9 L200.7,253.4 L201.0,252.8 L201.4,252.3 L201.8,251.8 L202.2,251.2 L202.5,250.7 L202.9,250.1 L203.3,249.6 L203.7,249.0 L204.1,248.5 L204.5,248.0 L204.9,247.4 L205.3,246.9 L205.7,246.3 L206.1,245.8 L206.5,245.3 L206.9,244.7 L207.3,244.2 L207.8,243.6 L208.2,243.1 L208.6,242.5 L209.0,242.0 L209.5,241.5 L209.9,240.9 L210.3,240.4 L210.8,239.8 L211.2,239.3 L211.7,238.7 L212.1,238.2 L212.6,237.7 L213.0,237.1 L213.5,236.6 L213.9,236.0 L214.4,235.5 L214.9,234.9 L215.4,234.4 L215.8,233.9 L216.3,233.3 L216.8,232.8 L217.3,232.2 L217.8,231.7 L218.3,231.2 L218.8,230.6 L219.3,230.1 L219.8,229.5 L220.3,229.0 L220.8,228.4 L221.4,227.9 L221.9,227.4 L222.4,226.8 L223.0,226.3 L223.5,225.7 L224.0,225.2 L224.6,224.6 L225.1,224.1 L225.7,223.6 L226.3,223.0 L226.8,222.5 L227.4,221.9 L228.0,221.4 L228.6,220.9 L229.2,220.3 L229.7,219.8 L230.3,219.2 L230.9,218.7 L231.6,218.1 L232.2,217.6 L232.8,217.1 L233.4,216.5 L234.0,216.0 L234.7,215.4 L235.3,214.9 L236.0,214.3 L236.6,213.8 L237.3,213.3 L237.9,212.7 L238.6,212.2 L239.3,211.6 L240.0,211.1 L240.7,210.5 L241.3,210.0 L242.0,209.5 L242.8,208.9 L243.5,208.4 L244.2,207.8 L244.9,207.3 L245.7,206.8 L246.4,206.2 L247.2,205.7 L247.9,205.1 L248.7,204.6 L249.4,204.0 L250.2,203.5 L251.0,203.0 L251.8,202.4 L252.6,201.9 L253.4,201.3 L254.2,200.8 L255.1,200.2 L255.9,199.7 L256.8,199.2 L257.6,198.6 L258.5,198.1 L259.3,197.5 L260.2,197.0 L261.1,196.4 L262.0,195.9 L262.9,195.4 L263.8,194.8 L264.8,194.3 L265.7,193.7 L266.6,193.2 L267.6,192.7 L268.6,192.1 L269.6,191.6 L270.5,191.0 L271.5,190.5 L272.6,189.9 L273.6,189.4 L274.6,188.9 L275.7,188.3 L276.7,187.8 L277.8,187.2 L278.9,186.7 L280.0,186.1 L281.1,185.6 L282.2,185.1 L283.3,184.5 L284.5,184.0 L285.6,183.4 L286.8,182.9 L288.0,182.4 L289.2,181.8 L290.4,181.3 L291.7,180.7 L292.9,180.2 L294.2,179.6 L295.5,179.1 L296.8,178.6 L298.1,178.0 L299.4,177.5 L300.8,176.9 L302.1,176.4 L303.5,175.8 L304.9,175.3 L306.3,174.8 L307.8,174.2 L309.2,173.7 L310.7,173.1 L312.2,172.6 L313.7,172.0 L315.3,171.5 L316.8,171.0 L318.4,170.4 L320.0,169.9 L321.7,169.3 L323.3,168.8 L325.0,168.3 L326.7,167.7 L328.4,167.2 L330.2,166.6 L331.9,166.1 L333.8,165.5 L335.6,165.0 L337.4,164.5 L339.3,163.9 L341.2,163.4 L343.2,162.8 L345.2,162.3 L347.2,161.7 L349.2,161.2 L351.3,160.7 L353.4,160.1 L355.5,159.6 L357.7,159.0 L359.9,158.5 L362.2,157.9 L364.5,157.4 L366.8,156.9 L369.2,156.3 L371.6,155.8 L374.0,155.2 L376.5,154.7 L379.0,154.2 L381.6,153.6 L384.3,153.1 L386.9,152.5 L389.7,152.0 L392.5,151.4 L395.3,150.9 L398.2,150.4 L401.1,149.8 L404.1,149.3 L407.2,148.7 L410.3,148.2 L413.5,147.6 L416.7,147.1 L420.0,146.6 L423.4,146.0 L426.9,145.5 L430.4,144.9 L434.0,144.4 L437.7,143.8 L441.5,143.3 L445.3,142.8 L449.2,142.2 L453.3,141.7 L457.4,141.1 L461.6,140.6 L465.9,140.1 L470.3,139.5 L474.9,139.0 L479.5,138.4 L484.3,137.9 L489.1,137.3 L494.1,136.8 L499.3,136.3 L504.5,135.7 L509.9,135.2 L515.5,134.6 L521.2,134.1 L527.0,133.5 L533.1,133.0 L539.3,132.5 L545.7,131.9 L552.3,131.4 L559.0,130.8 L566.0,130.3 L573.2,129.8 L580.7,129.2 L588.3,128.7 L596.3,128.1 L604.5,127.6 L613.0,127.0 L621.7,126.5 L630.8,126.0 L640.3,125.4 L650.0,124.9 L660.2,124.3 L670.7,123.8 L681.7,123.2 L693.1,122.7 L705.0,122.2 L717.4,121.6 L730.3,121.1 L743.8,120.5 L758.0,120.0" stroke="#2f5f96" stroke-width="1.8" fill="none"/>
<path d="M147.0,429.7 L147.0,429.6 L147.0,429.5 L147.1,429.5 L147.1,429.4 L147.1,429.3 L147.1,429.2 L147.1,429.1 L147.1,429.0 L147.2,428.9 L147.2,428.9 L147.2,428.8 L147.2,428.7 L147.2,428.6 L147.2,428.5 L147.3,428.4 L147.3,428.3 L147.3,428.3 L147.3,428.2 L147.3,428.1 L147.3,428.0 L147.4,427.9 L147.4,427.8 L147.4,427.7 L147.4,427.7 L147.4,427.6 L147.4,427.5 L147.5,427.4 L147.5,427.3 L147.5,427.2 L147.5,427.1 L147.5,427.1 L147.5,427.0 L147.6,426.9 L147.6,426.8 L147.6,426.7 L147.6,426.6 L147.6,426.5 L147.6,426.5 L147.7,426.4 L147.7,426.4 L147.8,425.8 L147.9,425.3 L148.0,424.7 L148.1,424.2 L148.2,423.7 L148.3,423.1 L148.4,422.6 L148.5,422.0 L148.6,421.5 L148.7,420.9 L148.8,420.4 L149.0,419.9 L149.1,419.3 L149.2,418.8 L149.3,418.2 L149.4,417.7 L149.5,417.1 L149.6,416.6 L149.8,416.1 L149.9,415.5 L150.0,415.0 L150.1,414.4 L150.2,413.9 L150.3,413.4 L150.5,412.8 L150.6,412.3 L150.7,411.7 L150.8,411.2 L150.9,410.6 L151.1,410.1 L151.2,409.6 L151.3,409.0 L151.4,408.5 L151.5,407.9 L151.7,407.4 L151.8,406.8 L151.9,406.3 L152.0,405.8 L152.2,405.2 L152.3,404.7 L152.4,404.1 L152.5,403.6 L152.7,403.1 L152.8,402.5 L152.9,402.0 L153.1,401.4 L153.2,400.9 L153.3,400.3 L153.5,399.8 L153.6,399.3 L153.7,398.7 L153.9,398.2 L154.0,397.6 L154.1,397.1 L154.3,396.5 L154.4,396.0 L154.5,395.5 L154.7,394.9 L154.8,394.4 L154.9,393.8 L155.1,393.3 L155.2,392.7 L155.4,392.2 L155.5,391.7 L155.6,391.1 L155.8,390.6 L155.9,390.0 L156.1,389.5 L156.2,389.0 L156.4,388.4 L156.5,387.9 L156.6,387.3 L156.8,386.8 L156.9,386.2 L157.1,385.7 L157.2,385.2 L157.4,384.6 L157.5,384.1 L157.7,383.5 L157.8,383.0 L158.0,382.4 L158.1,381.9 L158.3,381.4 L158.4,380.8 L158.6,380.3 L158.7,379.7 L158.9,379.2 L159.1,378.6 L159.2,378.1 L159.4,377.6 L159.5,377.0 L159.7,376.5 L159.8,375.9 L160.0,375.4 L160.2,374.9 L160.3,374.3 L160.5,373.8 L160.7,373.2 L160.8,372.7 L161.0,372.1 L161.2,371.6 L161.3,371.1 L161.5,370.5 L161.7,370.0 L161.8,369.4 L162.0,368.9 L162.2,368.3 L162.3,367.8 L162.5,367.3 L162.7,366.7 L162.8,366.2 L163.0,365.6 L163.2,365.1 L163.4,364.6 L163.5,364.0 L163.7,363.5 L163.9,362.9 L164.1,362.4 L164.3,361.8 L164.4,361.3 L164.6,360.8 L164.8,360.2 L165.0,359.7 L165.2,359.1 L165.4,358.6 L165.5,358.0 L165.7,357.5 L165.9,357.0 L166.1,356.4 L166.3,355.9 L166.5,355.3 L166.7,354.8 L166.9,354.2 L167.0,353.7 L167.2,353.2 L167.4,352.6 L167.6,352.1 L167.8,351.5 L168.0,351.0 L168.2,350.5 L168.4,349.9 L168.6,349.4 L168.8,348.8 L169.0,348.3 L169.2,347.7 L169.4,347.2 L169.6,346.7 L169.8,346.1 L170.0,345.6 L170.2,345.0 L170.5,344.5 L170.7,343.9 L170.9,343.4 L171.1,342.9 L171.3,342.3 L171.5,341.8 L171.7,341.2 L171.9,340.7 L172.1,340.1 L172.4,339.6 L172.6,339.1 L172.8,338.5 L173.0,338.0 L173.2,337.4 L173.5,336.9 L173.7,336.4 L173.9,335.8 L174.1,335.3 L174.4,334.7 L174.6,334.2 L174.8,333.6 L175.0,333.1 L175.3,332.6 L175.5,332.0 L175.7,331.5 L176.0,330.9 L176.2,330.4 L176.4,329.8 L176.7,329.3 L176.9,328.8 L177.2,328.2 L177.4,327.7 L177.6,327.1 L177.9,326.6 L178.1,326.0 L178.4,325.5 L178.6,325.0 L178.9,324.4 L179.1,323.9 L179.4,323.3 L179.6,322.8 L179.9,322.3 L180.1,321.7 L180.4,321.2 L180.6,320.6 L180.9,320.1 L181.1,319.5 L181.4,319.0 L181.7,318.5 L181.9,317.9 L182.2,317.4 L182.5,316.8 L182.7,316.3 L183.0,315.7 L183.3,315.2 L183.5,314.7 L183.8,314.1 L184.1,313.6 L184.4,313.0 L184.6,312.5 L184.9,312.0 L185.2,311.4 L185.5,310.9 L185.7,310.3 L186.0,309.8 L186.3,309.2 L186.6,308.7 L186.9,308.2 L187.2,307.6 L187.5,307.1 L187.8,306.5 L188.1,306.0 L188.3,305.4 L188.6,304.9 L188.9,304.4 L189.2,303.8 L189.5,303.3 L189.8,302.7 L190.1,302.2 L190.5,301.6 L190.8,301.1 L191.1,300.6 L191.4,300.0 L191.7,299.5 L192.0,298.9 L192.3,298.4 L192.6,297.9 L193.0,297.3 L193.3,296.8 L193.6,296.2 L193.9,295.7 L194.3,295.1 L194.6,294.6 L194.9,294.1 L195.2,293.5 L195.6,293.0 L195.9,292.4 L196.2,291.9 L196.6,291.3 L196.9,290.8 L197.3,290.3 L197.6,289.7 L198.0,289.2 L198.3,288.6 L198.6,288.1 L199.0,287.5 L199.4,287.0 L199.7,286.5 L200.1,285.9 L200.4,285.4 L200.8,284.8 L201.2,284.3 L201.5,283.8 L201.9,283.2 L202.3,282.7 L202.6,282.1 L203.0,281.6 L203.4,281.0 L203.8,280.5 L204.1,280.0 L204.5,279.4 L204.9,278.9 L205.3,278.3 L205.7,277.8 L206.1,277.2 L206.5,276.7 L206.9,276.2 L207.3,275.6 L207.7,275.1 L208.1,274.5 L208.5,274.0 L208.9,273.5 L209.3,272.9 L209.7,272.4 L210.1,271.8 L210.5,271.3 L210.9,270.7 L211.4,270.2 L211.8,269.7 L212.2,269.1 L212.6,268.6 L213.1,268.0 L213.5,267.5 L213.9,266.9 L214.4,266.4 L214.8,265.9 L215.3,265.3 L215.7,264.8 L216.2,264.2 L216.6,263.7 L217.1,263.1 L217.5,262.6 L218.0,262.1 L218.5,261.5 L218.9,261.0 L219.4,260.4 L219.9,259.9 L220.4,259.4 L220.8,258.8 L221.3,258.3 L221.8,257.7 L222.3,257.2 L222.8,256.6 L223.3,256.1 L223.8,255.6 L224.3,255.0 L224.8,254.5 L225.3,253.9 L225.8,253.4 L226.3,252.8 L226.8,252.3 L227.4,251.8 L227.9,251.2 L228.4,250.7 L228.9,250.1 L229.5,249.6 L230.0,249.0 L230.6,248.5 L231.1,248.0 L231.6,247.4 L232.2,246.9 L232.8,246.3 L233.3,245.8 L233.9,245.3 L234.4,244.7 L235.0,244.2 L235.6,243.6 L236.2,243.1 L236.8,242.5 L237.3,242.0 L237.9,241.5 L238.5,240.9 L239.1,240.4 L239.7,239.8 L240.3,239.3 L241.0,238.7 L241.6,238.2 L242.2,237.7 L242.8,237.1 L243.5,236.6 L244.1,236.0 L244.7,235.5 L245.4,234.9 L246.0,234.4 L246.7,233.9 L247.3,233.3 L248.0,232.8 L248.7,232.2 L249.3,231.7 L250.0,231.2 L250.7,230.6 L251.4,230.1 L252.1,229.5 L252.8,229.0 L253.5,228.4 L254.2,227.9 L254.9,227.4 L255.6,226.8 L256.3,226.3 L257.1,225.7 L257.8,225.2 L258.6,224.6 L259.3,224.1 L260.1,223.6 L260.8,223.0 L261.6,222.5 L262.4,221.9 L263.1,221.4 L263.9,220.9 L264.7,220.3 L265.5,219.8 L266.3,219.2 L267.1,218.7 L267.9,218.1 L268.7,217.6 L269.6,217.1 L270.4,216.5 L271.3,216.0 L272.1,215.4 L273.0,214.9 L273.8,214.3 L274.7,213.8 L275.6,213.3 L276.5,212.7 L277.4,212.2 L278.3,211.6 L279.2,211.1 L280.1,210.5 L281.0,210.0 L281.9,209.5 L282.9,208.9 L283.8,208.4 L284.8,207.8 L285.7,207.3 L286.7,206.8 L287.7,206.2 L288.7,205.7 L289.7,205.1 L290.7,204.6 L291.7,204.0 L292.8,203.5 L293.8,203.0 L294.8,202.4 L295.9,201.9 L297.0,201.3 L298.0,200.8 L299.1,200.2 L300.2,199.7 L301.3,199.2 L302.4,198.6 L303.6,198.1 L304.7,197.5 L305.9,197.0 L307.0,196.4 L308.2,195.9 L309.4,195.4 L310.6,194.8 L311.8,194.3 L313.0,193.7 L314.2,193.2 L315.5,192.7 L316.7,192.1 L318.0,191.6 L319.3,191.0 L320.6,190.5 L321.9,189.9 L323.2,189.4 L324.5,188.9 L325.9,188.3 L327.3,187.8 L328.6,187.2 L330.0,186.7 L331.4,186.1 L332.9,185.6 L334.3,185.1 L335.8,184.5 L337.2,184.0 L338.7,183.4 L340.2,182.9 L341.7,182.4 L343.3,181.8 L344.8,181.3 L346.4,180.7 L348.0,180.2 L349.6,179.6 L351.2,179.1 L352.9,178.6 L354.6,178.0 L356.2,177.5 L357.9,176.9 L359.7,176.4 L361.4,175.8 L363.2,175.3 L365.0,174.8 L366.8,174.2 L368.6,173.7 L370.5,173.1 L372.4,172.6 L374.3,172.0 L376.2,171.5 L378.2,171.0 L380.1,170.4 L382.2,169.9 L384.2,169.3 L386.2,168.8 L388.3,168.3 L390.4,167.7 L392.6,167.2 L394.8,166.6 L397.0,166.1 L399.2,165.5 L401.5,165.0 L403.8,164.5 L406.1,163.9 L408.4,163.4 L410.8,162.8 L413.3,162.3 L415.7,161.7 L418.2,161.2 L420.8,160.7 L423.4,160.1 L426.0,159.6 L428.6,159.0 L431.3,158.5 L434.1,157.9 L436.9,157.4 L439.7,156.9 L442.6,156.3 L445.5,155.8 L448.4,155.2 L451.5,154.7 L454.5,154.2 L457.6,153.6 L460.8,153.1 L464.0,152.5 L467.3,152.0 L470.6,151.4 L474.0,150.9 L477.5,150.4 L481.0,149.8 L484.6,149.3 L488.2,148.7 L491.9,148.2 L495.7,147.6 L499.6,147.1 L503.5,146.6 L507.5,146.0 L511.6,145.5 L515.7,144.9 L520.0,144.4 L524.3,143.8 L528.7,143.3 L533.2,142.8 L537.8,142.2 L542.5,141.7 L547.3,141.1 L552.2,140.6 L557.3,140.1 L562.4,139.5 L567.6,139.0 L573.0,138.4 L578.5,137.9 L584.1,137.3 L589.8,136.8 L595.7,136.3 L601.8,135.7 L608.0,135.2 L614.3,134.6 L620.8,134.1 L627.5,133.5 L634.4,133.0 L641.4,132.5 L648.6,131.9 L656.1,131.4 L663.7,130.8 L671.6,130.3 L679.7,129.8 L688.0,129.2 L696.7,128.7 L705.5,128.1 L714.7,127.6 L724.1,127.0 L733.9,126.5 L744.0,126.0 L754.4,125.4" stroke="#000" stroke-width="2.2" fill="none"/>
</g>
<line x1="147.00" y1="100.90" x2="742.50" y2="100.90" stroke="#000" stroke-width="2" stroke-dasharray="8 7" stroke-dashoffset="2.5"/>
<line x1="147.00" y1="429.70" x2="742.50" y2="429.70" stroke="#000" stroke-width="2" stroke-dasharray="8 7" stroke-dashoffset="2.5"/>
<rect x="147.00" y="76.00" width="595.50" height="397.50" fill="none" stroke="#000" stroke-width="2.2"/>
<text x="147.00" y="510.50" text-anchor="middle" fill="#000"><tspan style='font-size:35.0px'>0</tspan></text>
<line x1="266.10" y1="473.50" x2="266.10" y2="465.50" stroke="#000" stroke-width="2"/>
<text x="266.10" y="510.50" text-anchor="middle" fill="#000"><tspan style='font-size:35.0px'>2</tspan></text>
<line x1="385.20" y1="473.50" x2="385.20" y2="465.50" stroke="#000" stroke-width="2"/>
<text x="385.20" y="510.50" text-anchor="middle" fill="#000"><tspan style='font-size:35.0px'>4</tspan></text>
<line x1="504.30" y1="473.50" x2="504.30" y2="465.50" stroke="#000" stroke-width="2"/>
<text x="504.30" y="510.50" text-anchor="middle" fill="#000"><tspan style='font-size:35.0px'>6</tspan></text>
<line x1="623.40" y1="473.50" x2="623.40" y2="465.50" stroke="#000" stroke-width="2"/>
<text x="623.40" y="510.50" text-anchor="middle" fill="#000"><tspan style='font-size:35.0px'>8</tspan></text>
<text x="742.50" y="510.50" text-anchor="middle" fill="#000"><tspan style='font-size:35.0px'>10</tspan></text>
<text x="136.60" y="484.50" text-anchor="end" fill="#000"><tspan style='font-size:35.0px'>1,300</tspan></text>
<line x1="147.00" y1="359.93" x2="155.00" y2="359.93" stroke="#000" stroke-width="2"/>
<text x="136.60" y="370.93" text-anchor="end" fill="#000"><tspan style='font-size:35.0px'>1,400</tspan></text>
<line x1="147.00" y1="246.36" x2="155.00" y2="246.36" stroke="#000" stroke-width="2"/>
<text x="136.60" y="257.36" text-anchor="end" fill="#000"><tspan style='font-size:35.0px'>1,500</tspan></text>
<line x1="147.00" y1="132.79" x2="155.00" y2="132.79" stroke="#000" stroke-width="2"/>
<text x="136.60" y="143.79" text-anchor="end" fill="#000"><tspan style='font-size:35.0px'>1,600</tspan></text>
<text x="16.00" y="28.00" text-anchor="start" fill="#000"><tspan style='font-weight:bold;font-size:42.0px'>a</tspan></text>
<text x="444.75" y="552.80" text-anchor="middle" fill="#000"><tspan style='font-style:italic;font-size:35.0px'>q</tspan><tspan style='font-size:35.0px'> (10</tspan><tspan dy="-14.70" style='font-size:23.1px'>5</tspan><tspan dy="14.70" style='font-size:35.0px'> cm</tspan><tspan dy="-14.70" style='font-size:23.1px'>−1</tspan><tspan dy="14.70" style='font-size:35.0px'>)</tspan></text>
<text x="36.30" y="274.75" text-anchor="middle" fill="#000" transform="rotate(-90 36.30 274.75)"><tspan style='font-family:"Liberation Serif", "Times New Roman", serif;font-style:italic;font-size:35.0px'>ω</tspan><tspan style='font-size:35.0px'> (cm</tspan><tspan dy="-14.70" style='font-size:23.1px'>−1</tspan><tspan dy="14.70" style='font-size:35.0px'>)</tspan></text>
<text x="161.00" y="93.60" text-anchor="start" fill="#000"><tspan style='font-family:"Liberation Serif", "Times New Roman", serif;font-style:italic;font-size:31.0px'>ω</tspan><tspan dy="6.20" style='font-size:19.5px'>LO</tspan></text>
<text x="161.00" y="456.30" text-anchor="start" fill="#000"><tspan style='font-family:"Liberation Serif", "Times New Roman", serif;font-style:italic;font-size:31.0px'>ω</tspan><tspan dy="6.20" style='font-size:19.5px'>TO</tspan></text>
<text x="161.50" y="137.40" text-anchor="start" fill="#000"><tspan style='font-style:italic;font-size:30.6px'>d</tspan><tspan dy="6.95" style='font-size:20.2px'>hBN</tspan><tspan dy="-6.95" style='font-size:30.6px'> = 50 nm</tspan></text>
<line x1="172.50" y1="364.80" x2="196.50" y2="364.80" stroke="#3b6ea5" stroke-width="2"/>
<text x="207.50" y="374.90" text-anchor="start" fill="#3b6ea5"><tspan style='font-size:30.6px'>Air/hBN/SiO</tspan><tspan dy="6.95" style='font-size:20.2px'>2</tspan></text>
<line x1="172.50" y1="397.00" x2="196.50" y2="397.00" stroke="#000" stroke-width="2"/>
<text x="207.30" y="407.80" text-anchor="start" fill="#000"><tspan style='font-size:30.6px'>PMMA/hBN/SiO</tspan><tspan dy="6.95" style='font-size:20.2px'>2</tspan></text>
<rect x="478.50" y="188.50" width="251.00" height="104.90" fill="none" stroke="#000" stroke-width="2"/>
<line x1="478.50" y1="240.60" x2="729.50" y2="240.60" stroke="#000" stroke-width="1.7"/>
<line x1="478.50" y1="245.10" x2="729.50" y2="245.10" stroke="#000" stroke-width="1.7"/>
<rect x="478.50" y="311.90" width="251.00" height="104.90" fill="none" stroke="#000" stroke-width="2"/>
<line x1="478.50" y1="362.30" x2="729.50" y2="362.30" stroke="#000" stroke-width="1.7"/>
<line x1="478.50" y1="366.80" x2="729.50" y2="366.80" stroke="#000" stroke-width="1.7"/>
<text x="720.60" y="215.30" text-anchor="end" fill="#000"><tspan style='font-size:30.6px'>Air</tspan></text>
<text x="721.50" y="282.10" text-anchor="end" fill="#000"><tspan style='font-size:30.6px'>SiO</tspan><tspan dy="6.95" style='font-size:20.2px'>2</tspan></text>
<text x="469.60" y="254.30" text-anchor="end" fill="#000"><tspan style='font-size:30.6px'>hBN</tspan></text>
<text x="720.30" y="341.70" text-anchor="end" fill="#000"><tspan style='font-size:30.6px'>PMMA</tspan></text>
<text x="469.60" y="379.10" text-anchor="end" fill="#000"><tspan style='font-size:30.6px'>hBN</tspan></text>
<text x="502.00" y="398.90" text-anchor="start" fill="#000"><tspan style='font-size:30.0px'>1 μm</tspan></text>
<line x1="484.30" y1="410.60" x2="583.70" y2="410.60" stroke="#000" stroke-width="3.8"/>
<text x="721.50" y="407.50" text-anchor="end" fill="#000"><tspan style='font-size:30.6px'>SiO</tspan><tspan dy="6.95" style='font-size:20.2px'>2</tspan></text>
<path d="M148.5,1020.9 L148.8,1019.6 L149.1,1018.3 L149.4,1017.0 L149.7,1015.7 L150.0,1014.4 L150.3,1013.1 L150.6,1011.8 L150.9,1010.5 L151.2,1009.2 L151.5,1007.9 L151.8,1006.6 L152.1,1005.3 L152.4,1004.0 L152.7,1002.7 L153.0,1001.4 L153.3,1000.1 L153.6,998.8 L153.9,997.5 L154.2,996.2 L154.5,994.9 L154.8,993.6 L155.1,992.3 L155.4,991.0 L155.7,989.7 L156.0,988.4 L156.3,987.1 L156.6,985.8 L156.9,984.4 L157.2,983.1 L157.5,981.8 L157.8,980.5 L158.1,979.2 L158.5,977.9 L158.8,976.6 L159.1,975.3 L159.4,974.0 L159.7,972.7 L160.0,971.4 L160.3,970.1 L160.6,968.8 L160.9,967.5 L161.2,966.2 L161.5,964.9 L161.8,963.6 L162.1,962.4 L162.4,961.1 L162.7,959.8 L163.0,958.5 L163.3,957.2 L163.6,955.9 L163.9,954.6 L164.2,953.3 L164.5,952.1 L164.8,950.8 L165.1,949.5 L165.4,948.2 L165.7,947.0 L166.0,945.7 L166.3,944.4 L166.6,943.2 L166.9,941.9 L167.2,940.6 L167.5,939.4 L167.8,938.1 L168.1,936.9 L168.4,935.6 L168.7,934.4 L169.0,933.1 L169.3,931.9 L169.6,930.6 L169.9,929.4 L170.2,928.2 L170.5,926.9 L170.8,925.7 L171.1,924.5 L171.4,923.2 L171.7,922.0 L172.0,920.8 L172.3,919.6 L172.3,919.6 L173.8,913.9 L175.2,908.2 L176.6,902.6 L178.1,897.2 L179.5,891.8 L180.9,886.5 L182.3,881.3 L183.8,876.2 L185.2,871.2 L186.6,866.4 L188.1,861.6 L189.5,857.0 L190.9,852.4 L192.4,848.0 L193.8,843.7 L195.2,839.5 L196.7,835.4 L198.1,831.5 L199.5,827.6 L201.0,823.9 L202.4,820.3 L203.8,816.8 L205.3,813.4 L206.7,810.1 L208.1,806.9 L209.6,803.8 L211.0,800.8 L212.4,798.0 L213.9,795.2 L215.3,792.5 L216.7,789.9 L218.2,787.4 L219.6,785.0 L221.0,782.6 L222.5,780.4 L223.9,778.2 L225.3,776.1 L226.8,774.1 L228.2,772.1 L229.6,770.3 L231.1,768.5 L232.5,766.7 L233.9,765.0 L235.4,763.4 L236.8,761.9 L238.2,760.4 L239.7,758.9 L241.1,757.6 L242.5,756.2 L244.0,754.9 L245.4,753.7 L246.8,752.5 L248.3,751.4 L249.7,750.3 L251.1,749.2 L252.6,748.2 L254.0,747.2 L255.4,746.3 L256.9,745.3 L258.3,744.5 L259.7,743.6 L261.2,742.8 L262.6,742.0 L264.0,741.3 L265.5,740.6 L266.9,739.9 L268.3,739.2 L269.7,738.5 L271.2,737.9 L272.6,737.3 L274.0,736.8 L275.5,736.2 L276.9,735.7 L278.3,735.2 L279.8,734.7 L281.2,734.2 L282.6,733.7 L284.1,733.3 L285.5,732.9 L286.9,732.5 L288.4,732.1 L289.8,731.7 L291.2,731.3 L292.7,731.0 L294.1,730.6 L295.5,730.3 L297.0,730.0 L298.4,729.7 L299.8,729.4 L301.3,729.1 L302.7,728.9 L304.1,728.6 L305.6,728.4 L307.0,728.1 L308.4,727.9 L309.9,727.7 L311.3,727.5 L312.7,727.3 L314.2,727.1 L315.6,726.9 L317.0,726.7 L318.5,726.5 L319.9,726.3 L321.3,726.2 L322.8,726.0 L324.2,725.9 L325.6,725.7 L327.1,725.6 L328.5,725.4 L329.9,725.3 L331.4,725.2 L332.8,725.1 L334.2,724.9 L335.7,724.8 L337.1,724.7 L338.5,724.6 L340.0,724.5 L341.4,724.4 L342.8,724.3 L344.3,724.2 L345.7,724.1 L347.1,724.1 L348.6,724.0 L350.0,723.9 L351.4,723.8 L352.9,723.8 L354.3,723.7 L355.7,723.6 L357.1,723.6 L358.6,723.5 L360.0,723.4 L361.4,723.4 L362.9,723.3 L364.3,723.3 L365.7,723.2 L367.2,723.2 L368.6,723.1 L370.0,723.1 L371.5,723.0 L372.9,723.0 L374.3,722.9 L375.8,722.9 L377.2,722.9 L378.6,722.8 L380.1,722.8 L381.5,722.8 L382.9,722.7 L384.4,722.7 L385.8,722.7 L387.2,722.6 L388.7,722.6 L390.1,722.6 L391.5,722.6 L393.0,722.5 L394.4,722.5 L395.8,722.5 L397.3,722.5 L398.7,722.4 L400.1,722.4 L401.6,722.4 L403.0,722.4 L404.4,722.4 L405.9,722.3 L407.3,722.3 L408.7,722.3 L410.2,722.3 L411.6,722.3 L413.0,722.3 L414.5,722.2 L415.9,722.2 L417.3,722.2 L418.8,722.2 L420.2,722.2 L421.6,722.2 L423.1,722.2 L424.5,722.1 L425.9,722.1 L427.4,722.1 L428.8,722.1 L430.2,722.1 L431.7,722.1 L433.1,722.1 L434.5,722.1 L436.0,722.1 L437.4,722.1 L438.8,722.1 L440.3,722.0 L441.7,722.0 L443.1,722.0 L444.5,722.0 L446.0,722.0 L447.4,722.0 L448.8,722.0 L450.3,722.0 L451.7,722.0 L453.1,722.0 L454.6,722.0 L456.0,722.0 L457.4,722.0 L458.9,722.0 L460.3,722.0 L461.7,722.0 L463.2,722.0 L464.6,722.0 L466.0,722.0 L467.5,721.9 L468.9,721.9 L470.3,721.9 L471.8,721.9 L473.2,721.9 L474.6,721.9 L476.1,721.9 L477.5,721.9 L478.9,721.9 L480.4,721.9 L481.8,721.9 L483.2,721.9 L484.7,721.9 L486.1,721.9 L487.5,721.9 L489.0,721.9 L490.4,721.9 L491.8,721.9 L493.3,721.9 L494.7,721.9 L496.1,721.9 L497.6,721.9 L499.0,721.9 L500.4,721.9 L501.9,721.9 L503.3,721.9 L504.7,721.9 L506.2,721.9 L507.6,721.9 L509.0,721.9 L510.5,721.9 L511.9,721.9 L513.3,721.9 L514.8,721.9 L516.2,721.9 L517.6,721.9 L519.1,721.9 L520.5,721.9 L521.9,721.9 L523.4,721.9 L524.8,721.9 L526.2,721.9 L527.6,721.9 L529.1,721.9 L530.5,721.9 L531.9,721.9 L533.4,721.9 L534.8,721.9 L536.2,721.9 L537.7,721.9 L539.1,721.9 L540.5,721.9 L542.0,721.9 L543.4,721.9 L544.8,721.9 L546.3,721.9 L547.7,721.9 L549.1,721.9 L550.6,721.9 L552.0,721.9 L553.4,721.9 L554.9,721.9 L556.3,721.9 L557.7,721.9 L559.2,721.9 L560.6,721.9 L562.0,721.9 L563.5,721.9 L564.9,721.9 L566.3,721.9 L567.8,721.9 L569.2,721.9 L570.6,721.9 L572.1,721.9 L573.5,721.9 L574.9,721.9 L576.4,721.9 L577.8,721.9 L579.2,721.9 L580.7,721.9 L582.1,721.9 L583.5,721.9 L585.0,721.9 L586.4,721.9 L587.8,721.9 L589.3,721.9 L590.7,721.9 L592.1,721.9 L593.6,721.9 L595.0,721.9 L596.4,721.9 L597.9,721.9 L599.3,721.9 L600.7,721.9 L602.2,721.8 L603.6,721.8 L605.0,721.8 L606.5,721.8 L607.9,721.8 L609.3,721.8 L610.8,721.8 L612.2,721.8 L613.6,721.8 L615.0,721.8 L616.5,721.8 L617.9,721.8 L619.3,721.8 L620.8,721.8 L622.2,721.8 L623.6,721.8 L625.1,721.8 L626.5,721.8 L627.9,721.8 L629.4,721.8 L630.8,721.8 L632.2,721.8 L633.7,721.8 L635.1,721.8 L636.5,721.8 L638.0,721.8 L639.4,721.8 L640.8,721.8 L642.3,721.8 L643.7,721.8 L645.1,721.8 L646.6,721.8 L648.0,721.8 L649.4,721.8 L650.9,721.8 L652.3,721.8 L653.7,721.8 L655.2,721.8 L656.6,721.8 L658.0,721.8 L659.5,721.8 L660.9,721.8 L662.3,721.8 L663.8,721.8 L665.2,721.8 L666.6,721.8 L668.1,721.8 L669.5,721.8 L670.9,721.8 L672.4,721.8 L673.8,721.8 L675.2,721.8 L676.7,721.8 L678.1,721.8 L679.5,721.8 L681.0,721.8 L682.4,721.8 L683.8,721.8 L685.3,721.8 L686.7,721.8 L688.1,721.8 L689.6,721.8 L691.0,721.8 L692.4,721.8 L693.9,721.8 L695.3,721.8 L696.7,721.8 L698.2,721.8 L699.6,721.8 L701.0,721.8 L702.4,721.8 L703.9,721.8 L705.3,721.8 L706.7,721.8 L708.2,721.8 L709.6,721.8 L711.0,721.8 L712.5,721.8 L713.9,721.8 L715.3,721.8 L716.8,721.8 L718.2,721.8 L719.6,721.8 L721.1,721.8 L722.5,721.8 L723.9,721.8 L725.4,721.8 L726.8,721.8 L728.2,721.8 L729.7,721.8 L731.1,721.8 L732.5,721.8 L734.0,721.8 L735.4,721.8 L736.8,721.8 L738.3,721.8 L739.7,721.8 L741.1,721.8 L742.6,721.8 L744.0,721.8" stroke="#000" stroke-width="2.2" fill="none"/>
<path d="M148.5,1074.0 L148.8,1072.7 L149.1,1071.3 L149.4,1070.0 L149.7,1068.7 L150.0,1067.3 L150.3,1066.0 L150.6,1064.7 L150.9,1063.3 L151.2,1062.0 L151.5,1060.6 L151.8,1059.3 L152.1,1057.9 L152.4,1056.6 L152.7,1055.3 L153.0,1053.9 L153.3,1052.6 L153.6,1051.2 L153.9,1049.9 L154.2,1048.5 L154.5,1047.2 L154.8,1045.9 L155.1,1044.5 L155.4,1043.2 L155.7,1041.8 L156.0,1040.5 L156.3,1039.1 L156.6,1037.8 L156.9,1036.4 L157.2,1035.1 L157.5,1033.8 L157.8,1032.4 L158.1,1031.1 L158.5,1029.7 L158.8,1028.4 L159.1,1027.0 L159.4,1025.7 L159.7,1024.4 L160.0,1023.0 L160.3,1021.7 L160.6,1020.4 L160.9,1019.0 L161.2,1017.7 L161.5,1016.4 L161.8,1015.0 L162.1,1013.7 L162.4,1012.4 L162.7,1011.0 L163.0,1009.7 L163.3,1008.4 L163.6,1007.1 L163.9,1005.7 L164.2,1004.4 L164.5,1003.1 L164.8,1001.8 L165.1,1000.5 L165.4,999.2 L165.7,997.8 L166.0,996.5 L166.3,995.2 L166.6,993.9 L166.9,992.6 L167.2,991.3 L167.5,990.0 L167.8,988.7 L168.1,987.4 L168.4,986.2 L168.7,984.9 L169.0,983.6 L169.3,982.3 L169.6,981.0 L169.9,979.8 L170.2,978.5 L170.5,977.2 L170.8,975.9 L171.1,974.7 L171.4,973.4 L171.7,972.2 L172.0,970.9 L172.3,969.7 L172.3,969.7 L173.8,963.8 L175.2,957.9 L176.6,952.2 L178.1,946.6 L179.5,941.0 L180.9,935.6 L182.3,930.2 L183.8,925.0 L185.2,919.9 L186.6,914.9 L188.1,910.0 L189.5,905.2 L190.9,900.5 L192.4,896.0 L193.8,891.5 L195.2,887.2 L196.7,883.0 L198.1,878.9 L199.5,875.0 L201.0,871.1 L202.4,867.4 L203.8,863.8 L205.3,860.3 L206.7,856.9 L208.1,853.6 L209.6,850.4 L211.0,847.4 L212.4,844.4 L213.9,841.5 L215.3,838.8 L216.7,836.1 L218.2,833.5 L219.6,831.0 L221.0,828.6 L222.5,826.3 L223.9,824.1 L225.3,821.9 L226.8,819.8 L228.2,817.8 L229.6,815.9 L231.1,814.0 L232.5,812.3 L233.9,810.5 L235.4,808.9 L236.8,807.3 L238.2,805.7 L239.7,804.2 L241.1,802.8 L242.5,801.4 L244.0,800.1 L245.4,798.8 L246.8,797.6 L248.3,796.4 L249.7,795.3 L251.1,794.2 L252.6,793.2 L254.0,792.1 L255.4,791.2 L256.9,790.2 L258.3,789.3 L259.7,788.5 L261.2,787.6 L262.6,786.8 L264.0,786.1 L265.5,785.3 L266.9,784.6 L268.3,783.9 L269.7,783.2 L271.2,782.6 L272.6,782.0 L274.0,781.4 L275.5,780.8 L276.9,780.3 L278.3,779.8 L279.8,779.2 L281.2,778.8 L282.6,778.3 L284.1,777.8 L285.5,777.4 L286.9,777.0 L288.4,776.6 L289.8,776.2 L291.2,775.8 L292.7,775.5 L294.1,775.1 L295.5,774.8 L297.0,774.5 L298.4,774.1 L299.8,773.8 L301.3,773.6 L302.7,773.3 L304.1,773.0 L305.6,772.8 L307.0,772.5 L308.4,772.3 L309.9,772.0 L311.3,771.8 L312.7,771.6 L314.2,771.4 L315.6,771.2 L317.0,771.0 L318.5,770.8 L319.9,770.7 L321.3,770.5 L322.8,770.3 L324.2,770.2 L325.6,770.0 L327.1,769.9 L328.5,769.7 L329.9,769.6 L331.4,769.5 L332.8,769.4 L334.2,769.2 L335.7,769.1 L337.1,769.0 L338.5,768.9 L340.0,768.8 L341.4,768.7 L342.8,768.6 L344.3,768.5 L345.7,768.4 L347.1,768.3 L348.6,768.2 L350.0,768.2 L351.4,768.1 L352.9,768.0 L354.3,767.9 L355.7,767.9 L357.1,767.8 L358.6,767.7 L360.0,767.7 L361.4,767.6 L362.9,767.6 L364.3,767.5 L365.7,767.5 L367.2,767.4 L368.6,767.4 L370.0,767.3 L371.5,767.3 L372.9,767.2 L374.3,767.2 L375.8,767.1 L377.2,767.1 L378.6,767.1 L380.1,767.0 L381.5,767.0 L382.9,767.0 L384.4,766.9 L385.8,766.9 L387.2,766.9 L388.7,766.8 L390.1,766.8 L391.5,766.8 L393.0,766.7 L394.4,766.7 L395.8,766.7 L397.3,766.7 L398.7,766.6 L400.1,766.6 L401.6,766.6 L403.0,766.6 L404.4,766.6 L405.9,766.5 L407.3,766.5 L408.7,766.5 L410.2,766.5 L411.6,766.5 L413.0,766.5 L414.5,766.4 L415.9,766.4 L417.3,766.4 L418.8,766.4 L420.2,766.4 L421.6,766.4 L423.1,766.4 L424.5,766.4 L425.9,766.3 L427.4,766.3 L428.8,766.3 L430.2,766.3 L431.7,766.3 L433.1,766.3 L434.5,766.3 L436.0,766.3 L437.4,766.3 L438.8,766.3 L440.3,766.3 L441.7,766.2 L443.1,766.2 L444.5,766.2 L446.0,766.2 L447.4,766.2 L448.8,766.2 L450.3,766.2 L451.7,766.2 L453.1,766.2 L454.6,766.2 L456.0,766.2 L457.4,766.2 L458.9,766.2 L460.3,766.2 L461.7,766.2 L463.2,766.2 L464.6,766.2 L466.0,766.2 L467.5,766.1 L468.9,766.1 L470.3,766.1 L471.8,766.1 L473.2,766.1 L474.6,766.1 L476.1,766.1 L477.5,766.1 L478.9,766.1 L480.4,766.1 L481.8,766.1 L483.2,766.1 L484.7,766.1 L486.1,766.1 L487.5,766.1 L489.0,766.1 L490.4,766.1 L491.8,766.1 L493.3,766.1 L494.7,766.1 L496.1,766.1 L497.6,766.1 L499.0,766.1 L500.4,766.1 L501.9,766.1 L503.3,766.1 L504.7,766.1 L506.2,766.1 L507.6,766.1 L509.0,766.1 L510.5,766.1 L511.9,766.1 L513.3,766.1 L514.8,766.1 L516.2,766.1 L517.6,766.1 L519.1,766.1 L520.5,766.1 L521.9,766.1 L523.4,766.1 L524.8,766.1 L526.2,766.1 L527.6,766.1 L529.1,766.1 L530.5,766.1 L531.9,766.1 L533.4,766.1 L534.8,766.1 L536.2,766.1 L537.7,766.1 L539.1,766.1 L540.5,766.1 L542.0,766.1 L543.4,766.1 L544.8,766.1 L546.3,766.1 L547.7,766.1 L549.1,766.1 L550.6,766.1 L552.0,766.1 L553.4,766.1 L554.9,766.1 L556.3,766.1 L557.7,766.1 L559.2,766.1 L560.6,766.1 L562.0,766.1 L563.5,766.1 L564.9,766.1 L566.3,766.1 L567.8,766.1 L569.2,766.1 L570.6,766.1 L572.1,766.1 L573.5,766.1 L574.9,766.1 L576.4,766.1 L577.8,766.1 L579.2,766.1 L580.7,766.1 L582.1,766.1 L583.5,766.1 L585.0,766.1 L586.4,766.0 L587.8,766.0 L589.3,766.0 L590.7,766.0 L592.1,766.0 L593.6,766.0 L595.0,766.0 L596.4,766.0 L597.9,766.0 L599.3,766.0 L600.7,766.0 L602.2,766.0 L603.6,766.0 L605.0,766.0 L606.5,766.0 L607.9,766.0 L609.3,766.0 L610.8,766.0 L612.2,766.0 L613.6,766.0 L615.0,766.0 L616.5,766.0 L617.9,766.0 L619.3,766.0 L620.8,766.0 L622.2,766.0 L623.6,766.0 L625.1,766.0 L626.5,766.0 L627.9,766.0 L629.4,766.0 L630.8,766.0 L632.2,766.0 L633.7,766.0 L635.1,766.0 L636.5,766.0 L638.0,766.0 L639.4,766.0 L640.8,766.0 L642.3,766.0 L643.7,766.0 L645.1,766.0 L646.6,766.0 L648.0,766.0 L649.4,766.0 L650.9,766.0 L652.3,766.0 L653.7,766.0 L655.2,766.0 L656.6,766.0 L658.0,766.0 L659.5,766.0 L660.9,766.0 L662.3,766.0 L663.8,766.0 L665.2,766.0 L666.6,766.0 L668.1,766.0 L669.5,766.0 L670.9,766.0 L672.4,766.0 L673.8,766.0 L675.2,766.0 L676.7,766.0 L678.1,766.0 L679.5,766.0 L681.0,766.0 L682.4,766.0 L683.8,766.0 L685.3,766.0 L686.7,766.0 L688.1,766.0 L689.6,766.0 L691.0,766.0 L692.4,766.0 L693.9,766.0 L695.3,766.0 L696.7,766.0 L698.2,766.0 L699.6,766.0 L701.0,766.0 L702.4,766.0 L703.9,766.0 L705.3,766.0 L706.7,766.0 L708.2,766.0 L709.6,766.0 L711.0,766.0 L712.5,766.0 L713.9,766.0 L715.3,766.0 L716.8,766.0 L718.2,766.0 L719.6,766.0 L721.1,766.0 L722.5,766.0 L723.9,766.0 L725.4,766.0 L726.8,766.0 L728.2,766.0 L729.7,766.0 L731.1,766.0 L732.5,766.0 L734.0,766.0 L735.4,766.0 L736.8,766.0 L738.3,766.0 L739.7,766.0 L741.1,766.0 L742.6,766.0 L744.0,766.0" stroke="#e3191c" stroke-width="2.2" fill="none"/>
<line x1="148.50" y1="677.00" x2="744.00" y2="677.00" stroke="#000" stroke-width="2.2"/>
<line x1="148.50" y1="1074.00" x2="744.00" y2="1074.00" stroke="#000" stroke-width="2.2"/>
<line x1="148.50" y1="675.90" x2="148.50" y2="1075.10" stroke="#000" stroke-width="2.2"/>
<line x1="744.00" y1="675.90" x2="744.00" y2="1075.10" stroke="#e3191c" stroke-width="2.2"/>
<text x="148.50" y="1111.70" text-anchor="middle" fill="#000"><tspan style='font-size:35.0px'>0</tspan></text>
<line x1="267.60" y1="1074.00" x2="267.60" y2="1066.00" stroke="#000" stroke-width="2"/>
<text x="267.60" y="1111.70" text-anchor="middle" fill="#000"><tspan style='font-size:35.0px'>100</tspan></text>
<line x1="386.70" y1="1074.00" x2="386.70" y2="1066.00" stroke="#000" stroke-width="2"/>
<text x="386.70" y="1111.70" text-anchor="middle" fill="#000"><tspan style='font-size:35.0px'>200</tspan></text>
<line x1="505.80" y1="1074.00" x2="505.80" y2="1066.00" stroke="#000" stroke-width="2"/>
<text x="505.80" y="1111.70" text-anchor="middle" fill="#000"><tspan style='font-size:35.0px'>300</tspan></text>
<line x1="624.90" y1="1074.00" x2="624.90" y2="1066.00" stroke="#000" stroke-width="2"/>
<text x="624.90" y="1111.70" text-anchor="middle" fill="#000"><tspan style='font-size:35.0px'>400</tspan></text>
<text x="744.00" y="1111.70" text-anchor="middle" fill="#000"><tspan style='font-size:35.0px'>500</tspan></text>
<text x="137.70" y="1084.50" text-anchor="end" fill="#000"><tspan style='font-size:35.0px'>0.9</tspan></text>
<line x1="148.50" y1="941.67" x2="156.50" y2="941.67" stroke="#000" stroke-width="2"/>
<text x="137.70" y="952.17" text-anchor="end" fill="#000"><tspan style='font-size:35.0px'>1.1</tspan></text>
<line x1="148.50" y1="809.33" x2="156.50" y2="809.33" stroke="#000" stroke-width="2"/>
<text x="137.70" y="819.83" text-anchor="end" fill="#000"><tspan style='font-size:35.0px'>1.3</tspan></text>
<text x="137.70" y="687.50" text-anchor="end" fill="#000"><tspan style='font-size:35.0px'>1.5</tspan></text>
<line x1="744.00" y1="1074.00" x2="736.00" y2="1074.00" stroke="#e3191c" stroke-width="2"/>
<text x="756.50" y="1084.00" text-anchor="start" fill="#e3191c"><tspan style='font-size:35.0px'>1.0</tspan></text>
<line x1="744.00" y1="941.67" x2="736.00" y2="941.67" stroke="#e3191c" stroke-width="2"/>
<text x="756.50" y="951.67" text-anchor="start" fill="#e3191c"><tspan style='font-size:35.0px'>1.2</tspan></text>
<line x1="744.00" y1="809.33" x2="736.00" y2="809.33" stroke="#e3191c" stroke-width="2"/>
<text x="756.50" y="819.33" text-anchor="start" fill="#e3191c"><tspan style='font-size:35.0px'>1.4</tspan></text>
<line x1="744.00" y1="677.00" x2="736.00" y2="677.00" stroke="#e3191c" stroke-width="2"/>
<text x="756.50" y="687.00" text-anchor="start" fill="#e3191c"><tspan style='font-size:35.0px'>1.6</tspan></text>
<text x="16.00" y="650.00" text-anchor="start" fill="#000"><tspan style='font-weight:bold;font-size:42.0px'>b</tspan></text>
<text x="446.25" y="1152.00" text-anchor="middle" fill="#000"><tspan style='font-style:italic;font-size:35.0px'>d</tspan><tspan dy="7.70" style='font-size:23.8px'>PMMA</tspan><tspan dy="-7.70" style='font-size:35.0px'> (nm)</tspan></text>
<text x="79.70" y="875.50" text-anchor="middle" fill="#000" transform="rotate(-90 79.70 875.50)"><tspan style='font-style:italic;font-size:35.0px'>q</tspan><tspan style='font-size:35.0px'> (10</tspan><tspan dy="-14.70" style='font-size:23.1px'>5</tspan><tspan dy="14.70" style='font-size:35.0px'> cm</tspan><tspan dy="-14.70" style='font-size:23.1px'>−1</tspan><tspan dy="14.70" style='font-size:35.0px'>)</tspan></text>
<text x="831.00" y="868.80" text-anchor="middle" fill="#e3191c" transform="rotate(-90 831.00 868.80)"><tspan style='font-style:italic;font-size:35.0px'>n</tspan><tspan dy="9.45" style='font-size:23.8px'>eff</tspan></text>
<line x1="365.00" y1="703.10" x2="389.50" y2="703.10" stroke="#000" stroke-width="2"/>
<text x="402.30" y="711.50" text-anchor="start" fill="#000"><tspan style='font-style:italic;font-size:30.6px'>q</tspan><tspan style='font-size:30.6px'> in Air/PMMA/hBN/SiO</tspan><tspan dy="6.95" style='font-size:20.2px'>2</tspan></text>
<line x1="365.00" y1="739.10" x2="389.50" y2="739.10" stroke="#e3191c" stroke-width="2"/>
<text x="402.30" y="748.50" text-anchor="start" fill="#e3191c"><tspan style='font-style:italic;font-size:30.6px'>n</tspan><tspan dy="6.95" style='font-size:20.2px'>eff</tspan></text>
<text x="166.00" y="1054.50" text-anchor="start" fill="#000"><tspan style='font-family:"Liberation Serif", "Times New Roman", serif;font-style:italic;font-size:30.5px'>ω</tspan><tspan style='font-size:30.5px'> = 1,500 cm</tspan></text>
<line x1="350.80" y1="1037.70" x2="365.70" y2="1037.70" stroke="#000" stroke-width="1.7"/>
<text x="370.90" y="1045.30" text-anchor="start" fill="#000"><tspan style='font-size:20.0px'>1</tspan></text>
<text x="602.00" y="875.00" text-anchor="middle" fill="#000"><tspan style='font-size:30.6px'>Re(</tspan><tspan style='font-style:italic;font-size:30.6px'>E</tspan><tspan dy="6.95" style='font-size:20.2px'>z</tspan><tspan dy="-6.95" style='font-size:30.6px'>)</tspan></text>
<linearGradient id="bwr" x1="0" x2="1" y1="0" y2="0"><stop offset="0" stop-color="#0000ff"/><stop offset="0.5" stop-color="#ffffff"/><stop offset="1" stop-color="#ff0000"/></linearGradient>
<rect x="538.90" y="889.90" width="125.90" height="9.00" fill="url(#bwr)" stroke="#222" stroke-width="1"/>
<line x1="516.00" y1="894.50" x2="530.00" y2="894.50" stroke="#000" stroke-width="2.6"/>
<line x1="672.00" y1="894.50" x2="686.00" y2="894.50" stroke="#000" stroke-width="2.6"/>
<line x1="679.00" y1="887.50" x2="679.00" y2="901.50" stroke="#000" stroke-width="2.6"/>
<rect x="477.00" y="907.50" width="251.00" height="106.75" fill="none" stroke="#000" stroke-width="2"/>
<line x1="477.00" y1="961.75" x2="728.00" y2="961.75" stroke="#000" stroke-width="1.7"/>
<line x1="477.00" y1="966.30" x2="728.00" y2="966.30" stroke="#000" stroke-width="1.7"/>
<path d="M536.25,961.25 L664.5,914.25 L664.5,961.25" stroke="#000" stroke-width="1.6" fill="none"/>
<text x="569.00" y="944.50" text-anchor="start" fill="#000"><tspan style='font-size:30.6px'>PMMA</tspan></text>
<text x="683.25" y="936.25" text-anchor="start" fill="#000"><tspan style='font-size:30.6px'>Air</tspan></text>
<text x="467.50" y="971.75" text-anchor="end" fill="#000"><tspan style='font-size:30.6px'>hBN</tspan></text>
<text x="721.20" y="1000.00" text-anchor="end" fill="#000"><tspan style='font-size:30.6px'>SiO</tspan><tspan dy="6.95" style='font-size:20.2px'>2</tspan></text>
<path d="M436.25,1056.5 L436.25,1014 M436.25,1056.5 L481,1057" stroke="#000" stroke-width="1.6" fill="none"/>
<path d="M430,1022 L436.25,1011 L442.5,1022 L436.25,1016 Z" stroke="#000" stroke-width="1" fill="#000"/>
<path d="M471,1050.5 L483,1057 L471,1063.5 L476,1057 Z" stroke="#000" stroke-width="1" fill="#000"/>
<text x="437.00" y="1008.50" text-anchor="middle" fill="#000"><tspan style='font-style:italic;font-size:30.6px'>z</tspan></text>
<text x="486.50" y="1067.00" text-anchor="start" fill="#000"><tspan style='font-style:italic;font-size:30.6px'>x</tspan></text>
<clipPath id="clipc"><rect x="983.00" y="101.00" width="397.50" height="332.10"/></clipPath>
<g clip-path="url(#clipc)" fill="none" stroke="#222" stroke-width="1.1" stroke-linejoin="round">
<path d="M984.9,113.5 L985.1,128.9 L986.2,158.0 L987.9,188.8 L990.0,217.9 L994.3,259.5 L996.8,277.3 L999.6,293.3 L1002.7,307.5 L1006.1,319.9 L1009.8,331.3 L1013.9,341.4 L1018.4,350.3 L1023.5,358.7 L1029.1,366.0 L1035.5,372.8"/>
<path d="M1087.4,400.1 L1107.0,404.9 L1130.1,409.1 L1157.1,412.6 L1188.9,415.6 L1226.3,418.2 L1270.0,420.4 L1320.9,422.3 L1380.5,423.8"/>
<path d="M1380.5,121.5 L1005.3,121.5 L995.7,121.9 L993.3,122.5 L991.7,123.5 L990.2,126.5 L989.6,130.1 L989.4,136.0 L989.7,145.5 L992.5,178.2 L996.5,209.3 L1000.5,233.0 L1005.3,255.5 L1010.5,274.9 L1016.4,292.3 L1022.3,306.4 L1028.8,318.8 L1036.3,330.6 L1044.2,340.7 L1053.0,349.7 L1063.3,358.4 L1074.4,365.9 L1086.3,372.5"/>
<path d="M1142.0,391.5 L1161.9,395.7 L1184.1,399.5 L1208.8,402.9 L1236.6,406.0 L1266.8,408.7 L1301.0,411.2 L1380.5,415.4"/>
<path d="M1380.5,147.0 L1328.0,147.0"/>
<path d="M1269.2,147.0 L1028.3,147.1 L1014.0,147.6 L1010.0,148.3 L1006.9,149.4 L1004.5,151.0 L1002.9,153.2 L1001.7,156.2 L1001.0,160.4 L1001.1,172.2 L1002.9,188.3 L1006.9,210.0 L1011.6,229.9 L1018.0,250.8 L1025.1,269.6 L1033.6,287.4 L1042.9,302.8 L1053.5,317.0 L1065.2,329.5 L1078.4,340.7 L1092.7,350.5 L1109.4,359.6 L1127.7,367.5 L1148.2,374.6 L1171.4,381.0 L1196.9,386.6 L1226.3,391.7 L1258.1,396.1 L1294.2,400.1 L1334.7,403.7 L1380.5,406.9"/>
<path d="M1380.5,197.4 L1328.0,197.4"/>
<path d="M1269.2,197.4 L1093.5,197.5 L1071.2,197.9 L1057.7,198.8 L1051.4,199.9 L1046.4,201.3 L1042.6,203.2 L1039.4,205.8 L1037.3,209.0 L1035.9,213.2 L1035.4,218.5 L1035.7,224.5 L1037.1,232.4 L1039.4,241.1 L1042.6,250.3 L1046.6,259.6 L1051.4,269.1 L1056.8,278.5 L1062.5,287.1 L1068.9,295.5 L1075.2,303.0 L1081.8,309.9 L1088.8,316.4 L1096.7,323.0 L1104.6,329.0 L1113.4,334.8 L1122.3,340.2 L1132.4,345.5 L1152.3,354.5 L1175.4,362.9 L1201.5,370.4 L1229.7,377.0 L1261.5,382.9 L1297.4,388.2 L1337.3,393.0 L1380.5,397.1"/>
<path d="M1380.5,288.6 L1328.0,288.7"/>
<path d="M1269.2,289.3 L1243.0,290.0 L1222.3,291.1 L1206.1,292.7 L1193.7,294.9 L1184.9,297.6 L1181.6,299.2 L1178.6,301.3 L1176.7,303.4 L1175.4,305.8 L1174.9,308.1 L1175.2,311.1 L1177.3,315.8 L1181.5,321.2 L1187.4,326.5 L1195.8,332.5 L1204.9,337.8 L1215.8,343.1 L1227.0,347.9 L1239.8,352.6 L1254.6,357.4 L1269.3,361.5 L1302.1,369.3 L1337.3,375.8 L1380.5,382.1"/>
</g>
<text x="1298.50" y="156.72" text-anchor="middle" fill="#000" transform="rotate(0 1298.50 147.00)"><tspan style='font-size:27.0px'>1.30</tspan></text>
<text x="1298.50" y="208.52" text-anchor="middle" fill="#000" transform="rotate(0 1298.50 198.80)"><tspan style='font-size:27.0px'>1.40</tspan></text>
<text x="1298.50" y="295.32" text-anchor="middle" fill="#000" transform="rotate(0 1298.50 285.60)"><tspan style='font-size:27.0px'>1.50</tspan></text>
<text x="1059.70" y="400.22" text-anchor="middle" fill="#000" transform="rotate(24 1059.70 390.50)"><tspan style='font-size:27.0px'>1.10</tspan></text>
<text x="1113.70" y="393.72" text-anchor="middle" fill="#000" transform="rotate(17 1113.70 384.00)"><tspan style='font-size:27.0px'>1.20</tspan></text>
<line x1="983.00" y1="246.14" x2="1380.50" y2="246.14" stroke="#ee1c24" stroke-width="3" stroke-dasharray="11.8 10.6"/>
<rect x="983.00" y="76.00" width="397.50" height="25.00" fill="#e0e1e1"/>
<rect x="983.00" y="433.10" width="397.50" height="39.90" fill="#e0e1e1"/>
<line x1="983.00" y1="101.00" x2="1380.50" y2="101.00" stroke="#fff" stroke-width="2.2"/>
<line x1="983.00" y1="101.00" x2="1380.50" y2="101.00" stroke="#000" stroke-width="2.2" stroke-dasharray="7.7 7.05" stroke-dashoffset="9.35"/>
<line x1="983.00" y1="433.10" x2="1380.50" y2="433.10" stroke="#fff" stroke-width="2.2"/>
<line x1="983.00" y1="433.10" x2="1380.50" y2="433.10" stroke="#000" stroke-width="2.2" stroke-dasharray="7.7 7.05" stroke-dashoffset="9.35"/>
<rect x="983.00" y="76.00" width="397.50" height="397.00" fill="none" stroke="#000" stroke-width="2.2"/>
<text x="983.00" y="510.50" text-anchor="middle" fill="#000"><tspan style='font-size:35.0px'>0</tspan></text>
<line x1="1062.50" y1="473.00" x2="1062.50" y2="465.00" stroke="#000" stroke-width="2"/>
<text x="1062.50" y="510.50" text-anchor="middle" fill="#000"><tspan style='font-size:35.0px'>100</tspan></text>
<line x1="1142.00" y1="473.00" x2="1142.00" y2="465.00" stroke="#000" stroke-width="2"/>
<text x="1142.00" y="510.50" text-anchor="middle" fill="#000"><tspan style='font-size:35.0px'>200</tspan></text>
<line x1="1221.50" y1="473.00" x2="1221.50" y2="465.00" stroke="#000" stroke-width="2"/>
<text x="1221.50" y="510.50" text-anchor="middle" fill="#000"><tspan style='font-size:35.0px'>300</tspan></text>
<line x1="1301.00" y1="473.00" x2="1301.00" y2="465.00" stroke="#000" stroke-width="2"/>
<text x="1301.00" y="510.50" text-anchor="middle" fill="#000"><tspan style='font-size:35.0px'>400</tspan></text>
<text x="1380.50" y="510.50" text-anchor="middle" fill="#000"><tspan style='font-size:35.0px'>500</tspan></text>
<text x="972.60" y="484.00" text-anchor="end" fill="#000"><tspan style='font-size:35.0px'>1,300</tspan></text>
<line x1="983.00" y1="359.57" x2="991.00" y2="359.57" stroke="#000" stroke-width="2"/>
<text x="972.60" y="370.57" text-anchor="end" fill="#000"><tspan style='font-size:35.0px'>1,400</tspan></text>
<line x1="983.00" y1="246.14" x2="991.00" y2="246.14" stroke="#000" stroke-width="2"/>
<text x="972.60" y="257.14" text-anchor="end" fill="#000"><tspan style='font-size:35.0px'>1,500</tspan></text>
<line x1="983.00" y1="132.71" x2="991.00" y2="132.71" stroke="#000" stroke-width="2"/>
<text x="972.60" y="143.71" text-anchor="end" fill="#000"><tspan style='font-size:35.0px'>1,600</tspan></text>
<text x="851.00" y="27.50" text-anchor="start" fill="#000"><tspan style='font-weight:bold;font-size:42.0px'>c</tspan></text>
<text x="1181.75" y="552.80" text-anchor="middle" fill="#000"><tspan style='font-style:italic;font-size:35.0px'>d</tspan><tspan dy="9.45" style='font-size:23.8px'>PMMA</tspan><tspan dy="-9.45" style='font-size:35.0px'> (nm)</tspan></text>
<text x="872.30" y="274.50" text-anchor="middle" fill="#000" transform="rotate(-90 872.30 274.50)"><tspan style='font-family:"Liberation Serif", "Times New Roman", serif;font-style:italic;font-size:35.0px'>ω</tspan><tspan style='font-size:35.0px'> (cm</tspan><tspan dy="-14.70" style='font-size:23.1px'>−1</tspan><tspan dy="14.70" style='font-size:35.0px'>)</tspan></text>
<text x="992.00" y="93.30" text-anchor="start" fill="#000"><tspan style='font-family:"Liberation Serif", "Times New Roman", serif;font-style:italic;font-size:31.0px'>ω</tspan><tspan dy="6.20" style='font-size:19.5px'>LO</tspan></text>
<text x="992.00" y="454.30" text-anchor="start" fill="#000"><tspan style='font-family:"Liberation Serif", "Times New Roman", serif;font-style:italic;font-size:31.0px'>ω</tspan><tspan dy="6.20" style='font-size:19.5px'>TO</tspan></text>
<text x="1368.70" y="456.80" text-anchor="end" fill="#000"><tspan style='font-style:italic;font-size:30.6px'>d</tspan><tspan dy="6.95" style='font-size:20.2px'>hBN</tspan><tspan dy="-6.95" style='font-size:30.6px'> = 50 nm</tspan></text>
<rect x="1081.25" y="40.50" width="188.25" height="14.70" fill="url(#cmap)" stroke="#333" stroke-width="1.2"/>
<text x="1064.00" y="60.50" text-anchor="end" fill="#000"><tspan style='font-size:30.6px'>1</tspan></text>
<text x="1280.00" y="60.50" text-anchor="start" fill="#000"><tspan style='font-size:30.6px'>1.6</tspan></text>
<text x="1155.90" y="30.75" text-anchor="start" fill="#000"><tspan style='font-style:italic;font-size:30.6px'>n</tspan><tspan dy="7.34" style='font-size:20.2px'>eff</tspan></text>
<clipPath id="clipd"><rect x="984.60" y="679.00" width="397.40" height="396.20"/></clipPath>
<g clip-path="url(#clipd)" fill="none" stroke="#222" stroke-width="1.1" stroke-linejoin="round">
<path d="M999.6,679.0 L999.2,689.9"/>
<path d="M997.0,749.3 L984.6,1075.2"/>
<path d="M1030.3,679.0 L1028.9,690.9"/>
<path d="M1022.0,751.2 L984.6,1075.2"/>
<path d="M1065.6,679.0 L1061.9,696.8"/>
<path d="M1049.8,756.2 L984.6,1075.2"/>
<path d="M1116.8,679.0 L1101.3,725.5"/>
<path d="M1083.8,778.0 L984.6,1075.2"/>
<path d="M1291.2,679.0 L1207.9,786.6"/>
<path d="M1171.7,833.4 L984.6,1075.2"/>
</g>
<text x="998.00" y="729.22" text-anchor="middle" fill="#000" transform="rotate(-78.4 998.00 719.50)"><tspan style='font-size:27.0px'>1.05</tspan></text>
<text x="1029.00" y="732.02" text-anchor="middle" fill="#000" transform="rotate(-72 1029.00 722.30)"><tspan style='font-size:27.0px'>1.15</tspan></text>
<text x="1060.50" y="738.32" text-anchor="middle" fill="#000" transform="rotate(-66.6 1060.50 728.60)"><tspan style='font-size:27.0px'>1.25</tspan></text>
<text x="1098.30" y="762.12" text-anchor="middle" fill="#000" transform="rotate(-58.7 1098.30 752.40)"><tspan style='font-size:27.0px'>1.35</tspan></text>
<text x="1190.70" y="820.22" text-anchor="middle" fill="#000" transform="rotate(-45 1190.70 810.50)"><tspan style='font-size:27.0px'>1.45</tspan></text>
<line x1="984.60" y1="943.13" x2="1382.00" y2="943.13" stroke="#ee1c24" stroke-width="3" stroke-dasharray="11.8 10.6"/>
<rect x="984.60" y="679.00" width="397.40" height="396.20" fill="none" stroke="#000" stroke-width="2.2"/>
<text x="984.60" y="1112.20" text-anchor="middle" fill="#000"><tspan style='font-size:35.0px'>0</tspan></text>
<line x1="1064.08" y1="1075.20" x2="1064.08" y2="1067.20" stroke="#000" stroke-width="2"/>
<text x="1064.08" y="1112.20" text-anchor="middle" fill="#000"><tspan style='font-size:35.0px'>100</tspan></text>
<line x1="1143.56" y1="1075.20" x2="1143.56" y2="1067.20" stroke="#000" stroke-width="2"/>
<text x="1143.56" y="1112.20" text-anchor="middle" fill="#000"><tspan style='font-size:35.0px'>200</tspan></text>
<line x1="1223.04" y1="1075.20" x2="1223.04" y2="1067.20" stroke="#000" stroke-width="2"/>
<text x="1223.04" y="1112.20" text-anchor="middle" fill="#000"><tspan style='font-size:35.0px'>300</tspan></text>
<line x1="1302.52" y1="1075.20" x2="1302.52" y2="1067.20" stroke="#000" stroke-width="2"/>
<text x="1302.52" y="1112.20" text-anchor="middle" fill="#000"><tspan style='font-size:35.0px'>400</tspan></text>
<text x="1382.00" y="1112.20" text-anchor="middle" fill="#000"><tspan style='font-size:35.0px'>500</tspan></text>
<text x="974.20" y="1086.20" text-anchor="end" fill="#000"><tspan style='font-size:35.0px'>0</tspan></text>
<line x1="984.60" y1="943.13" x2="992.60" y2="943.13" stroke="#000" stroke-width="2"/>
<text x="974.20" y="954.13" text-anchor="end" fill="#000"><tspan style='font-size:35.0px'>50</tspan></text>
<line x1="984.60" y1="811.07" x2="992.60" y2="811.07" stroke="#000" stroke-width="2"/>
<text x="974.20" y="822.07" text-anchor="end" fill="#000"><tspan style='font-size:35.0px'>100</tspan></text>
<text x="974.20" y="690.00" text-anchor="end" fill="#000"><tspan style='font-size:35.0px'>150</tspan></text>
<text x="851.00" y="649.40" text-anchor="start" fill="#000"><tspan style='font-weight:bold;font-size:42.0px'>d</tspan></text>
<text x="1183.30" y="1154.50" text-anchor="middle" fill="#000"><tspan style='font-style:italic;font-size:35.0px'>d</tspan><tspan dy="9.45" style='font-size:23.8px'>PMMA</tspan><tspan dy="-9.45" style='font-size:35.0px'> (nm)</tspan></text>
<text x="895.40" y="877.10" text-anchor="middle" fill="#000" transform="rotate(-90 895.40 877.10)"><tspan style='font-style:italic;font-size:35.0px'>d</tspan><tspan dy="9.45" style='font-size:23.8px'>hBN</tspan><tspan dy="-9.45" style='font-size:35.0px'> (nm)</tspan></text>
<text x="1162.70" y="1052.80" text-anchor="start" fill="#000"><tspan style='font-family:"Liberation Serif", "Times New Roman", serif;font-style:italic;font-size:30.5px'>ω</tspan><tspan style='font-size:30.5px'> = 1,500 cm</tspan></text>
<line x1="1347.50" y1="1036.00" x2="1362.40" y2="1036.00" stroke="#000" stroke-width="1.7"/>
<text x="1367.60" y="1043.60" text-anchor="start" fill="#000"><tspan style='font-size:20.0px'>1</tspan></text>
<rect x="1085.90" y="642.60" width="187.60" height="14.00" fill="url(#cmap)" stroke="#333" stroke-width="1.2"/>
<text x="1069.00" y="663.40" text-anchor="end" fill="#000"><tspan style='font-size:30.6px'>1</tspan></text>
<text x="1278.30" y="663.40" text-anchor="start" fill="#000"><tspan style='font-size:30.6px'>1.6</tspan></text>
<text x="1159.90" y="633.00" text-anchor="start" fill="#000"><tspan style='font-style:italic;font-size:30.6px'>n</tspan><tspan dy="7.34" style='font-size:20.2px'>eff</tspan></text>
<clipPath id="clipe"><rect x="1577.50" y="102.50" width="397.50" height="330.90"/></clipPath>
<g clip-path="url(#clipe)" fill="none" stroke="#222" stroke-width="1.1" stroke-linejoin="round">
<path d="M1975.0,121.8 L1924.3,123.4 L1882.6,125.3 L1846.8,127.7 L1817.0,130.5 L1792.2,133.8 L1771.3,137.7 L1753.7,142.3 L1738.5,148.0"/>
<path d="M1695.3,188.2 L1689.6,200.3 L1684.3,215.2 L1679.5,232.3 L1674.8,253.3 L1667.7,293.1 L1653.2,387.0 L1645.5,433.3"/>
<path d="M1975.0,169.1 L1948.2,173.2 L1925.2,177.7 L1903.5,182.9 L1884.6,188.5 L1867.5,194.8 L1851.7,202.0 L1837.0,210.2 L1824.2,219.1"/>
<path d="M1784.6,262.7 L1777.2,274.9 L1770.3,287.8 L1763.2,302.5 L1756.0,319.0 L1742.5,353.7 L1713.5,433.3"/>
<path d="M1975.0,239.8 L1962.1,244.9 L1950.3,250.0 L1939.2,255.4 L1928.3,261.3 L1917.6,267.7 L1907.6,274.3 L1897.8,281.5 L1888.9,288.7"/>
<path d="M1848.2,331.2 L1834.0,350.0 L1819.4,371.5 L1803.7,396.3 L1781.5,433.3"/>
<path d="M1975.0,319.2 L1953.3,333.4 L1932.9,348.9"/>
<path d="M1889.5,388.9 L1870.7,409.2 L1849.5,433.3"/>
<path d="M1975.0,388.2 L1968.9,392.5"/>
<path d="M1922.7,428.9 L1917.5,433.3"/>
</g>
<text x="1714.00" y="174.72" text-anchor="middle" fill="#000" transform="rotate(-42 1714.00 165.00)"><tspan style='font-size:27.0px'>1.30</tspan></text>
<text x="1803.00" y="248.72" text-anchor="middle" fill="#000" transform="rotate(-42 1803.00 239.00)"><tspan style='font-size:27.0px'>1.60</tspan></text>
<text x="1868.40" y="319.22" text-anchor="middle" fill="#000" transform="rotate(-43 1868.40 309.50)"><tspan style='font-size:27.0px'>1.90</tspan></text>
<text x="1910.80" y="378.42" text-anchor="middle" fill="#000" transform="rotate(-43.6 1910.80 368.70)"><tspan style='font-size:27.0px'>2.20</tspan></text>
<text x="1945.70" y="419.72" text-anchor="middle" fill="#000" transform="rotate(-38.3 1945.70 410.00)"><tspan style='font-size:27.0px'>2.50</tspan></text>
<g clip-path="url(#clipe)">
<path d="M1730.8,433.4 L1730.7,427.8 L1730.6,422.2 L1730.5,416.6 L1730.4,411.0 L1730.3,405.4 L1730.3,399.7 L1730.2,394.1 L1730.2,388.5 L1730.2,382.9 L1730.2,377.3 L1730.2,371.7 L1730.2,366.1 L1730.2,360.5 L1730.2,354.9 L1730.3,349.3 L1730.3,343.7 L1730.4,338.1 L1730.5,332.4 L1730.6,326.8 L1730.7,321.2 L1730.8,315.6 L1730.9,310.0 L1731.0,304.4 L1731.2,298.8 L1731.4,293.2 L1731.5,287.6 L1731.7,282.0 L1731.9,276.4 L1732.1,270.8 L1732.3,265.1 L1732.5,259.5 L1732.8,253.9 L1733.0,248.3 L1733.3,242.7 L1733.5,237.1 L1733.8,231.5 L1734.1,225.9 L1734.4,220.3 L1734.7,214.7 L1735.1,209.1 L1735.4,203.5 L1735.7,197.8 L1736.1,192.2 L1736.5,186.6 L1736.9,181.0 L1737.3,175.4 L1737.7,169.8 L1738.1,164.2 L1738.5,158.6 L1738.9,153.0 L1739.4,147.4 L1739.8,141.8 L1740.3,136.2 L1740.8,130.5 L1741.3,124.9 L1741.8,119.3 L1742.3,113.7 L1742.9,108.1 L1743.4,102.5" stroke="#d9272e" stroke-width="2.6" fill="none" stroke-dasharray="11 7"/>
</g>
<rect x="1577.50" y="76.00" width="397.50" height="26.50" fill="#e0e1e1"/>
<rect x="1577.50" y="433.40" width="397.50" height="39.60" fill="#e0e1e1"/>
<line x1="1577.50" y1="102.50" x2="1975.00" y2="102.50" stroke="#fff" stroke-width="2.2"/>
<line x1="1577.50" y1="102.50" x2="1975.00" y2="102.50" stroke="#000" stroke-width="2.2" stroke-dasharray="7.7 7.05" stroke-dashoffset="9.35"/>
<line x1="1577.50" y1="433.40" x2="1975.00" y2="433.40" stroke="#fff" stroke-width="2.2"/>
<line x1="1577.50" y1="433.40" x2="1975.00" y2="433.40" stroke="#000" stroke-width="2.2" stroke-dasharray="7.7 7.05" stroke-dashoffset="9.35"/>
<rect x="1577.50" y="76.00" width="397.50" height="397.00" fill="none" stroke="#000" stroke-width="2.2"/>
<text x="1577.50" y="510.50" text-anchor="middle" fill="#000"><tspan style='font-size:35.0px'>1</tspan></text>
<line x1="1710.00" y1="473.00" x2="1710.00" y2="465.00" stroke="#000" stroke-width="2"/>
<text x="1710.00" y="510.50" text-anchor="middle" fill="#000"><tspan style='font-size:35.0px'>2</tspan></text>
<line x1="1842.50" y1="473.00" x2="1842.50" y2="465.00" stroke="#000" stroke-width="2"/>
<text x="1842.50" y="510.50" text-anchor="middle" fill="#000"><tspan style='font-size:35.0px'>3</tspan></text>
<text x="1975.00" y="510.50" text-anchor="middle" fill="#000"><tspan style='font-size:35.0px'>4</tspan></text>
<text x="1567.10" y="484.00" text-anchor="end" fill="#000"><tspan style='font-size:35.0px'>1,300</tspan></text>
<line x1="1577.50" y1="359.57" x2="1585.50" y2="359.57" stroke="#000" stroke-width="2"/>
<text x="1567.10" y="370.57" text-anchor="end" fill="#000"><tspan style='font-size:35.0px'>1,400</tspan></text>
<line x1="1577.50" y1="246.14" x2="1585.50" y2="246.14" stroke="#000" stroke-width="2"/>
<text x="1567.10" y="257.14" text-anchor="end" fill="#000"><tspan style='font-size:35.0px'>1,500</tspan></text>
<line x1="1577.50" y1="132.71" x2="1585.50" y2="132.71" stroke="#000" stroke-width="2"/>
<text x="1567.10" y="143.71" text-anchor="end" fill="#000"><tspan style='font-size:35.0px'>1,600</tspan></text>
<text x="1441.00" y="27.60" text-anchor="start" fill="#000"><tspan style='font-weight:bold;font-size:42.0px'>e</tspan></text>
<text x="1776.25" y="542.50" text-anchor="middle" fill="#000"><tspan style='font-family:"Liberation Serif", "Times New Roman", serif;font-style:italic;font-size:35.0px'>ε</tspan><tspan dy="8.50" style='font-size:23.8px'>dl</tspan></text>
<text x="1466.80" y="274.50" text-anchor="middle" fill="#000" transform="rotate(-90 1466.80 274.50)"><tspan style='font-family:"Liberation Serif", "Times New Roman", serif;font-style:italic;font-size:35.0px'>ω</tspan><tspan style='font-size:35.0px'> (cm</tspan><tspan dy="-14.70" style='font-size:23.1px'>−1</tspan><tspan dy="14.70" style='font-size:35.0px'>)</tspan></text>
<text x="1585.50" y="95.70" text-anchor="start" fill="#000"><tspan style='font-family:"Liberation Serif", "Times New Roman", serif;font-style:italic;font-size:31.0px'>ω</tspan><tspan dy="6.20" style='font-size:19.5px'>LO</tspan></text>
<text x="1585.50" y="453.70" text-anchor="start" fill="#000"><tspan style='font-family:"Liberation Serif", "Times New Roman", serif;font-style:italic;font-size:31.0px'>ω</tspan><tspan dy="6.20" style='font-size:19.5px'>TO</tspan></text>
<text x="1827.30" y="452.90" text-anchor="start" fill="#000"><tspan style='font-family:"Liberation Serif", "Times New Roman", serif;font-style:italic;font-size:30.0px'>ε</tspan></text>
<text x="1840.00" y="460.60" text-anchor="start" fill="#000"><tspan style='font-size:21.0px'>sub</tspan></text>
<text x="1908.70" y="452.90" text-anchor="start" fill="#000"><tspan style='font-family:"Liberation Serif", "Times New Roman", serif;font-style:italic;font-size:30.0px'>ε</tspan></text>
<text x="1921.20" y="460.60" text-anchor="start" fill="#000"><tspan style='font-size:21.0px'>SiO</tspan></text>
<text x="1955.60" y="465.30" text-anchor="start" fill="#000"><tspan style='font-size:18.0px'>2</tspan></text>
<line x1="1884.00" y1="440.20" x2="1900.20" y2="440.20" stroke="#000" stroke-width="1.6"/>
<line x1="1884.00" y1="445.80" x2="1900.20" y2="445.80" stroke="#000" stroke-width="1.6"/>
<text x="1857.90" y="155.00" text-anchor="start" fill="#000"><tspan style='font-style:italic;font-size:30.6px'>d</tspan><tspan dy="7.65" style='font-size:20.8px'>dl</tspan></text>
<line x1="1899.70" y1="147.20" x2="1925.40" y2="147.20" stroke="#000" stroke-width="2"/>
<path d="M1920.9,141.7 L1927.5,147.2 L1920.9,152.7" stroke="#000" stroke-width="2" fill="none"/>
<text x="1947.50" y="157.20" text-anchor="middle" fill="#000"><tspan style='font-family:"Liberation Serif", "Times New Roman", serif;font-size:30.6px'>∞</tspan></text>
<text x="1744.80" y="198.90" text-anchor="start" fill="#d9272e"><tspan style='font-family:"Liberation Serif", "Times New Roman", serif;font-style:italic;font-size:30.6px'>ε</tspan><tspan dy="6.73" style='font-size:22.0px'>PMMA</tspan></text>
<rect x="1681.90" y="42.00" width="187.10" height="13.10" fill="url(#cmap)" stroke="#333" stroke-width="1.2"/>
<text x="1667.50" y="58.00" text-anchor="end" fill="#000"><tspan style='font-size:30.6px'>1</tspan></text>
<text x="1878.80" y="58.00" text-anchor="start" fill="#000"><tspan style='font-size:30.6px'>2.8</tspan></text>
<text x="1749.50" y="31.20" text-anchor="start" fill="#000"><tspan style='font-style:italic;font-size:30.6px'>n</tspan><tspan dy="7.34" style='font-size:20.2px'>eff</tspan></text>
<text x="1766.30" y="19.50" text-anchor="start" fill="#000"><tspan style='font-size:20.0px'>max</tspan></text>
<clipPath id="clipf"><rect x="1575.50" y="701.00" width="398.00" height="330.70"/></clipPath>
<g clip-path="url(#clipf)" fill="none" stroke="#222" stroke-width="1.1" stroke-linejoin="round">
<path d="M1973.5,720.4 L1883.0,717.9"/>
<path d="M1823.3,716.0 L1689.9,711.2 L1575.5,705.6"/>
<path d="M1973.5,839.1 L1963.6,830.8 L1953.3,823.0 L1941.8,815.3 L1929.9,808.1 L1916.7,801.0 L1903.1,794.3 L1888.0,787.7 L1873.0,781.7"/>
<path d="M1817.3,763.6 L1794.1,757.4 L1769.2,751.3 L1741.7,745.2 L1714.4,739.7 L1649.6,728.1 L1575.5,716.6"/>
<path d="M1821.8,1031.6 L1806.9,983.1 L1796.9,952.7 L1787.3,926.2 L1778.0,903.6"/>
<path d="M1749.3,851.2 L1742.1,841.2 L1735.1,832.4 L1727.3,823.6 L1718.7,814.7 L1709.8,806.5 L1700.7,798.7 L1691.3,791.6 L1681.0,784.4 L1670.6,777.8 L1659.2,771.1 L1646.6,764.5 L1634.1,758.5 L1606.7,746.9 L1575.5,735.7"/>
<path d="M1693.9,1031.6 L1681.7,979.8 L1673.8,948.3"/>
<path d="M1656.7,891.5 L1648.9,871.0 L1640.9,853.4 L1631.9,836.3 L1622.6,821.4 L1612.5,807.6 L1601.2,794.3 L1589.1,782.2 L1575.5,770.6"/>
<path d="M1617.1,1031.6 L1605.7,969.8"/>
<path d="M1593.4,911.9 L1584.8,879.9 L1580.1,865.0 L1575.5,852.0"/>
</g>
<text x="1853.00" y="728.32" text-anchor="middle" fill="#000" transform="rotate(2 1853.00 718.60)"><tspan style='font-size:27.0px'>1.20</tspan></text>
<text x="1845.00" y="783.72" text-anchor="middle" fill="#000" transform="rotate(15.7 1845.00 774.00)"><tspan style='font-size:27.0px'>1.40</tspan></text>
<text x="1764.40" y="886.52" text-anchor="middle" fill="#000" transform="rotate(48.6 1764.40 876.80)"><tspan style='font-size:27.0px'>1.60</tspan></text>
<text x="1669.00" y="927.72" text-anchor="middle" fill="#000" transform="rotate(65 1669.00 918.00)"><tspan style='font-size:27.0px'>1.80</tspan></text>
<text x="1604.00" y="948.62" text-anchor="middle" fill="#000" transform="rotate(66.4 1604.00 938.90)"><tspan style='font-size:27.0px'>2.00</tspan></text>
<g clip-path="url(#clipf)">
<path d="M1753.4,1031.7 L1759.2,1026.1 L1764.9,1020.5 L1770.4,1014.9 L1775.8,1009.3 L1781.0,1003.7 L1786.2,998.1 L1791.2,992.5 L1796.0,986.9 L1800.8,981.3 L1805.4,975.6 L1809.9,970.0 L1814.3,964.4 L1818.6,958.8 L1822.8,953.2 L1826.8,947.6 L1830.8,942.0 L1834.7,936.4 L1838.4,930.8 L1842.1,925.2 L1845.6,919.6 L1849.1,914.0 L1852.5,908.4 L1855.8,902.8 L1859.0,897.2 L1862.1,891.6 L1865.2,886.0 L1868.1,880.4 L1871.0,874.8 L1873.8,869.2 L1876.6,863.5 L1879.3,857.9 L1881.9,852.3 L1884.4,846.7 L1886.9,841.1 L1889.4,835.5 L1891.7,829.9 L1894.1,824.3 L1896.3,818.7 L1898.6,813.1 L1900.7,807.5 L1902.9,801.9 L1905.0,796.3 L1907.0,790.7 L1909.0,785.1 L1911.0,779.5 L1913.0,773.9 L1914.9,768.3 L1916.8,762.7 L1918.7,757.1 L1920.6,751.4 L1922.4,745.8 L1924.2,740.2 L1926.0,734.6 L1927.8,729.0 L1929.6,723.4 L1931.4,717.8 L1933.2,712.2 L1935.0,706.6 L1936.8,701.0" stroke="#d9272e" stroke-width="2.6" fill="none" stroke-dasharray="11 7"/>
</g>
<rect x="1575.50" y="678.00" width="398.00" height="23.00" fill="#e0e1e1"/>
<rect x="1575.50" y="1031.70" width="398.00" height="44.10" fill="#e0e1e1"/>
<line x1="1575.50" y1="701.00" x2="1973.50" y2="701.00" stroke="#fff" stroke-width="2.2"/>
<line x1="1575.50" y1="701.00" x2="1973.50" y2="701.00" stroke="#000" stroke-width="2.2" stroke-dasharray="7.7 7.05" stroke-dashoffset="9.35"/>
<line x1="1575.50" y1="1031.70" x2="1973.50" y2="1031.70" stroke="#fff" stroke-width="2.2"/>
<line x1="1575.50" y1="1031.70" x2="1973.50" y2="1031.70" stroke="#000" stroke-width="2.2" stroke-dasharray="7.7 7.05" stroke-dashoffset="9.35"/>
<rect x="1575.50" y="678.00" width="398.00" height="397.80" fill="none" stroke="#000" stroke-width="2.2"/>
<text x="1575.50" y="1113.30" text-anchor="middle" fill="#000"><tspan style='font-size:35.0px'>0.0</tspan></text>
<line x1="1708.17" y1="1075.80" x2="1708.17" y2="1067.80" stroke="#000" stroke-width="2"/>
<text x="1708.17" y="1113.30" text-anchor="middle" fill="#000"><tspan style='font-size:35.0px'>0.5</tspan></text>
<line x1="1840.83" y1="1075.80" x2="1840.83" y2="1067.80" stroke="#000" stroke-width="2"/>
<text x="1840.83" y="1113.30" text-anchor="middle" fill="#000"><tspan style='font-size:35.0px'>1.0</tspan></text>
<text x="1973.50" y="1113.30" text-anchor="middle" fill="#000"><tspan style='font-size:35.0px'>1.5</tspan></text>
<text x="1565.10" y="1086.80" text-anchor="end" fill="#000"><tspan style='font-size:35.0px'>1,300</tspan></text>
<line x1="1575.50" y1="962.14" x2="1583.50" y2="962.14" stroke="#000" stroke-width="2"/>
<text x="1565.10" y="973.14" text-anchor="end" fill="#000"><tspan style='font-size:35.0px'>1,400</tspan></text>
<line x1="1575.50" y1="848.49" x2="1583.50" y2="848.49" stroke="#000" stroke-width="2"/>
<text x="1565.10" y="859.49" text-anchor="end" fill="#000"><tspan style='font-size:35.0px'>1,500</tspan></text>
<line x1="1575.50" y1="734.83" x2="1583.50" y2="734.83" stroke="#000" stroke-width="2"/>
<text x="1565.10" y="745.83" text-anchor="end" fill="#000"><tspan style='font-size:35.0px'>1,600</tspan></text>
<text x="1440.00" y="649.50" text-anchor="start" fill="#000"><tspan style='font-weight:bold;font-size:42.0px'>f</tspan></text>
<text x="1774.50" y="1143.30" text-anchor="middle" fill="#000"><tspan style='font-family:"Liberation Serif", "Times New Roman", serif;font-style:italic;font-size:35.0px'>ε</tspan><tspan dy="6.65" style='font-size:23.8px'>sub</tspan></text>
<text x="1464.80" y="876.90" text-anchor="middle" fill="#000" transform="rotate(-90 1464.80 876.90)"><tspan style='font-family:"Liberation Serif", "Times New Roman", serif;font-style:italic;font-size:35.0px'>ω</tspan><tspan style='font-size:35.0px'> (cm</tspan><tspan dy="-14.70" style='font-size:23.1px'>−1</tspan><tspan dy="14.70" style='font-size:35.0px'>)</tspan></text>
<text x="1584.70" y="693.00" text-anchor="start" fill="#000"><tspan style='font-family:"Liberation Serif", "Times New Roman", serif;font-style:italic;font-size:31.0px'>ω</tspan><tspan dy="6.20" style='font-size:19.5px'>LO</tspan></text>
<text x="1584.70" y="1056.90" text-anchor="start" fill="#000"><tspan style='font-family:"Liberation Serif", "Times New Roman", serif;font-style:italic;font-size:31.0px'>ω</tspan><tspan dy="6.20" style='font-size:19.5px'>TO</tspan></text>
<text x="1825.40" y="1056.60" text-anchor="start" fill="#000"><tspan style='font-family:"Liberation Serif", "Times New Roman", serif;font-style:italic;font-size:30.0px'>ε</tspan></text>
<text x="1837.30" y="1063.80" text-anchor="start" fill="#000"><tspan style='font-size:20.5px'>dl</tspan></text>
<text x="1889.40" y="1056.60" text-anchor="start" fill="#000"><tspan style='font-family:"Liberation Serif", "Times New Roman", serif;font-style:italic;font-size:30.0px'>ε</tspan></text>
<text x="1901.60" y="1063.80" text-anchor="start" fill="#000"><tspan style='font-size:20.5px'>PMMA</tspan></text>
<line x1="1864.20" y1="1043.70" x2="1881.00" y2="1043.70" stroke="#000" stroke-width="1.6"/>
<line x1="1864.20" y1="1049.30" x2="1881.00" y2="1049.30" stroke="#000" stroke-width="1.6"/>
<text x="1863.50" y="1012.50" text-anchor="start" fill="#000"><tspan style='font-style:italic;font-size:30.6px'>d</tspan><tspan dy="7.65" style='font-size:20.8px'>dl</tspan></text>
<line x1="1905.30" y1="1004.70" x2="1931.00" y2="1004.70" stroke="#000" stroke-width="2"/>
<path d="M1926.5,999.2 L1933.1,1004.7 L1926.5,1010.2" stroke="#000" stroke-width="2" fill="none"/>
<text x="1953.10" y="1014.70" text-anchor="middle" fill="#000"><tspan style='font-family:"Liberation Serif", "Times New Roman", serif;font-size:30.6px'>∞</tspan></text>
<text x="1868.00" y="913.40" text-anchor="start" fill="#d9272e"><tspan style='font-family:"Liberation Serif", "Times New Roman", serif;font-style:italic;font-size:30.6px'>ε</tspan><tspan dy="7.96" style='font-size:20.8px'>SiO</tspan><tspan dy="3.89" style='font-size:17.7px'>2</tspan></text>
<rect x="1676.10" y="639.90" width="187.60" height="13.60" fill="url(#cmap)" stroke="#333" stroke-width="1.2"/>
<text x="1664.50" y="656.10" text-anchor="end" fill="#000"><tspan style='font-size:30.6px'>1</tspan></text>
<text x="1873.90" y="656.10" text-anchor="start" fill="#000"><tspan style='font-size:30.6px'>2.8</tspan></text>
<text x="1744.30" y="629.50" text-anchor="start" fill="#000"><tspan style='font-style:italic;font-size:30.6px'>n</tspan><tspan dy="7.34" style='font-size:20.2px'>eff</tspan></text>
<text x="1761.10" y="618.40" text-anchor="start" fill="#000"><tspan style='font-size:20.0px'>max</tspan></text>
</svg>
<script>

(function(){
const TO=1338.5,LO=1628.0,EINF=4.87,EZ=2.8;
const CS=[0.013200289468835842, -0.04757311480289676, 0.19397591542485396, 1.163512431826334],CP=[0.017646372050516966, 0.038726733255230975, 2.173517965465737],STOPS=[[0.0, [60, 40, 220]], [0.012, [64, 44, 228]], [0.068, [68, 34, 255]], [0.123, [74, 56, 252]], [0.179, [80, 80, 255]], [0.235, [80, 112, 252]], [0.29, [76, 144, 250]], [0.347, [80, 168, 236]], [0.424, [88, 192, 216]], [0.479, [92, 208, 192]], [0.535, [96, 220, 170]], [0.591, [100, 228, 148]], [0.628, [112, 232, 120]], [0.674, [144, 224, 72]], [0.724, [168, 208, 64]], [0.755, [192, 203, 60]], [0.775, [207, 196, 58]], [0.8, [216, 184, 60]], [0.817, [224, 176, 64]], [0.835, [232, 176, 64]], [0.863, [232, 192, 64]], [0.891, [232, 208, 64]], [0.928, [232, 224, 64]], [0.965, [224, 240, 56]], [1.0, [228, 248, 56]]],SPECS=[{"kind": "field", "x": 479, "y": 189.5, "w": 250, "h": 103, "sub": "air", "y1": 240.6, "y2": 245.1, "x0": 493.0, "half": 31.1, "cx": 479, "cy": 189, "cw": 250, "ch": 104}, {"kind": "field", "x": 479, "y": 313, "w": 250, "h": 103, "sub": "pmma", "y1": 362.3, "y2": 366.8, "x0": 488.0, "half": 21.0, "cx": 479, "cy": 313, "cw": 250, "ch": 103}, {"kind": "fieldb", "x": 478, "y": 908.5, "w": 249, "h": 105, "y1": 961.75, "y2": 966, "x0": 491.0, "half": 30.0, "cx": 478, "cy": 908, "cw": 249, "ch": 106}, {"kind": "c", "x": 983, "y": 76, "w": 397.5, "h": 397, "dLO": 2.0, "cx": 983, "cy": 76, "cw": 398, "ch": 397, "X0": 983, "X1": 1380.5, "Y0": 76, "Y1": 473, "yLO": 101.0, "yTO": 433.1}, {"kind": "d", "x": 984.6, "y": 679, "w": 397.4, "h": 396.20000000000005, "cx": 984, "cy": 679, "cw": 398, "ch": 397, "X0": 984.6, "X1": 1382, "Y0": 679, "Y1": 1075.2}, {"kind": "e", "x": 1577.5, "y": 76, "w": 397.5, "h": 397, "cx": 1577, "cy": 76, "cw": 398, "ch": 397, "X0": 1577.5, "X1": 1975, "Y0": 76, "Y1": 473, "yLO": 102.5, "yTO": 433.4}, {"kind": "f", "x": 1575.5, "y": 678, "w": 398.0, "h": 397.79999999999995, "cx": 1575, "cy": 678, "cw": 399, "ch": 398, "X0": 1575.5, "X1": 1973.5, "Y0": 678, "Y1": 1075.8, "yLO": 701.0, "yTO": 1031.7}];
HB={};
function poly(c,u){let s=0;for(let k=0;k<c.length;k++)s=s*u+c[k];return s;}
function eS(w){return poly(CS,(w-1500)/100);}
function eP(w){return poly(CP,(w-1500)/100);}
function epsT(w){return EINF*(LO*LO-w*w)/(TO*TO-w*w);}
function nmax(edl,w,es){const et=Math.abs(epsT(w));const a=Math.sqrt(EZ*et);return (Math.atan(edl/a)+Math.atan(es/a))/(Math.atan(1/a)+Math.atan(es/a));}
function qfin(w,dh,dp){const et=Math.abs(epsT(w));const a=Math.sqrt(EZ*et),psi=Math.sqrt(EZ/et);const ep=eP(w),es=eS(w);
 const d=dh*1e-7,t=dp*1e-7;const q0=(psi/d)*(Math.atan(1/a)+Math.atan(es/a));let q=q0;
 for(let i=0;i<50;i++){const th=Math.tanh(1.06*q*t);const ee=ep*(1+ep*th)/(ep+th);const qn=(psi/d)*(Math.atan(ee/a)+Math.atan(es/a));q=0.5*q+0.5*qn;}
 return [q,q0];}
const LUT=[];for(let i=0;i<1024;i++){const t=i/1023;let k=0;while(k<STOPS.length-2&&t>STOPS[k+1][0])k++;
 const a=STOPS[k],b=STOPS[k+1];const f=Math.min(1,Math.max(0,(t-a[0])/(b[0]-a[0])));
 LUT.push([a[1][0]+(b[1][0]-a[1][0])*f,a[1][1]+(b[1][1]-a[1][1])*f,a[1][2]+(b[1][2]-a[1][2])*f]);}
function cmap(t){t=Math.min(1,Math.max(0,t));return LUT[Math.round(t*1023)];}
function omega(s,py){return TO+(s.yTO-py)/(s.yTO-s.yLO)*(LO+(s.dLO||0)-TO);}
function bwr(v){v=Math.max(-1,Math.min(1,v));if(v>=0)return [255,255*(1-v),255*(1-v)];return [255*(1+v),255*(1+v),255];}
SPECS.forEach(function(s,idx){
 const cv=document.getElementById('cv'+idx);const ctx=cv.getContext('2d');
 const W=s.cw,H=s.ch;const img=ctx.createImageData(W,H);const D=img.data;
 for(let j=0;j<H;j++){const py=s.cy+j+0.5;
  for(let i=0;i<W;i++){const px=s.cx+i+0.5;let col=null;
   if(s.kind==='c'||s.kind==='e'||s.kind==='f'){let w=omega(s,py);w=Math.min(LO-0.05,Math.max(TO+0.05,w));
     const u=(px-s.X0)/(s.X1-s.X0);
     if(s.kind==='c'){const r=qfin(Math.min(w,1622.0),50,Math.max(0,u*500));col=cmap(((r[0]/r[1])-1)/0.6);}
     else if(s.kind==='e'){const n=nmax(1+3*u,w,eS(w)+0.04);col=cmap((n-1)/1.8);}
     else {const n=nmax(eP(w),w,Math.max(0,1.5*u));col=cmap((n-1)/1.8);}
   } else if(s.kind==='d'){const u=(px-s.X0)/(s.X1-s.X0),v=(s.Y1-py)/(s.Y1-s.Y0);
     const dp=Math.max(0,u*500),dh=Math.max(0.3,v*150);const r=qfin(1500,dh,dp);col=cmap(((r[0]/r[1])-1)/0.6);
   } else if(s.kind==='field'||s.kind==='fieldb'){
     let half=s.half, ph, Lz;
     if(s.kind==='field'){ph=Math.PI*(px-s.x0)/half;Lz=half/Math.PI*1.05;}
     else{ if(!s._ph){s._ph=[];s._lz=[];for(let ii=0;ii<W;ii++){const xx=s.cx+ii+0.5;let p2=0;let x=s.x0;const step=0.25;const sg=xx>=x?1:-1;
         for(;sg*(xx-x)>0;x+=sg*step){p2+=sg*Math.PI*step/halfbc(x);} s._ph.push(p2);s._lz.push(halfbc(xx)/Math.PI*1.05);} }
       ph=s._ph[i];Lz=s._lz[i];}
     const A=2.1*Math.exp(-(px-s.x0)/(s.kind==='field'?(s.sub==='air'?135:120):115));
     let v=0;
     if(py<s.y1){v=Math.cos(ph)*A*Math.exp(-(s.y1-py)/Lz);}
     else if(py>s.y2){v=-Math.cos(ph)*A*Math.exp(-(py-s.y2)/Lz);}
     col=bwr(v);
   }
   const k=4*(j*W+i);D[k]=col[0];D[k+1]=col[1];D[k+2]=col[2];D[k+3]=255;}}
 ctx.putImageData(img,0,0);
});
var HB={};function halfbc(x){const k=Math.round(x*4);if(HB[k]===undefined)HB[k]=halfb(k/4);return HB[k];}
function halfb(x){ if(x<536.25||x>664.5) return 30.0; const dp=(x-536.25)/(664.5-536.25)*480; const r=qfin(1500,50,dp); return 30.0*r[1]/r[0]; }
})();

</script>
</body></html>
